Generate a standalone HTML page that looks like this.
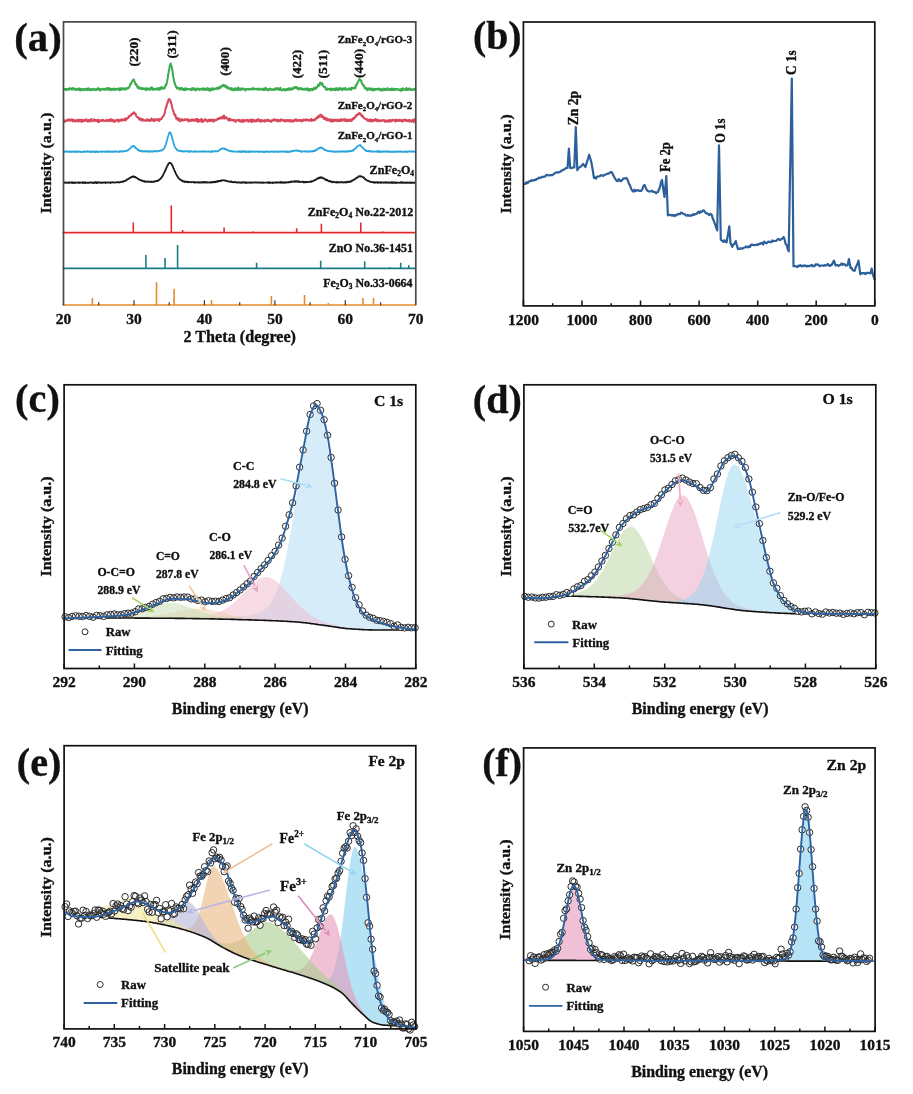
<!DOCTYPE html>
<html><head><meta charset="utf-8"><style>
html,body{margin:0;padding:0;background:#fff;}
svg{display:block;font-family:"Liberation Serif", serif;font-weight:bold;filter:blur(0.3px);}
text{stroke:#111;stroke-width:0.35px;stroke-linejoin:round;}
</style></head><body>
<svg width="913" height="1094" viewBox="0 0 913 1094">
<rect width="913" height="1094" fill="#fff"/>
<path d="M63.5,89.4l.4,.2 .3-.4 .4-.3 .3,.2 .4-.3 .3,.6 .4,.8 .3-1.1 .4-.1 .3,.7 .4-.1 .3-.2 .4-.6 .3,.6 .4,.4 .3-1.2 .4,.5 .3-.9 .4,.4 .4-.3 .3,.9 .4-.6 .3,.9 .4,0 .3-.2 .4-1.4 .3,1.2 .4,.3 .3,.1 .4-1 .3,.6 .4-.3 .3,.1 .4,1.1 .3-1.1 .4,.5 .3,.5 .4-.9 .4,.3 .3,.1 .4,0 .3-.8 .4,.8 .3,.8 .4-1.7 .3,1.4 .4-.4 .3-.5 .4,1.6 .3-.8 .4-1.1 .3,.7 .4,.3 .3-.4 .4,.5 .3-.5 .4,.5 .4,.4 .3-1.2 .4,.5 .3-.4 .4,.4 .3-.8 .4,.3 .3,.3 .4,.6 .3,.2 .4-1.5 .3,.3 .4,.9 .3-1.6 .4,.9 .3,.2 .4,.8 .3-.3 .4-.6 .4-.1 .3,.1 .4,1.1 .3-1.2 .4,.1 .3,.4 .4-.3 .3-.1 .4-.5 .3,.7 .4-.3 .3,1 .4-.3 .3-.5 .4,.5 .3-.6 .4,.8 .3-.6 .4,.3 .4-1.1 .3,1 .4-1.3 .3-.2 .4,1.1 .3-.4 .4,.7 .3,1.2 .4-1.8 .3,.1 .4,.5 .3,.1 .4-.4 .3,0 .4,.6 .3-.1 .4-1 .3,.6 .4,.1 .4-.7 .3,.8 .4-.7 .3,1.1 .4-.4 .3-.1 .4-.4 .3,.3 .4-1.2 .3,.6 .4,.9 .3-1.5 .4,1.7 .3-1.5 .4,1.5 .3-1 .4,1 .4-.4 .3-1 .4,1.7 .3,.1 .4-.9 .3-.2 .4,.1 .3-.5 .4,1.3 .3-1 .4,.3 .3-.5 .4,.1 .3-.4 .4,1.5 .3-.8 .4,.7 .3-.6 .4-.4 .4,.2 .3-.2 .4,.4 .3-.3 .4,.1 .3-.7 .4,.3 .3,1.5 .4-1.4 .3-.2 .4,.8 .3,.6 .4-1.7 .3,.7 .4-.2 .3-.7 .4,1.5 .3-.5 .4,0 .4-.5 .3,.7 .4-.6 .3,.2 .4-.6 .3-.1 .4,1.5 .3-1.2 .4,.4 .3-.3 .4-.3 .3-.2 .4,.5 .3-.8 .4-.2 .3-.3 .4,.3 .3-.8 .4-.8 .4-1.2 .3-1.2 .4,.6 .3-.8 .4-1.4 .3-.4 .4-.5 .3-.5 .4-.2 .3-.9 .4,1.3 .3-1.2 .4,1.8 .3,.5 .4,1 .3,1.4 .4,.5 .3-.8 .4,.4 .4,2.1 .3-.5 .4,1 .3,.9 .4-1.1 .3,0 .4,1.6 .3,0 .4,0 .3,.3 .4-.5 .3-.3 .4,.8 .3-.4 .4-.4 .3,1.4 .4-.4 .3,.3 .4-.8 .4,.2 .3-.2 .4,.1 .3,.7 .4-.6 .3,.7 .4,0 .3,1 .4-2 .3,1.3 .4-.5 .3,0 .4-.8 .3,.5 .4,.8 .3-.5 .4,.1 .3-.2 .4,.8 .4-.7 .3-1.3 .4,.9 .3-.8 .4-.7 .3,1.6 .4,1.1 .3-.8 .4-.7 .3,.1 .4,1.3 .3-.6 .4-.1 .3-.1 .4,.1 .3,.4 .4-.2 .3-.2 .4-.7 .4,.9 .3-.8 .4,1.1 .3-1.4 .4,.6 .3,.1 .4-.9 .3,1.8 .4-.1 .3-1.2 .4,.7 .3-.3 .4-1.9 .3,1.7 .4-.2 .3,0 .4-.8 .3,.4 .4-.1 .4,.7 .3-.8 .4-.4 .3,.6 .4-1.7 .3-.4 .4-1.6 .3,1.2 .4-1.5 .3-1.3 .4-1.6 .3-2.1 .4-1.9 .3-2.5 .4-2.2 .3-2.1 .4-1.3 .3-2.4 .4-1.8 .4-1.2 .3-.2 .4,1.9 .3,.6 .4,1.5 .3,1.8 .4,1.8 .3,2.9 .4,2.7 .3,1.3 .4,2 .3,1.6 .4,1.6 .3,.1 .4,1.8 .3,.3 .4,1.7 .3-.5 .4,1.1 .4,.9 .3-.9 .4,0 .3,.6 .4,0 .3-.5 .4,1 .3,1 .4-1.3 .3,0 .4-.4 .3,.8 .4-.9 .3,.2 .4,1.4 .3-1.3 .4,1.3 .3,.2 .4-.7 .4,.2 .3,.9 .4-1.3 .3-.2 .4-.5 .3,.9 .4,.9 .3-.3 .4-1.2 .3,.1 .4,.2 .3,.5 .4-.3 .3,.3 .4,0 .3-.3 .4,.1 .3,.2 .4-.2 .4,.4 .3,.8 .4-.7 .3-.4 .4-1 .3,1.3 .4-1.4 .3,.3 .4,1.3 .3,0 .4-.6 .3-.9 .4,.8 .3-.2 .4,.8 .3,1 .4-1.2 .4-.6 .3-.2 .4,.6 .3,0 .4-.6 .3,.7 .4-.7 .3,1.3 .4,0 .3,0 .4-.9 .3,.6 .4-.4 .3-.2 .4,.1 .3-.6 .4-.1 .3,1.4 .4-.6 .4,.2 .3,.5 .4-1.7 .3,.6 .4,.6 .3,.1 .4-.4 .3,.8 .4-.5 .3-.9 .4,.2 .3,1.1 .4-.3 .3-1.4 .4,2 .3-.5 .4,.5 .3-1.1 .4,.1 .4-.5 .3,2.2 .4-1.7 .3,1.1 .4-1.4 .3,.5 .4-1.1 .3,.8 .4,.8 .3-1.4 .4,1.4 .3-.4 .4-.9 .3,.3 .4,0 .3,.2 .4-.3 .3-.2 .4,.3 .4-.5 .3-.3 .4,.7 .3,.4 .4-1.5 .3,.8 .4-.6 .3-.4 .4,.9 .3-1 .4,1 .3-1.7 .4,.5 .3-.6 .4-.6 .3,.6 .4-.7 .3,.3 .4-.5 .4-.7 .3,.6 .4,.2 .3,.6 .4-.9 .3,.7 .4-.8 .3,1.7 .4-.8 .3-.2 .4,1.3 .3,.9 .4-1.3 .3,.4 .4,.4 .3,0 .4,1 .3-.6 .4,.2 .4,.9 .3-.8 .4,.8 .3-.8 .4-.1 .3-.3 .4,2.2 .3-1.2 .4,.3 .3-.1 .4,.1 .3-.1 .4,1.2 .3-1.8 .4-.3 .3,.3 .4-.1 .3,1.2 .4,.1 .4-1.1 .3-.3 .4,.7 .3,1 .4-2.5 .3,2 .4-.9 .3,1.2 .4-1.2 .3,.4 .4-.7 .3,.3 .4,1.4 .3-.3 .4-.7 .3-.3 .4-.6 .3,.9 .4,.2 .4,0 .3,0 .4-.6 .3,.6 .4,0 .3,.8 .4,.4 .3-1.2 .4-.4 .3,.4 .4-.3 .3-.1 .4,.4 .3-.6 .4,1 .3-.4 .4,.2 .3-.3 .4-.3 .4-.1 .3,.4 .4-.2 .3,.5 .4-.1 .3-.9 .4,.9 .3-.9 .4,.5 .3,.2 .4-1.1 .3,1.3 .4,0 .3-.1 .4-.2 .3,0 .4-.3 .3,.4 .4-.2 .4,.4 .3-.8 .4,.9 .3-.1 .4-.1 .3-.2 .4,.6 .3-1.3 .4,1.2 .3-.1 .4,0 .3,.1 .4-.6 .3,.2 .4,.5 .3-.1 .4-.1 .3-1 .4,1.2 .4,.4 .3-.1 .4-.5 .3-1.1 .4,1.5 .3-.6 .4-1.5 .3,1.8 .4-1.1 .3,.1 .4,.4 .3,1.1 .4-1 .3,.4 .4,.9 .3-.1 .4-1 .3-.1 .4-.6 .4,.3 .3,.7 .4,0 .3-.2 .4,.6 .3-1.1 .4,.4 .3,.5 .4-.1 .3,.3 .4-.4 .3-.4 .4,.4 .3-.8 .4-.4 .3,1.3 .4-.4 .3,.2 .4-1.2 .4,.8 .3-.1 .4-.2 .3-.8 .4,1.1 .3,.8 .4-.3 .3-.6 .4,.3 .3,.5 .4-2.1 .3,1.6 .4,.4 .3,0 .4,.7 .3-.4 .4-.5 .3,0 .4,.3 .4-.8 .3,.3 .4,.6 .3,.6 .4-1.3 .3,.1 .4,.1 .3,.7 .4-.8 .3,.9 .4-1.5 .3,.5 .4,0 .3,.5 .4,.2 .3-1.6 .4,.4 .4,.7 .3-.6 .4-.6 .3,1.5 .4-.4 .3,0 .4-.7 .3,.8 .4-.9 .3,.7 .4-1.3 .3-.2 .4,.5 .3-.7 .4,.7 .3-.4 .4-.9 .3,.5 .4-.3 .4,.8 .3-.9 .4,.3 .3,1.1 .4,.7 .3,.1 .4-1 .3,.2 .4,1 .3-.9 .4-.4 .3,.8 .4,.3 .3-.7 .4-.5 .3,.2 .4,1.3 .3-.8 .4,.4 .4,.2 .3,.3 .4-.6 .3,.5 .4-.8 .3,.3 .4-.4 .3,1.3 .4-.7 .3-.4 .4,.2 .3,.1 .4,.6 .3-1.4 .4,.3 .3,.4 .4,1.7 .3-.9 .4-.7 .4,.5 .3,.8 .4-1.4 .3,0 .4,.9 .3-.5 .4,.1 .3-.7 .4,1.4 .3-.1 .4-.7 .3,0 .4-1.7 .3,1.6 .4-.6 .3,.2 .4,.1 .3-.8 .4-1 .4,1 .3-1 .4-.1 .3-.5 .4-.3 .3-1.7 .4,1.7 .3-1.1 .4,0 .3,.1 .4-1.6 .3-1.3 .4,.4 .3-.1 .4,.6 .3,.6 .4-.8 .3,1.9 .4-.7 .4,1.6 .3,.3 .4,.3 .3,.6 .4,0 .3,.3 .4-.4 .3,1.3 .4,1.3 .3,.2 .4-.3 .3-.2 .4-.8 .3,1.3 .4-.8 .3,0 .4-.1 .3,.3 .4-.3 .4,.2 .3-.6 .4,.4 .3,1.6 .4-1.4 .3-.1 .4,.5 .3,.1 .4-1.1 .3,.6 .4,.7 .3-.4 .4-.1 .3,.9 .4-1.4 .3,.5 .4-.4 .3,1.2 .4-2 .4,.7 .3,.1 .4,.8 .3-.1 .4,.5 .3-1.8 .4,1.4 .3-.6 .4-.2 .3,.7 .4-.9 .3-.7 .4,1 .3-.7 .4,.6 .3,.6 .4-.1 .3,.8 .4-1.1 .4-.8 .3,.5 .4-.1 .3-.2 .4,1 .3-.7 .4-.8 .3,1.6 .4-.5 .3,.3 .4-.2 .3,.3 .4-.3 .3,.7 .4-.5 .3-.1 .4,0 .3-1.1 .4,.7 .4,0 .3,.2 .4-.9 .3,1.7 .4-.9 .3-.9 .4-.4 .3,.8 .4,0 .3-.5 .4,.4 .3-.6 .4,.5 .3-1.1 .4,.1 .3,.2 .4,.6 .3-2.7 .4-.2 .4-.8 .3,.3 .4-1.8 .3-.3 .4-.4 .3-1.2 .4-.5 .3-.2 .4-1.3 .3,.3 .4,.7 .3,.6 .4,.2 .3-.5 .4,1.4 .3,1.5 .4,.5 .3,.3 .4,.2 .4,1.5 .3-.2 .4,.2 .3,.7 .4,1.7 .3-.4 .4,.8 .3-.7 .4,1 .3-.7 .4,.4 .3,1.7 .4-1 .3-.7 .4,.3 .3,.3 .4,.6 .3-1 .4-.7 .4,.9 .3,.2 .4,.1 .3,.7 .4-.6 .3,.3 .4-1.1 .3,1.2 .4,.7 .3-.7 .4-.3 .3-.1 .4,1 .3-1.6 .4,.5 .3,.3 .4,.2 .4-.7 .3,.4 .4-.3 .3,.2 .4-.1 .3-.6 .4,.7 .3,.5 .4-1.1 .3,.4 .4,.6 .3-1 .4,.7 .3-.7 .4,1.3 .3,.7 .4-.2 .3-1.3 .4,.6 .4-.4 .3,0 .4,.9 .3-1.8 .4,1.5 .3-.7 .4,.9 .3-.8 .4-.5 .3,.6 .4,.3 .3-.4 .4,.2 .3-.6 .4-.9 .3,1.8 .4-.1 .3-.4 .4,0 .4,.6 .3-.9 .4-.2 .3,.3 .4,.9 .3-1.6 .4,1.6 .3-1.1 .4-.3 .3,1.4 .4-.8 .3-.7 .4,.5 .3,.8 .4,.2 .3-1 .4,.5 .3,.2 .4-.8 .4,.6 .3-.3 .4-.3 .3,.1 .4,.3 .3,0 .4-.4 .3,.1 .4,.9 .3-.5 .4,.4 .3,.2 .4-.4 .3,1 .4-1.8 .3,1 .4-.7 .3,1.3 .4-.1 .4-2.2 .3,.6 .4,1 .3,0 .4,0 .3-.5 .4,.3 .3,.2 .4-.5 .3,.7 .4-2 .3,1.8 .4-1 .3,1.2 .4-.8 .3-.4 .4,.8 .3-.8 .4,0 .4-.4 .3,1 .4,.3 .3,.3 .4-.7 .3,.7 .4-.6 .3-.1 .4,.4 .3,.3 .4-.8 .3,0 .4,.1 .3,.1 .4-.6 .3,1.2 .4-.9 .3,.6 .4-.8" fill="none" stroke="#3aab4f" stroke-width="2.0" stroke-linejoin="round"/>
<path d="M63.5,120.8l.4,0 .3-.5 .4,1.5 .3-1 .4,.8 .3-.4 .4-1 .3,.1 .4,.5 .3-.2 .4,0 .3-.2 .4-.9 .3,.9 .4-1.2 .3,1.6 .4-.7 .3,0 .4,.3 .4,.3 .3-1 .4-.2 .3,.4 .4-.6 .3,.7 .4,1.5 .3-1.6 .4,1.1 .3-1.3 .4,1.1 .3-.4 .4,.1 .3,.4 .4,.7 .3-.9 .4-.1 .3-.6 .4,.9 .4-.5 .3,.7 .4-.6 .3,1.1 .4-2.2 .3,1 .4,.7 .3-.7 .4-.3 .3,.3 .4-.7 .3,.9 .4,1.4 .3-.7 .4-1.4 .3,.1 .4,.3 .3,.9 .4-1.1 .4,0 .3,1 .4,0 .3-.8 .4-.4 .3-.3 .4,.5 .3-.9 .4,1.8 .3-.8 .4,.6 .3,.9 .4-.4 .3-1.4 .4,1.2 .3,.2 .4-1.2 .3-.1 .4,.5 .4-.9 .3,1.8 .4-2.3 .3,.8 .4,.5 .3,0 .4,.2 .3,.1 .4-.3 .3,.8 .4-1.9 .3,1.2 .4-.4 .3,.5 .4,.1 .3-.7 .4,.2 .3,.8 .4-.3 .4-.6 .3,1.7 .4,.1 .3-2.2 .4,1 .3,1.3 .4-1 .3-.3 .4-.3 .3-.2 .4,.2 .3-.2 .4,.8 .3-.7 .4,0 .3-.5 .4,.7 .3-.5 .4,.4 .4,.7 .3-.4 .4,.1 .3-.1 .4-.2 .3-.1 .4-.1 .3,.7 .4-1.1 .3,1.4 .4-.8 .3-.5 .4,.2 .3-.1 .4,.5 .3-.5 .4,1.1 .4-1.2 .3-.9 .4,.9 .3-.7 .4,1.1 .3,.7 .4-.3 .3-1.1 .4,.3 .3,1.5 .4-.9 .3-.2 .4,.7 .3,.8 .4-.7 .3-.7 .4,.1 .3,.2 .4-.8 .4-.2 .3,.6 .4-.6 .3,.5 .4,.1 .3,1.4 .4-2 .3,.5 .4-.1 .3,.4 .4,.3 .3-.9 .4-.2 .3-.5 .4,.4 .3,.8 .4-.3 .3-.7 .4,.4 .4,.2 .3,.2 .4-.7 .3,.2 .4-1.1 .3,.3 .4,1.6 .3-2.4 .4,.9 .3,.2 .4-.6 .3-.5 .4,.2 .3-.3 .4-.3 .3-1.5 .4,.7 .3-.9 .4-.2 .4,0 .3-.2 .4-.3 .3-1.3 .4,.4 .3-.2 .4-.3 .3-.1 .4-1 .3-.1 .4,.7 .3-1.2 .4,1.2 .3-.1 .4,.5 .3-.4 .4,.9 .3,1 .4,1 .4,.5 .3-.2 .4,.4 .3,0 .4,1 .3,0 .4,.8 .3,.9 .4-.9 .3-.6 .4,.5 .3-.2 .4,.3 .3,1.6 .4-.6 .3-1 .4,1.4 .3,.4 .4-.9 .4-.2 .3,.2 .4,.4 .3,.3 .4,.3 .3,0 .4,0 .3,.1 .4-.4 .3-1.3 .4,.9 .3,.2 .4-.4 .3,.8 .4-.8 .3-.3 .4,1.4 .3-.5 .4-.2 .4,.4 .3,.1 .4-.5 .3-1.7 .4,1.1 .3,.1 .4-.3 .3,.7 .4,.6 .3-1.1 .4-.4 .3,1.9 .4-1.5 .3-.5 .4,.9 .3,.1 .4-.7 .3,.8 .4-.8 .4-.3 .3,.7 .4,.3 .3-.9 .4,.5 .3-.3 .4,1.6 .3-2.2 .4,1.2 .3-1 .4-.2 .3,.3 .4-.1 .3-.1 .4-.9 .3-.9 .4-.5 .3,.1 .4-.6 .4-.2 .3-1.4 .4-.6 .3-.7 .4-1.9 .3-2.2 .4-1.1 .3-1.5 .4,.4 .3-2.8 .4-.1 .3-1.6 .4-.4 .3-1.3 .4-1.4 .3-.4 .4,.1 .3,.3 .4,.2 .4,1.1 .3,2 .4-.8 .3,2.4 .4,.7 .3,2 .4,1.8 .3,.7 .4,1.8 .3-.3 .4,2.7 .3-.1 .4,1.6 .3,.5 .4-1 .3,1.7 .4,1.1 .3,1.2 .4-.4 .4,.3 .3-.8 .4,2 .3,.4 .4-1 .3,0 .4-.7 .3,1.6 .4,1.1 .3-1.1 .4,.4 .3-.4 .4-.9 .3,1.5 .4-1.5 .3,.6 .4,.3 .3,.4 .4-.2 .4,0 .3-.7 .4-.3 .3,.8 .4-.4 .3-.3 .4,0 .3,.5 .4-.8 .3,.3 .4-.2 .3,1.1 .4,.2 .3,1 .4-2.1 .3,.5 .4,.9 .3-.6 .4-.1 .4,1.2 .3-1.2 .4-.5 .3-.1 .4,1 .3,0 .4-1 .3,.3 .4,.9 .3,0 .4-.7 .3,.7 .4,0 .3-1.4 .4,.9 .3,.4 .4-.6 .4-.9 .3,1.1 .4,.7 .3,.5 .4-2.3 .3,2.9 .4-2.3 .3,1.3 .4,.2 .3-.2 .4-.5 .3-.8 .4,1.1 .3-.8 .4-1.1 .3,3.2 .4-1.2 .3,.6 .4-1.6 .4,1.4 .3,.1 .4,0 .3-1 .4-.7 .3,.6 .4-1.2 .3,.3 .4,1.1 .3-.7 .4,.5 .3,.1 .4,1.2 .3-.4 .4-.8 .3,.7 .4-1.2 .3,.3 .4,.7 .4-1.3 .3,.6 .4-.6 .3,.8 .4,.9 .3-1.4 .4,.6 .3-.7 .4-.2 .3,0 .4,1.5 .3,.6 .4-1.2 .3-.7 .4,.8 .3-.7 .4,.6 .3-.3 .4-.1 .4,.1 .3-.8 .4,0 .3-.9 .4,.6 .3-.7 .4,.6 .3-.7 .4,.5 .3,0 .4-1.3 .3,.2 .4-.3 .3,.8 .4,.4 .3-.7 .4-.8 .3,1 .4-1.9 .4,1.8 .3-1.3 .4-1.3 .3,3.4 .4-.6 .3-1.4 .4,.9 .3-.1 .4,.4 .3-.8 .4,.7 .3,.9 .4,0 .3,.8 .4-.5 .3,1.5 .4-1.7 .3,.8 .4-1.2 .4,.5 .3,1.6 .4-1.2 .3,.9 .4-.3 .3-.5 .4,.5 .3-.1 .4,.1 .3,.7 .4,0 .3-.7 .4-.2 .3,.7 .4-.2 .3,.7 .4,1 .3-1.1 .4-.5 .4-.1 .3-.4 .4,0 .3-.1 .4,.4 .3,0 .4,.7 .3-.7 .4,.2 .3-.7 .4,1.8 .3-.7 .4,.8 .3-.6 .4,.4 .3-1.1 .4,.6 .3,1.2 .4-2.3 .4,1.4 .3,.3 .4-.7 .3,.2 .4,.3 .3-1.2 .4,.7 .3-.8 .4,.1 .3,0 .4,.3 .3,.2 .4,.2 .3-1.1 .4,2 .3-.5 .4-.2 .3-.7 .4,.2 .4,.4 .3-.1 .4-1.3 .3,1.5 .4,1.3 .3-2.9 .4,1.8 .3-.4 .4-.3 .3,.9 .4-1.6 .3,.8 .4,.8 .3-1 .4-.1 .3,.3 .4-.3 .3,1.2 .4-1.5 .4,1.1 .3-1.3 .4,1.2 .3-.5 .4-1.5 .3,1.5 .4-.6 .3,.4 .4,1.2 .3-1.6 .4,0 .3,1.5 .4-.8 .3,.9 .4-.7 .3-.8 .4,.5 .3,.8 .4-.2 .4-.5 .3,0 .4-.1 .3-.3 .4,1.5 .3-1.1 .4-.7 .3,.4 .4,.7 .3,0 .4-.5 .3-.4 .4,.5 .3-1.1 .4,.3 .3,1.2 .4-.7 .3,.5 .4,.5 .4-.3 .3-.4 .4,1.3 .3-.9 .4-.7 .3,.7 .4-.2 .3-.8 .4,.6 .3-.1 .4-1.2 .3,1.1 .4,0 .3-.1 .4-.8 .3,.8 .4,.2 .3,.1 .4-.7 .4,1 .3-1.1 .4,.6 .3,1 .4-1.3 .3,.1 .4,1 .3-.9 .4,.1 .3,.3 .4,.5 .3-2 .4,.8 .3-.1 .4,0 .3,.1 .4,0 .3,.7 .4-.7 .4,.6 .3,.2 .4-.7 .3,.5 .4,1 .3-.9 .4-.5 .3,.3 .4-.5 .3,.7 .4,.4 .3-1.1 .4,.4 .3,.8 .4-1 .3,.5 .4-.8 .4,.1 .3,.2 .4,1.6 .3-1.5 .4-.1 .3,0 .4,.2 .3,.5 .4-.3 .3,1.2 .4-1.1 .3,.7 .4-.7 .3,.2 .4-1.2 .3,.8 .4,0 .3-.1 .4-1.2 .4,1.9 .3-.8 .4,0 .3,.1 .4,0 .3,.4 .4-1.1 .3,.3 .4,.7 .3-.1 .4-.3 .3-.1 .4-.2 .3,.5 .4,.7 .3-1.3 .4,1.5 .3-.4 .4-.8 .4,.7 .3-1.3 .4-.2 .3,.3 .4,.5 .3,.1 .4-.2 .3,.4 .4-1.3 .3,1.5 .4-1.1 .3,.4 .4,.2 .3-.5 .4-.1 .3,.2 .4,.6 .3,.3 .4,0 .4-1 .3,.1 .4-.1 .3,.8 .4-1.5 .3,1.9 .4-1.1 .3-.2 .4,.6 .3,.3 .4-.5 .3,.4 .4-.7 .3,.5 .4-.1 .3-1 .4,.8 .3-1 .4-.2 .4-.9 .3,.2 .4,.4 .3-1.5 .4,.9 .3-.4 .4-.3 .3-1.7 .4,1 .3,.3 .4-1 .3,.5 .4-1.6 .3,1.9 .4-.8 .3,1.1 .4-1.5 .3,1.7 .4-.4 .4,.9 .3-.8 .4,.4 .3,2 .4-1.6 .3,.3 .4,.5 .3-.2 .4,1.5 .3,.5 .4-1.3 .3-.4 .4,1.8 .3,.1 .4-.1 .3,.3 .4-1.1 .3,.5 .4-.7 .4,.1 .3,1.4 .4-.9 .3,1.8 .4-1.3 .3-.4 .4,.9 .3,.6 .4-.8 .3-1 .4,1 .3,.6 .4-1.1 .3-.2 .4,1.1 .3-.5 .4-.8 .3,.4 .4-.2 .4,.7 .3-.1 .4,.6 .3-.3 .4-1.3 .3,1.1 .4,.3 .3-.2 .4,.3 .3-.9 .4-.3 .3,1.1 .4-1.2 .3-.6 .4,1.9 .3-1.1 .4,.3 .3-.7 .4,.1 .4,.1 .3,.4 .4,.5 .3-1.6 .4,1.8 .3-1.2 .4,.1 .3,1 .4-.4 .3-.9 .4,2 .3-1.7 .4,.7 .3-.1 .4,.7 .3-1.1 .4,.8 .3-1.1 .4,1.1 .4-1.2 .3,.2 .4,1.3 .3-1 .4-.3 .3,1.2 .4-1.3 .3-.8 .4,.7 .3-1.3 .4,1.2 .3-.2 .4-1.4 .3-.3 .4,.2 .3-.5 .4-.9 .3,.5 .4-1.9 .4,.6 .3-.4 .4-.2 .3,0 .4-1.2 .3,.8 .4-.7 .3-.4 .4-.4 .3,.1 .4,1 .3-.6 .4,.8 .3,.9 .4,.3 .3,.7 .4-.7 .3-.1 .4,1.6 .4,0 .3,.8 .4-.3 .3,1 .4,.1 .3,.2 .4,.1 .3,.2 .4,.1 .3,.2 .4,.6 .3-.8 .4,1.5 .3-1 .4,.8 .3-.6 .4,0 .3,1.4 .4-1.4 .4-.5 .3,.4 .4,.2 .3,1.5 .4-1.1 .3,.4 .4-1.1 .3,.8 .4,.2 .3,.7 .4-1.5 .3,.8 .4-.1 .3-.8 .4,.6 .3-.2 .4-1.2 .4,1.8 .3-.1 .4-.5 .3-.6 .4,1.7 .3-.7 .4,.5 .3,.2 .4-1.2 .3,.9 .4-.7 .3,.1 .4,0 .3,.1 .4,.7 .3-.6 .4-.2 .3-.1 .4,.4 .4-.7 .3,.2 .4,.3 .3-.3 .4,.2 .3-.3 .4,1.6 .3-.4 .4-.5 .3-.3 .4,1.3 .3-1.1 .4-.2 .3,.2 .4,0 .3,.7 .4-.9 .3,1.3 .4-1.8 .4,1 .3-1.1 .4,1.7 .3-1.3 .4,.2 .3,.6 .4,.2 .3-1.4 .4,.4 .3-.6 .4,.9 .3-.1 .4-.2 .3-.2 .4,.2 .3-.2 .4,.8 .3,.6 .4-2.1 .4,1.1 .3-.2 .4,.6 .3-.9 .4,.5 .3-.6 .4,1.1 .3-.4 .4-.1 .3,.3 .4-.4 .3-.8 .4,1.3 .3-.2 .4-.2 .3,.7 .4,.1 .3-1.4 .4,.2 .4,1.4 .3-.1 .4-1.3 .3-.2 .4,.3 .3,.1 .4-.7 .3,1 .4-.8 .3,0 .4,1.3 .3-.9 .4,.3 .3,.4 .4,.2 .3-.7 .4,.2 .3-.5 .4,1.5 .4-.6 .3-1.1 .4,.7 .3,.4 .4-.1 .3,.8 .4-.3 .3-1.1 .4,.2 .3-.7 .4,.9 .3,0 .4,1.5 .3-1.6 .4-1.3 .3,.9 .4,.4 .3-.8 .4,.3" fill="none" stroke="#d8475b" stroke-width="2.0" stroke-linejoin="round"/>
<path d="M63.5,151.6l.4,.2 .3-.1 .4-.2 .3,.3 .4-.2 .3,0 .4-.2 .3,.1 .4,.3 .3-.4 .4,.3 .3,.1 .4-.2 .3,.1 .4-.2 .3,.4 .4,0 .3-.2 .4-.4 .4,.2 .3,.4 .4,.1 .3-.3 .4,.2 .3-.3 .4,0 .3,.1 .4,.1 .3-.4 .4,.5 .3,0 .4-.4 .3-.1 .4,.4 .3-.3 .4-.3 .3,.6 .4-.1 .4-.1 .3,.5 .4-.4 .3-.2 .4,.2 .3-.2 .4,0 .3,.3 .4-.2 .3,0 .4,.4 .3-.2 .4,0 .3,0 .4,0 .3,.2 .4-.3 .3,.3 .4-.5 .4,.1 .3-.2 .4,.2 .3,.2 .4,.2 .3-.5 .4,.2 .3-.1 .4-.1 .3-.1 .4,.3 .3-.4 .4,.4 .3,0 .4-.2 .3,0 .4-.1 .3,.6 .4-.6 .4,.6 .3-.2 .4-.2 .3-.2 .4,.5 .3,.1 .4-.5 .3,.1 .4,.3 .3-.2 .4,.4 .3-.5 .4,.2 .3-.4 .4,.7 .3-.6 .4-.3 .3,.4 .4,0 .4,.4 .3-.4 .4,.1 .3,.1 .4,.2 .3-.4 .4,.3 .3-.1 .4-.2 .3,.1 .4,0 .3-.2 .4,.4 .3-.5 .4,.5 .3-.1 .4-.2 .3-.1 .4,.1 .4,.1 .3,.1 .4-.1 .3,.1 .4-.3 .3,.2 .4-.4 .3,.5 .4-.1 .3-.1 .4,.3 .3-.1 .4-.7 .3,.5 .4-.3 .3,.5 .4,.3 .4-.6 .3,.1 .4,0 .3,.1 .4,0 .3,.2 .4-.5 .3,.5 .4-.5 .3,.3 .4,.1 .3-.1 .4-.3 .3,.1 .4,0 .3,.1 .4,.2 .3-.5 .4,.4 .4,0 .3,0 .4,0 .3,.2 .4-.3 .3,.1 .4-.1 .3,.3 .4-.8 .3,.7 .4-.3 .3-.1 .4-.1 .3-.2 .4,.3 .3-.1 .4,.2 .3-.4 .4,.6 .4-.3 .3-.1 .4-.1 .3-.1 .4-.1 .3,.1 .4,0 .3-.1 .4-.3 .3,.1 .4-.2 .3,0 .4,.2 .3-.5 .4-.4 .3-.5 .4-.3 .3-.3 .4,.1 .4-.6 .3-.2 .4-.6 .3-.2 .4-.1 .3-.7 .4-.2 .3-.3 .4,.2 .3-.4 .4,.1 .3,.1 .4,.2 .3,.6 .4,.8 .3-.4 .4,.8 .3,.2 .4,.1 .4,.5 .3,.4 .4,.2 .3,.8 .4-.5 .3,.6 .4,.2 .3,0 .4,.3 .3,.2 .4,0 .3,.1 .4,.1 .3-.4 .4,.7 .3,.2 .4-.2 .3,0 .4-.5 .4,.3 .3-.1 .4,0 .3,.4 .4-.4 .3,.2 .4-.4 .3,.4 .4,0 .3-.1 .4,0 .3,.5 .4-.6 .3,0 .4,0 .3,.4 .4,.2 .3-.3 .4-.3 .4,.1 .3,.3 .4-.4 .3,.5 .4-.1 .3-.2 .4,.1 .3,0 .4,.1 .3-.5 .4,.4 .3-.3 .4-.1 .3,.2 .4-.1 .3-.2 .4-.1 .3,.1 .4,.5 .4,.1 .3-.3 .4,0 .3-.3 .4,0 .3,.1 .4-.3 .3-.1 .4,.2 .3-.2 .4-.2 .3,.2 .4-.2 .3,.1 .4-.3 .3-.2 .4-.2 .3-.3 .4-.4 .4-.4 .3-.2 .4-.6 .3-.5 .4-1.4 .3-.6 .4-1 .3-1 .4-1.3 .3-1.3 .4-1.1 .3-1.4 .4-1.7 .3-.7 .4-1.3 .3-1.2 .4-.5 .3-.7 .4,.3 .4,0 .3,.5 .4,1 .3,1 .4,1.4 .3,1.3 .4,1.3 .3,1.3 .4,.7 .3,1.9 .4,.8 .3,1.4 .4,1.1 .3,.7 .4,.5 .3,.7 .4,.5 .3,.3 .4,.4 .4,.2 .3,.7 .4-.1 .3,.4 .4-.1 .3,.2 .4,0 .3,.2 .4,.1 .3,0 .4-.2 .3,.1 .4,.5 .3-.4 .4,.1 .3,.3 .4,0 .3-.1 .4-.2 .4,.6 .3-.4 .4,.1 .3-.1 .4-.3 .3,.1 .4,.3 .3,0 .4-.1 .3-.1 .4-.1 .3,.2 .4-.2 .3,.5 .4,.1 .3,.3 .4-.4 .3-.3 .4,0 .4-.5 .3,.6 .4,0 .3,.3 .4-.1 .3,0 .4-.1 .3,.1 .4,.2 .3-.5 .4,.1 .3-.2 .4,.7 .3-.1 .4-.1 .3-.4 .4,.3 .4-.1 .3,.1 .4-.1 .3,.2 .4-.2 .3,.2 .4-.1 .3-.1 .4,0 .3,0 .4,.2 .3-.2 .4,.1 .3-.1 .4-.2 .3,.4 .4-.3 .3,.3 .4,0 .4-.5 .3,.2 .4,.1 .3-.1 .4-.1 .3,.4 .4-.2 .3,.1 .4-.1 .3,.1 .4-.2 .3,.2 .4,.1 .3-.1 .4-.1 .3-.2 .4,.3 .3,0 .4-.1 .4-.1 .3,.2 .4,.4 .3-.5 .4,.1 .3,0 .4-.6 .3,.5 .4-.2 .3,.5 .4-.4 .3-.1 .4,.1 .3,0 .4-.1 .3,0 .4-.3 .3,.2 .4,.2 .4,.1 .3-.3 .4-.2 .3,.1 .4-.1 .3,0 .4-.3 .3-.4 .4-.1 .3-.2 .4-.2 .3-.2 .4-.4 .3-.4 .4,.1 .3-.4 .4,.2 .3-.1 .4-.4 .4,.4 .3,0 .4-.1 .3,.4 .4,.2 .3-.5 .4,.6 .3,.1 .4,.2 .3,.3 .4-.2 .3,.2 .4,.2 .3,.2 .4,.3 .3-.2 .4,.2 .3,.5 .4,0 .4,.1 .3-.3 .4,.2 .3,.2 .4,.1 .3-.1 .4,.4 .3-.2 .4,0 .3,.1 .4,.1 .3-.2 .4,.3 .3-.1 .4,0 .3,0 .4,.1 .3,.1 .4,0 .4-.2 .3,.1 .4-.1 .3,.2 .4-.2 .3-.4 .4,.7 .3-.3 .4-.2 .3,.2 .4-.2 .3,.6 .4-.3 .3-.4 .4,.4 .3-.2 .4,.5 .3-.6 .4-.2 .4,.4 .3,0 .4-.1 .3-.3 .4,.5 .3,.3 .4-.7 .3,.6 .4-.4 .3,.6 .4-.4 .3-.1 .4,.3 .3-.2 .4-.2 .3,.3 .4-.3 .3-.2 .4,.8 .4-.5 .3-.1 .4,.2 .3-.4 .4,.1 .3,.2 .4-.1 .3,.2 .4,.2 .3-.3 .4,.2 .3,0 .4-.4 .3,.3 .4-.2 .3,.4 .4-.2 .3,0 .4-.3 .4,.3 .3-.2 .4,.3 .3-.2 .4-.1 .3,.3 .4,0 .3-.3 .4,.4 .3-.3 .4,0 .3,.1 .4-.2 .3,.1 .4,0 .3,.4 .4,0 .3-.4 .4,.4 .4-.3 .3,0 .4,.1 .3-.1 .4,.4 .3-.4 .4-.3 .3,.5 .4-.3 .3,0 .4-.5 .3,.8 .4-.1 .3,0 .4,.1 .3,.1 .4-.4 .3,.2 .4-.3 .4,.1 .3,.3 .4-.2 .3-.3 .4,.3 .3-.1 .4-.1 .3,.2 .4-.1 .3-.3 .4,.1 .3,.6 .4-.6 .3,.3 .4,.1 .3,0 .4-.4 .3,.2 .4,.1 .4,.1 .3-.3 .4-.1 .3,.4 .4,.1 .3-.2 .4-.2 .3,.2 .4,0 .3,.1 .4-.4 .3,.3 .4-.1 .3-.2 .4,.3 .3-.1 .4,0 .3,.1 .4-.4 .4,.3 .3,.1 .4,0 .3,.1 .4-.4 .3-.1 .4,.4 .3,0 .4,.3 .3-.3 .4-.3 .3,.3 .4-.3 .3-.1 .4,.8 .3-.5 .4,0 .4,0 .3,.2 .4-.3 .3,.1 .4-.5 .3-.1 .4,.5 .3-.1 .4-.2 .3-.2 .4,0 .3-.3 .4,.4 .3-.3 .4-.1 .3-.1 .4,.1 .3-.1 .4,0 .4-.4 .3,.4 .4,.3 .3-.4 .4,.1 .3,.3 .4,.1 .3,0 .4-.4 .3,.5 .4-.3 .3,.2 .4,.3 .3-.1 .4,.3 .3,.5 .4-.5 .3,.1 .4-.3 .4,0 .3,0 .4,.1 .3-.1 .4,.1 .3,.1 .4-.2 .3-.1 .4,0 .3,.4 .4-.1 .3,.2 .4,0 .3-.3 .4,.2 .3-.4 .4,.7 .3-.2 .4-.3 .4-.2 .3,.3 .4-.4 .3,.2 .4,.2 .3-.1 .4-.2 .3,.3 .4-.5 .3,.3 .4-.3 .3-.1 .4,.2 .3-.4 .4,.4 .3-.6 .4,.4 .3-.8 .4,.2 .4-.6 .3-.2 .4,0 .3-.1 .4-.6 .3,.2 .4-.6 .3-.1 .4-.1 .3-.1 .4-.7 .3,.6 .4-.2 .3-.2 .4-.1 .3,0 .4,.2 .3,.6 .4,0 .4,.1 .3,.4 .4,.6 .3-.1 .4,.2 .3,.6 .4,0 .3,.1 .4,.1 .3-.1 .4,.3 .3,.2 .4,.2 .3,.2 .4,.1 .3,0 .4,.1 .3-.2 .4-.2 .4,.3 .3,0 .4,.1 .3,.1 .4-.2 .3,0 .4,.2 .3,.1 .4-.2 .3,.3 .4-.1 .3-.2 .4,.2 .3,.4 .4-.5 .3,.4 .4,0 .3,0 .4-.4 .4,.5 .3-.3 .4-.1 .3,0 .4,.2 .3-.2 .4,0 .3,.3 .4-.4 .3-.1 .4,.4 .3,0 .4,0 .3-.4 .4,.4 .3-.1 .4,.3 .3-.6 .4,.3 .4-.1 .3-.3 .4,.2 .3,.3 .4-.3 .3-.1 .4,.3 .3,.1 .4,0 .3-.4 .4,.1 .3,.2 .4-.3 .3-.1 .4,.3 .3,.2 .4-.6 .3-.3 .4,.2 .4,0 .3,.2 .4,.1 .3-.2 .4-.2 .3,.1 .4-.4 .3,.1 .4-.3 .3,.5 .4-.5 .3-.6 .4-.3 .3-.1 .4-.6 .3-.1 .4-.4 .3,0 .4-.7 .4-.4 .3-.5 .4-.4 .3-.1 .4-.4 .3,0 .4-.5 .3,.1 .4-.2 .3,0 .4-.3 .3,.4 .4,.6 .3,.5 .4,.1 .3,.5 .4,.1 .3,.4 .4,.4 .4,.7 .3,.2 .4,.2 .3,.3 .4,.5 .3,.2 .4,0 .3,.7 .4-.1 .3,.1 .4,.4 .3,0 .4-.1 .3,.2 .4-.3 .3,.2 .4-.3 .3,.7 .4-.6 .4,.6 .3-.3 .4,0 .3,.2 .4,.1 .3,.1 .4,.2 .3-.3 .4,.2 .3-.3 .4,.2 .3-.1 .4-.1 .3,.1 .4,0 .3,.1 .4,0 .4-.1 .3-.1 .4,.3 .3-.5 .4,.2 .3,.5 .4-.9 .3,.4 .4,.3 .3-.4 .4,.8 .3-1 .4,.8 .3,0 .4-.1 .3-.2 .4,.1 .3-.3 .4,.4 .4-.4 .3,.2 .4,.2 .3-.4 .4,.2 .3,.1 .4-.3 .3,.5 .4-.2 .3-.4 .4,.3 .3-.1 .4,0 .3,.2 .4-.2 .3,.3 .4-.3 .3,.3 .4-.2 .4,.2 .3-.3 .4,0 .3-.1 .4,.4 .3,0 .4,.3 .3-.2 .4-.2 .3-.1 .4,.1 .3,0 .4,.3 .3-.2 .4-.3 .3,0 .4,.4 .3-.2 .4-.1 .4,.3 .3-.3 .4,0 .3,0 .4-.3 .3,.5 .4-.4 .3,.2 .4-.1 .3,.3 .4-.1 .3,0 .4-.4 .3,.4 .4-.3 .3,.3 .4,0 .3,0 .4,.4 .4-.3 .3,0 .4-.1 .3-.1 .4,.3 .3,0 .4-.5 .3,.5 .4-.1 .3,.1 .4-.1 .3-.4 .4,0 .3,.6 .4-.3 .3-.3 .4,.3 .3-.1 .4-.3 .4-.1 .3,.2 .4,.3 .3,0 .4-.1 .3,.1 .4,.1 .3-.5 .4,.3 .3-.1 .4-.1 .3,.2 .4,.1 .3-.1 .4-.2 .3,.2 .4,.5 .3-.6 .4-.2" fill="none" stroke="#2aa5db" stroke-width="1.8" stroke-linejoin="round"/>
<path d="M63.5,182.7l.4,.1 .3-.1 .4-.3 .3,.5 .4-.4 .3-.1 .4,.1 .3,.1 .4,.2 .3,0 .4-.2 .3,.2 .4-.1 .3,.1 .4-.4 .3-.1 .4,.5 .3-.4 .4,.2 .4,0 .3,0 .4,0 .3,.3 .4-.8 .3,.7 .4,.3 .3-.4 .4-.1 .3,.2 .4,.2 .3-.6 .4,.3 .3-.1 .4,.2 .3-.1 .4,.1 .3-.2 .4,.1 .4-.2 .3,0 .4,.1 .3,0 .4-.2 .3,.6 .4-.4 .3-.2 .4,.5 .3-.4 .4,.2 .3-.1 .4,.1 .3,0 .4-.2 .3,.1 .4,.4 .3-.8 .4,.4 .4,.1 .3-.3 .4,0 .3,.7 .4-.6 .3,.5 .4-.3 .3-.1 .4,.1 .3,0 .4,.2 .3-.2 .4-.1 .3,.1 .4,.2 .3-.1 .4-.4 .3,.1 .4,.2 .4-.2 .3,0 .4-.1 .3,.2 .4,.1 .3,.1 .4-.2 .3,.4 .4-.4 .3,.6 .4-.4 .3-.1 .4-.2 .3-.5 .4,.6 .3,0 .4,.4 .3-.7 .4,.7 .4-.5 .3,.2 .4-.6 .3,.5 .4-.1 .3,.2 .4-.1 .3-.3 .4,.5 .3-.1 .4,0 .3,.1 .4,0 .3-.2 .4-.3 .3,0 .4,.5 .3-.1 .4-.1 .4-.1 .3,0 .4,0 .3,0 .4-.1 .3,.6 .4-.4 .3-.2 .4-.1 .3,.1 .4,.3 .3,0 .4-.2 .3,0 .4-.1 .3-.1 .4,.4 .4-.2 .3,.5 .4-.7 .3,.1 .4,.2 .3-.2 .4-.2 .3,0 .4,.2 .3,.1 .4-.1 .3,.2 .4,0 .3-.2 .4,0 .3-.1 .4,.2 .3,0 .4-.2 .4,.1 .3-.2 .4-.2 .3,.1 .4,.3 .3-.1 .4,.2 .3-.3 .4,.1 .3,0 .4-.1 .3-.3 .4,0 .3,0 .4-.3 .3,.2 .4,.1 .3-.4 .4,.4 .4-.6 .3-.1 .4-.1 .3-.3 .4,.1 .3-.2 .4,.1 .3-.3 .4-.2 .3-.4 .4-.4 .3,0 .4-.4 .3,.2 .4-.5 .3,.1 .4-.4 .3-.2 .4-.4 .4-.2 .3-.1 .4-.2 .3-.5 .4,.1 .3,.3 .4-.7 .3-.1 .4-.1 .3-.2 .4,.6 .3-.2 .4,.1 .3,.5 .4,.2 .3-.5 .4,.6 .3,.1 .4,.2 .4,.2 .3,.1 .4,.6 .3,0 .4,.2 .3,.4 .4,.1 .3,.2 .4,.2 .3,.4 .4,0 .3,0 .4,0 .3,.3 .4,0 .3,.4 .4,.1 .3-.3 .4,.5 .4,.2 .3,0 .4-.2 .3,.6 .4-.4 .3,0 .4,0 .3,.3 .4,.2 .3,.1 .4-.2 .3-.3 .4,.2 .3-.1 .4,.2 .3-.3 .4,.3 .3,.1 .4-.1 .4,.1 .3-.3 .4-.1 .3,.1 .4,.4 .3-.1 .4-.3 .3,.3 .4-.3 .3,.3 .4-.2 .3-.2 .4,.2 .3-.4 .4-.1 .3-.1 .4,.2 .3-.1 .4-.1 .4-.2 .3,.2 .4-.5 .3-.2 .4,.2 .3-.1 .4-.5 .3-.6 .4-.1 .3,0 .4-.5 .3-.1 .4-1 .3,0 .4-.8 .3-.1 .4-.9 .3-.4 .4-.9 .4-.9 .3-.6 .4-.7 .3-.9 .4-.3 .3-.8 .4-1 .3-1.1 .4-.6 .3-.9 .4-.4 .3-.9 .4-.6 .3-.8 .4-.8 .3-.1 .4-.3 .3,.1 .4-.1 .4,0 .3,.3 .4,.7 .3-.1 .4,.6 .3,.7 .4,.6 .3,.8 .4,1 .3,1 .4,.2 .3,1.1 .4,.9 .3,.8 .4,.7 .3,.8 .4,1 .3,.4 .4,.7 .4,.7 .3,.6 .4,.5 .3,.7 .4,.3 .3,.4 .4,.4 .3,.2 .4,.3 .3,.3 .4,.5 .3,0 .4,.2 .3,.4 .4,.3 .3-.4 .4,.9 .3-.2 .4,0 .4,.4 .3-.2 .4,0 .3,.6 .4-.6 .3,.3 .4,.2 .3-.3 .4,.2 .3,.1 .4,.5 .3-.7 .4,.2 .3,.2 .4-.1 .3-.2 .4,.3 .3,0 .4,.1 .4,.1 .3,0 .4-.1 .3,0 .4-.3 .3,.2 .4,.1 .3-.1 .4,.1 .3-.2 .4,.5 .3,.2 .4-.5 .3,.1 .4-.1 .3,.3 .4-.1 .4-.1 .3,0 .4,0 .3-.2 .4,.4 .3-.3 .4,.2 .3,0 .4,.2 .3-.3 .4,.3 .3-.4 .4,.3 .3-.2 .4,.1 .3,0 .4,.2 .3-.6 .4,.4 .4-.3 .3,.5 .4-.6 .3,.2 .4-.1 .3,.6 .4-.6 .3,.3 .4-.1 .3-.3 .4,.3 .3,.2 .4-.2 .3,.3 .4-.3 .3,.1 .4-.1 .3,.1 .4,.3 .4-.3 .3,0 .4-.2 .3-.1 .4,.5 .3-.6 .4,.1 .3,.1 .4-.1 .3,.5 .4-.9 .3,.5 .4,0 .3-.4 .4,0 .3,.2 .4,.2 .3-.6 .4-.2 .4,.5 .3,0 .4-.5 .3-.4 .4,.6 .3-.4 .4,.2 .3-.3 .4-.2 .3-.1 .4,.3 .3,0 .4-.8 .3,.1 .4,.5 .3-.5 .4-.2 .3,.2 .4,0 .4,0 .3-.1 .4,0 .3,0 .4,.2 .3-.2 .4,.2 .3,.1 .4,.4 .3-.1 .4-.1 .3,.3 .4,0 .3,.2 .4,0 .3,.4 .4-.1 .3-.1 .4,0 .4,.3 .3,0 .4-.1 .3-.2 .4,0 .3,.5 .4,.2 .3,0 .4-.3 .3,.5 .4-.3 .3,.2 .4,0 .3-.2 .4,.1 .3-.3 .4,.3 .3-.2 .4,.5 .4-.1 .3,.2 .4-.1 .3-.2 .4,.2 .3-.1 .4,.2 .3,0 .4-.3 .3,.2 .4,0 .3,0 .4,.2 .3,.2 .4-.4 .3,0 .4-.4 .3,.4 .4,0 .4-.4 .3,.5 .4,.1 .3-.3 .4,.1 .3-.1 .4,.3 .3-.4 .4,.2 .3,.5 .4-.4 .3,.1 .4-.2 .3-.2 .4,.3 .3,.1 .4-.3 .3,.3 .4,.1 .4,0 .3-.5 .4,.1 .3-.1 .4,.5 .3-.1 .4,0 .3-.3 .4,0 .3,.2 .4,0 .3-.2 .4,.2 .3,.1 .4-.1 .3-.2 .4-.2 .3,.3 .4,.1 .4-.1 .3,0 .4,0 .3,.2 .4-.1 .3,0 .4-.2 .3,.1 .4,.1 .3-.2 .4,0 .3,.1 .4,.3 .3-.2 .4,.3 .3-.3 .4-.1 .3-.2 .4,.2 .4,.4 .3-.2 .4,0 .3,0 .4-.1 .3,0 .4,0 .3,.1 .4,0 .3,0 .4-.1 .3-.2 .4,.1 .3-.1 .4,.4 .3-.6 .4,.4 .3,.5 .4-.6 .4-.1 .3,.2 .4,.3 .3-.3 .4,.1 .3-.1 .4-.1 .3,.7 .4-.6 .3-.1 .4,0 .3,.2 .4,0 .3,0 .4-.1 .3-.3 .4,.4 .3-.2 .4,0 .4-.2 .3,.2 .4-.1 .3,.2 .4-.3 .3,.3 .4,0 .3-.3 .4,.1 .3,0 .4,.3 .3-.7 .4,.5 .3-.3 .4,.2 .3,.3 .4-.3 .3,.1 .4-.2 .4,.6 .3-.2 .4,0 .3-.5 .4,0 .3,.5 .4-.3 .3-.1 .4,.1 .3-.3 .4,.4 .3-.2 .4,.1 .3-.3 .4,.2 .3-.3 .4,.3 .4,0 .3-.1 .4-.1 .3,0 .4-.7 .3,.6 .4-.3 .3,.1 .4-.2 .3-.2 .4,.1 .3,.2 .4,.1 .3-.5 .4-.1 .3,.5 .4-.5 .3,.6 .4-.4 .4-.2 .3,.3 .4,.2 .3-.6 .4,.6 .3-.3 .4,.4 .3-.4 .4-.2 .3,.5 .4,.1 .3,.3 .4,0 .3-.2 .4-.1 .3,0 .4,0 .3,0 .4,.1 .4-.4 .3,.6 .4-.1 .3,.6 .4-.4 .3-.2 .4,.2 .3-.3 .4,.1 .3-.3 .4,.7 .3-.2 .4-.3 .3,.2 .4,.1 .3-.1 .4-.1 .3-.2 .4,0 .4,0 .3,.1 .4-.4 .3-.1 .4,.4 .3-.6 .4,.3 .3-.2 .4,0 .3,0 .4-.4 .3-.1 .4-.5 .3-.1 .4,.1 .3,0 .4-.2 .3,0 .4-.6 .4-.3 .3,0 .4-.4 .3-.2 .4-.4 .3,.3 .4-.6 .3,.2 .4-.5 .3,.4 .4-.5 .3,.3 .4-.5 .3,.2 .4,.4 .3-.4 .4,.3 .3,0 .4-.2 .4,.6 .3,.2 .4-.1 .3,.5 .4-.1 .3,.2 .4,.4 .3,0 .4,.8 .3-.5 .4,.6 .3,.2 .4-.4 .3,.2 .4,.6 .3,0 .4,.3 .3,.3 .4-.2 .4,0 .3-.3 .4,.7 .3-.1 .4,.3 .3,0 .4-.2 .3,.7 .4-.1 .3,0 .4-.4 .3,.2 .4,0 .3,.1 .4-.1 .3,.3 .4,0 .3,0 .4-.2 .4,.4 .3-.2 .4-.6 .3,.5 .4,.1 .3,.2 .4-.3 .3,.1 .4-.1 .3,.2 .4-.2 .3,0 .4,0 .3,.2 .4-.2 .3-.2 .4,.4 .3-.2 .4,.2 .4,0 .3,.1 .4,0 .3-.4 .4,.1 .3-.2 .4,.5 .3-.2 .4,.1 .3-.3 .4-.4 .3,.7 .4-.3 .3-.1 .4,0 .3,0 .4,0 .3-.5 .4,.4 .4-.4 .3-.1 .4,.4 .3-.3 .4-.4 .3-.5 .4,.3 .3-.1 .4-.3 .3-.4 .4-.1 .3-.4 .4,.1 .3-.1 .4-.2 .3-.6 .4-.1 .3-.2 .4-.5 .4-.2 .3,.2 .4-.6 .3-.1 .4-.5 .3-.1 .4-.6 .3,.2 .4,.2 .3,.1 .4-.2 .3-.1 .4-.1 .3,0 .4,.2 .3,.3 .4-.1 .3,.6 .4-.1 .4,0 .3,.5 .4,.1 .3,.3 .4,.8 .3,0 .4,.4 .3,.4 .4,.3 .3-.1 .4,.5 .3,.1 .4,.1 .3,.3 .4-.2 .3,.3 .4,.2 .3,.3 .4,0 .4,.1 .3,.3 .4,.2 .3,0 .4,.1 .3-.2 .4,.1 .3,.1 .4,0 .3,0 .4,.4 .3-.3 .4-.1 .3,.3 .4,.3 .3-.4 .4,.3 .4-.3 .3,0 .4-.1 .3,.2 .4,.4 .3-.6 .4,.6 .3-.6 .4,.2 .3,.2 .4,0 .3-.1 .4-.4 .3,.5 .4-.3 .3,.7 .4-.5 .3,0 .4-.2 .4,.1 .3-.1 .4,.4 .3-.2 .4,.1 .3-.2 .4,0 .3,.4 .4-.4 .3-.2 .4,.4 .3-.3 .4,.2 .3,.2 .4-.3 .3,.3 .4-.3 .3,.5 .4-.1 .4-.3 .3,0 .4-.1 .3,.2 .4,.2 .3-.5 .4,.5 .3-.5 .4,.1 .3-.2 .4,.8 .3-.4 .4,.1 .3-.2 .4,.3 .3-.6 .4,.4 .3,.5 .4-.6 .4,.1 .3,.2 .4-.3 .3,.1 .4,.2 .3-.1 .4,0 .3-.1 .4,.1 .3-.1 .4,.3 .3-.1 .4-.2 .3-.5 .4,.7 .3,0 .4-.3 .3-.3 .4,.2 .4,.4 .3-.4 .4,.1 .3,.2 .4,.2 .3-.3 .4,0 .3-.1 .4,.5 .3-.1 .4-.3 .3-.2 .4,.1 .3,.3 .4-.3 .3,.3 .4-.1 .3,0 .4,.1 .4-.1 .3-.2 .4,.1 .3,.5 .4-.7 .3,.2 .4,.3 .3-.3 .4-.1 .3-.1 .4,.4 .3,.1 .4,0 .3-.2 .4,.2 .3-.4 .4,.2 .3-.2 .4,.2" fill="none" stroke="#1a1a1a" stroke-width="1.8" stroke-linejoin="round"/>
<line x1="62.5" y1="232.6" x2="415.8" y2="232.6" stroke="#e52a2f" stroke-width="1.7"/>
<path d="M133.3,232.6V222.6M171.3,232.6V205.6M182.6,232.6V230.1M224.1,232.6V227.6M253.0,232.6V231.6M296.7,232.6V228.3M321.4,232.6V223.8M360.8,232.6V222.4M382.7,232.6V231.6" stroke="#e52a2f" stroke-width="1.6"/>
<line x1="62.5" y1="268.3" x2="415.8" y2="268.3" stroke="#1a7c82" stroke-width="1.7"/>
<path d="M145.9,268.3V254.9M165.0,268.3V257.9M177.6,268.3V245.1M256.6,268.3V262.8M320.7,268.3V260.8M364.7,268.3V261.3M389.7,268.3V267.3M400.7,268.3V262.8M408.8,268.3V265.3" stroke="#1a7c82" stroke-width="1.6"/>
<line x1="62.5" y1="305.0" x2="415.8" y2="305.0" stroke="#e8892d" stroke-width="1.7"/>
<path d="M92.4,305.0V298.0M156.5,305.0V282.3M174.1,305.0V288.8M211.5,305.0V300.0M271.4,305.0V296.0M304.5,305.0V295.0M328.4,305.0V303.0M363.0,305.0V298.0M373.5,305.0V298.0" stroke="#e8892d" stroke-width="1.6"/>
<path d="M63.5,305.3V21.8H415.8V305.3" fill="none" stroke="#4a4a4a" stroke-width="1.7"/>
<path d="M134.0,305.3v-5M204.4,305.3v-5M274.9,305.3v-5M345.3,305.3v-5M98.7,305.3v-3M169.2,305.3v-3M239.7,305.3v-3M310.1,305.3v-3M380.6,305.3v-3" stroke="#333" stroke-width="1.2"/>
<text x="63.5" y="324.4" font-size="15.5" text-anchor="middle" fill="#111">20</text>
<text x="134.0" y="324.4" font-size="15.5" text-anchor="middle" fill="#111">30</text>
<text x="204.4" y="324.4" font-size="15.5" text-anchor="middle" fill="#111">40</text>
<text x="274.9" y="324.4" font-size="15.5" text-anchor="middle" fill="#111">50</text>
<text x="345.3" y="324.4" font-size="15.5" text-anchor="middle" fill="#111">60</text>
<text x="415.8" y="324.4" font-size="15.5" text-anchor="middle" fill="#111">70</text>
<text x="183.5" y="341.6" font-size="16" textLength="112.5" lengthAdjust="spacingAndGlyphs" fill="#111">2 Theta (degree)</text>
<text x="50.5" y="213.0" font-size="15.5" textLength="100.8" lengthAdjust="spacingAndGlyphs" fill="#111" transform="rotate(-90 51.0 213.0)">Intensity (a.u.)</text>
<text x="14.3" y="50.5" font-size="39.5" textLength="47.5" lengthAdjust="spacingAndGlyphs" fill="#111">(a)</text>
<text x="137.0" y="65.9" font-size="13.3" textLength="29.1" lengthAdjust="spacingAndGlyphs" fill="#111" transform="rotate(-90 137.6 65.9)">(220)</text>
<text x="175.1" y="58.0" font-size="13.3" textLength="28.4" lengthAdjust="spacingAndGlyphs" fill="#111" transform="rotate(-90 175.7 58.0)">(311)</text>
<text x="228.3" y="75.1" font-size="13.3" textLength="28.5" lengthAdjust="spacingAndGlyphs" fill="#111" transform="rotate(-90 228.9 75.1)">(400)</text>
<text x="300.1" y="77.8" font-size="13.3" textLength="28.6" lengthAdjust="spacingAndGlyphs" fill="#111" transform="rotate(-90 300.7 77.8)">(422)</text>
<text x="326.4" y="77.8" font-size="13.3" textLength="28.6" lengthAdjust="spacingAndGlyphs" fill="#111" transform="rotate(-90 327.0 77.8)">(511)</text>
<text x="362.0" y="77.3" font-size="13.3" textLength="29.2" lengthAdjust="spacingAndGlyphs" fill="#111" transform="rotate(-90 362.6 77.3)">(440)</text>
<text x="337.7" y="43.3" font-size="11" textLength="74.5" lengthAdjust="spacingAndGlyphs" fill="#111">ZnFe<tspan font-size="6.8" dy="2.5">2</tspan><tspan dy="-2.5">O</tspan><tspan font-size="6.8" dy="2.5">4</tspan><tspan dy="-2.5">/rGO-3</tspan></text>
<text x="337.7" y="108.7" font-size="11" textLength="74.6" lengthAdjust="spacingAndGlyphs" fill="#111">ZnFe<tspan font-size="6.8" dy="2.5">2</tspan><tspan dy="-2.5">O</tspan><tspan font-size="6.8" dy="2.5">4</tspan><tspan dy="-2.5">/rGO-2</tspan></text>
<text x="337.7" y="139.3" font-size="11" textLength="74.7" lengthAdjust="spacingAndGlyphs" fill="#111">ZnFe<tspan font-size="6.8" dy="2.5">2</tspan><tspan dy="-2.5">O</tspan><tspan font-size="6.8" dy="2.5">4</tspan><tspan dy="-2.5">/rGO-1</tspan></text>
<text x="369.6" y="173.8" font-size="13" textLength="44.5" lengthAdjust="spacingAndGlyphs" fill="#111">ZnFe<tspan font-size="8.1" dy="2.5">2</tspan><tspan dy="-2.5">O</tspan><tspan font-size="8.1" dy="2.5">4</tspan></text>
<text x="307.8" y="215.5" font-size="12.2" textLength="105.6" lengthAdjust="spacingAndGlyphs" fill="#111">ZnFe<tspan font-size="7.6" dy="2.5">2</tspan><tspan dy="-2.5">O</tspan><tspan font-size="7.6" dy="2.5">4</tspan><tspan dy="-2.5"> No.22-2012</tspan></text>
<text x="328.8" y="251.5" font-size="12" textLength="84.1" lengthAdjust="spacingAndGlyphs" fill="#111">ZnO No.36-1451</text>
<text x="323.3" y="287.0" font-size="12" textLength="89.2" lengthAdjust="spacingAndGlyphs" fill="#111">Fe<tspan font-size="7.4" dy="2">2</tspan><tspan dy="-2">O</tspan><tspan font-size="7.4" dy="2">3</tspan><tspan dy="-2"> No.33-0664</tspan></text>
<path d="M523.4,183.9l1,.1 1.1-.2 1-1.6 1.1,1 1-1.4 1-.7 1.1,.1 1-1.1 1,.5 1.1-.2 1-.7 1,.1 1.1-.9 1-.2 1.1-1.2 1,.5 1-.3 1-.8 1.1-.1 1-.1 1-.1 1-1.5 1-.2 1.1,.4 1,.2 1-.4 1,0 1.1,0 1-.8 1-.7 1-.9 1-.2 1.1-.1 1,.2 1-.5 1.1-.6 1.1-.8 1.1-.7 1.1-.3 1.1-.9 1.1-.8 1.5,0 1.4-19.3 1.3,19.3 1,.1 1-.2 1.1-.6 1,.2 1.5-40.4 1.5,43 1.3-2.2 1.4-.9 1-.7 1-1.1 1-1.3 1.2,1.4 1.3,1.7 1.2-4.1 1.3-4.1 1.2-4.1 1.2,4.1 1.1,4.2 1.3,7.5 1.2,7.5 1-.6 1,1.3 1-2.2 1,0 1,0 1-.5 1.1-1 1,.4 1.1,.6 1.1-.9 1-.5 1.1-.4 1-.6 1.1,.1 1.1-1 1-.5 1.1-.1 1.2,2.3 1.3,2.7 1.2,1.9 1.2,2 1.1,.1 1.1-2 1.1,1.6 1.1,.4 1.1-1 1.1-1.3 1.1-.6 1.1,.3 1.1-.5 1.2,2 1.2,3.6 1.1,1.8 1.2,3.4 1.2,2 1.1,.8 1.1-2 1,1.5 1.1-.6 1.1-.4 1,.5 1.1,.2 1.1,.2 1.2-1.4 1.2-3.6 1.2-1.1 1.1,2.7 1.2,2.6 1.1,.8 1,.5 1,0 1-.2 1-.6 1,1.1 1,0 1,.3 1,1.2 1-1 1-.3 1-2.7 1-2.4 1-4.7 1-2.2 1.2,8.5 1.3,8.5 1.8-21 1.6,39.5 1-.8 1,.4 1-.2 1.1,.7 1-.6 1,1.1 1-1.1 1,.6 1-.7 1-1 1,.3 1-.1 1-1.5 1,.4 1,.6 1,.6 1,.1 1,1.1 1,.2 1-.8 1,.9 1,.3 1.1-.9 1,.4 1.1-1.3 1,.6 1.1-.8 1,0 1.1-1.2 1-1.2 1.1,1.5 1-1.6 1.1,.5 1-1 1.1-.7 1.1,1.3 1,1.6 1.1,.1 1.1,.7 1.2,1.1 1.3-1.4 1.2,1.2 1.1,3.6 1.1,2.5 1.1,3.1 1.1,3.2 1.1,3.1 1.8-85 1.8,94.5 1.2,.7 1.1,1.3 1.2-1.7 1.1,1.6 1.2,.5 1.4-8 1.3-8 1.2,16.7 1.8,3.9 1.1-2.4 1.2-.8 1.1-2.6 1.1,4 1.2,4 1-.5 1,.3 1-.7 1,.4 1-.1 1-1 1,0 1-1.1 1,.8 1,.1 1-1.1 1,.8 1-2.2 1-.1 1,.1 1,.3 1,.1 1-.3 1-.2 1,.2 1-1 1,.1 1-1 1-.2 1.1,1.7 1-2.9 1,1.1 1,.7 1-.8 1.1-1 1,.2 1,.3 1,0 1-1.6 1,.8 1.1-.5 1,.2 1-.1 1-1.2 1-.9 1.1,.8 1,.6 1-1.3 1.2-.5 1.1-1.4 1,3 1,4.2 1,.8 1,4.1 1,2.3 1-57.6 1.1-57.6 1-57.6 1.7,187.7 1-.4 1,.4 1,0 1,.8 1-1.5 1,.2 1-.7 1,1.2 1-.6 1.1,.5 1-.9 1,.4 1,.8 1-.7 1,.4 1-.1 1-.5 1-.8 1,1.5 1-.5 1,.4 1-1.8 1,.2 1-.3 1,.7 1,1.1 1-.3 1-.4 1.1,.1 1,.3 1-.7 1,.4 1-.2 1-1.4 1,1.1 1,1 1-1.1 1,.2 1.1-2.3 1.2-2.2 1.5,4.9 1-.4 1,0 1.1,.9 1-.8 1-.5 1-1.3 1,1.5 1-.9 1,0 1.1,1.6 1-.1 1-.5 1.2-6 1.6,9 1-.4 1.1,2.4 1,.5 1,.4 1.3-3.9 1.3-2.5 1.3-3.9 1.8,13.7 1-1.1 1.1,.1 1-.2 1,.1 1,1 1.1-1.4 1,0 1,0 1.1,.5 1-.2 1.1-4.5 1.3,6.4 1.8,5" fill="none" stroke="#2d5f9a" stroke-width="2.2" stroke-linejoin="round"/>
<rect x="523.4" y="22.0" width="351.4" height="283.9" fill="none" stroke="#111" stroke-width="1.7"/>
<path d="M523.4,305.9v-5.5M582.0,305.9v-5.5M640.5,305.9v-5.5M699.1,305.9v-5.5M757.7,305.9v-5.5M816.2,305.9v-5.5M874.8,305.9v-5.5M552.7,305.9v-2.7M611.2,305.9v-2.7M669.8,305.9v-2.7M728.4,305.9v-2.7M786.9,305.9v-2.7M845.5,305.9v-2.7" stroke="#111" stroke-width="1.5"/>
<text x="523.4" y="324.5" font-size="15.5" text-anchor="middle" fill="#111">1200</text>
<text x="582.0" y="324.5" font-size="15.5" text-anchor="middle" fill="#111">1000</text>
<text x="640.5" y="324.5" font-size="15.5" text-anchor="middle" fill="#111">800</text>
<text x="699.1" y="324.5" font-size="15.5" text-anchor="middle" fill="#111">600</text>
<text x="757.7" y="324.5" font-size="15.5" text-anchor="middle" fill="#111">400</text>
<text x="816.2" y="324.5" font-size="15.5" text-anchor="middle" fill="#111">200</text>
<text x="874.8" y="324.5" font-size="15.5" text-anchor="middle" fill="#111">0</text>
<text x="510.6" y="213.0" font-size="15.5" textLength="99.4" lengthAdjust="spacingAndGlyphs" fill="#111" transform="rotate(-90 511.1 213.0)">Intensity (a.u.)</text>
<text x="473.0" y="49.2" font-size="39.5" textLength="48.6" lengthAdjust="spacingAndGlyphs" fill="#111">(b)</text>
<text x="577.1" y="124.6" font-size="14" textLength="34.4" lengthAdjust="spacingAndGlyphs" fill="#111" transform="rotate(-90 577.8 124.6)">Zn 2p</text>
<text x="670.1" y="171.9" font-size="14" textLength="29.9" lengthAdjust="spacingAndGlyphs" fill="#111" transform="rotate(-90 670.3 171.9)">Fe 2p</text>
<text x="724.4" y="142.5" font-size="14" textLength="24.6" lengthAdjust="spacingAndGlyphs" fill="#111" transform="rotate(-90 725.0 142.5)">O 1s</text>
<text x="795.6" y="74.4" font-size="14" textLength="24.7" lengthAdjust="spacingAndGlyphs" fill="#111" transform="rotate(-90 796.2 74.4)">C 1s</text>
<path d="M65.1,617.5l1,0 1,0 1,0 1,0 1,0 1,0 1,0 1-.1 1,0 1,0 1,0 1,0 1,0 1,0 1,0 1,0 1,0 1,0 1,0 1,0 1,0 1,0 1,0 1,0 1,0 1,0 1,0 1,0 1,0 1,0 1,0 1,0 1,0 1,0 1,0 1,0 1,0 1,0 1,0 1,0 1,0 1,0 1,0 1,0 1,0 1,0 1,0 1,0 1,0 1,0 1,0 1,0 1,0 1,0 1,0 1,0 1,0 1,0 1,0 1,0 1,0 1,0 1,0 1,0 1,0 1,0 1,0 1,0 1,0 1,0 1,0 1,0 1,0 1,0 1,0 1,0 1,0 1,0 1,0 1,0 1,0 1,0 1,0 1,0 1,0 1,0 1,0 1,0 1,0 1,0 1,0 1,0 1,0 1,0 1,0 1,0 1,0 1,0 1,0 1,0 1,0 1,0 1,0 1-.1 1,0 1,0 1,0 1,0 1,0 1,0 1,0 1,0 1,0 1,0 1,0 1,0 1,0 1,0 1,0 1-.1 1,0 1,0 1,0 1,0 1,0 1,0 1,0 1,0 1,0 1,0 1,0 1,0 1,0 1,0 1-.1 1,0 1,0 1,0 1,0 1,0 1,0 1,0 1,0 1,0 1-.1 1,0 1,0 1,0 1,0 1,0 1,0 1-.1 1,0 1,0 1,0 1,0 1,0 1-.1 1,0 1,0 1,0 1-.1 1,0 1,0 1-.1 1,0 1,0 1-.1 1,0 1-.1 1,0 1-.1 1,0 1-.1 1,0 1-.1 1-.1 1,0 1-.1 1-.1 1-.1 1-.1 1-.2 1-.1 1-.1 1-.2 1-.2 1-.2 1-.2 1-.3 1-.3 1-.3 1-.3 1-.4 1-.5 1-.5 1-.6 1-.6 1-.7 1-.8 1-.9 1-1 1-1 1-1.2 1-1.4 1-1.4 1-1.7 1-1.7 1-2 1-2.1 1-2.3 1-2.6 1-2.7 1-3 1-3.2 1-3.4 1-3.7 1-3.9 1-4.2 1-4.4 1-4.7 1-4.9 1-5.2 1-5.4 1-5.7 1-5.8 1-6.1 1-6.2 1-6.4 1-6.5 1-6.7 1-6.7 1-6.7 1-6.8 1-6.6 1-6.7 1-6.5 1-6.3 1-6.1 1-5.8 1-5.5 1-5.2 1-4.7 1-4.3 1-3.7 1-3.2 1-2.6 1-2 1-1.3 1-.7 1,0 1,.6 1,1.3 1,1.8 1,2.5 1,3 1,3.5 1,4 1,4.5 1,4.8 1,5.3 1,5.5 1,5.9 1,6.1 1,6.3 1,6.4 1,6.6 1,6.6 1,6.7 1,6.6 1,6.7 1,6.6 1,6.5 1,6.3 1,6.3 1,6 1,5.9 1,5.7 1,5.5 1,5.3 1,5.1 1,4.8 1,4.6 1,4.3 1,4.1 1,3.8 1,3.7 1,3.3 1,3.2 1,3 1,2.7 1,2.6 1,2.4 1,2.2 1,2 1,1.8 1,1.7 1,1.6 1,1.4 1,1.3 1,1.2 1,1 1,1 1,.9 1,.8 1,.7 1,.7 1,.6 1,.5 1,.5 1,.4 1,.4 1,.3 1,.3 1,.3 1,.2 1,.3 1,.2 1,.2 1,.2 1,.1 1,.2 1,.1 1,.1 1,.2 1,.1 1,.1 1,.1 1,.1 1,.1 1,.1 1,0 1,.1 1,.1 1,.1 1,0 1,.1 1,.1 1,0 1,.1 1,0 1,.1 1,0 1,.1 1,.1 1,0 1,0 1,.1 1,0 1,.1 0,2.2-3,0-3,0-3,0-3,0-3,0-3,0-3,0-3,0-3,0-3,0-3,0-3,0-3,0-3,0-3-.1-3-.1-3-.1-3-.2-3-.2-3-.1-3-.2-3-.2-3-.3-3-.4-3-.4-3-.4-3-.5-3-.4-3-.5-3-.4-3-.4-3-.4-3-.4-3-.5-3-.4-3-.4-3-.3-3-.3-3-.3-3-.2-3-.2-3-.2-3-.2-3-.1-3-.2-3-.1-3-.1-3-.2-3-.1-3-.1-3-.1-3-.1-3-.1-3-.1-3-.1-3-.1-3-.1-3-.1-3,0-3-.1-3-.1-3-.1-3-.1-3,0-3-.1-3-.1-3-.1-3,0-3-.1-3,0-3-.1-3-.1-3,0-3,0-3-.1-3,0-3-.1-3,0-3,0-3,0-3-.1-3,0-3,0-3,0-3-.1-3,0-3,0-3,0-3-.1-3,0-3,0-3,0-3,0-3-.1-3,0-3,0-3,0-3,0-3,0-3-.1-3,0-3,0-3,0-3,0-3,0-3,0-3-.1-3,0-3,0-3,0-3,0-3,0-3,0-3,0-3,0-3,0Z" fill="#add9f1" fill-opacity="0.5"/>
<path d="M65.1,617.6l1,0 1,0 1,0 1,0 1,0 1,0 1,0 1,0 1,0 1,0 1,0 1,0 1,0 1,0 1,0 1,0 1,0 1,0 1,0 1,0 1,0 1,0 1,0 1,0 1,0 1,0 1,0 1,0 1,0 1,0 1,0 1,0 1,0 1,0 1,0 1,0 1,0 1,0 1,0 1,0 1,0 1,0 1,0 1,0 1,0 1,0 1,0 1,0 1,0 1,0 1,0 1,0 1,0 1,0 1,0 1,0 1,0 1,0 1,0 1,0 1,0 1,0 1,0 1,0 1,0 1,0 1,0 1,0 1,0 1,0 1,0 1,0 1,0 1,0 1,0 1,0 1,0 1,0 1,0 1,0 1,0 1,0 1,0 1,0 1,0 1,0 1,0 1,0 1,0 1,0 1,0 1,0 1,0 1,0 1,0 1-.1 1,0 1,0 1,0 1,0 1,0 1,0 1,0 1,0 1,0 1,0 1,0 1,0 1,0 1-.1 1,0 1,0 1,0 1,0 1,0 1-.1 1,0 1,0 1,0 1,0 1-.1 1,0 1,0 1-.1 1,0 1,0 1-.1 1,0 1-.1 1,0 1-.1 1-.1 1,0 1-.1 1-.1 1-.1 1-.1 1-.1 1-.1 1-.2 1-.1 1-.2 1-.2 1-.2 1-.2 1-.2 1-.3 1-.2 1-.3 1-.3 1-.4 1-.3 1-.4 1-.4 1-.5 1-.4 1-.5 1-.5 1-.6 1-.6 1-.6 1-.6 1-.7 1-.7 1-.8 1-.7 1-.8 1-.9 1-.8 1-.9 1-.9 1-1 1-.9 1-1 1-1 1-1 1-1.1 1-1 1-1 1-1.1 1-1 1-1.1 1-1 1-1 1-1 1-1 1-1 1-.9 1-.8 1-.9 1-.8 1-.7 1-.7 1-.6 1-.5 1-.5 1-.4 1-.3 1-.2 1-.1 1,0 1,0 1,.1 1,.3 1,.3 1,.4 1,.4 1,.6 1,.6 1,.7 1,.8 1,.8 1,.9 1,.9 1,.9 1,1 1,1.1 1,1 1,1.1 1,1.1 1,1.2 1,1.1 1,1.1 1,1.2 1,1.1 1,1.1 1,1.1 1,1.1 1,1.1 1,1.1 1,1.1 1,1 1,1 1,1 1,1 1,.9 1,.9 1,.9 1,.9 1,.8 1,.8 1,.8 1,.8 1,.7 1,.7 1,.7 1,.7 1,.6 1,.6 1,.6 1,.5 1,.5 1,.5 1,.5 1,.4 1,.5 1,.4 1,.4 1,.3 1,.4 1,.3 1,.3 1,.3 1,.3 1,.3 1,.3 1,.3 1,.2 1,.3 1,.2 1,.3 1,.2 1,.2 1,.2 1,.3 1,.2 1,.1 1,.2 1,.2 1,.2 1,.1 1,.2 1,.1 1,.1 1,.1 1,.1 1,.1 1,.1 1,.1 1,.1 1,.1 1,0 1,.1 1,.1 1,.1 1,.1 1,0 1,.1 1,.1 1,0 1,.1 1,0 1,.1 1,0 1,.1 1,0 1,.1 1,0 1,0 1,0 1,.1 1,0 1,0 1,0 1,0 1,0 1,0 1,0 1,0 1,0 1,.1 1,0 1,0 1,0 1,0 1,0 1,0 1,0 1,0 1,0 1,0 1,0 1,0 1,.1 1,0 1,0 1,0 1,0 1,0 1,0 1,0 1,0 1,0 1,0 1,0 1,0 1,0 1,0 1,0 1,0 0,.4-3,0-3,0-3,0-3,0-3,0-3,0-3,0-3,0-3,0-3,0-3,0-3,0-3,0-3,0-3-.1-3-.1-3-.1-3-.2-3-.2-3-.1-3-.2-3-.2-3-.3-3-.4-3-.4-3-.4-3-.5-3-.4-3-.5-3-.4-3-.4-3-.4-3-.4-3-.5-3-.4-3-.4-3-.3-3-.3-3-.3-3-.2-3-.2-3-.2-3-.2-3-.1-3-.2-3-.1-3-.1-3-.2-3-.1-3-.1-3-.1-3-.1-3-.1-3-.1-3-.1-3-.1-3-.1-3-.1-3,0-3-.1-3-.1-3-.1-3-.1-3,0-3-.1-3-.1-3-.1-3,0-3-.1-3,0-3-.1-3-.1-3,0-3,0-3-.1-3,0-3-.1-3,0-3,0-3,0-3-.1-3,0-3,0-3,0-3-.1-3,0-3,0-3,0-3-.1-3,0-3,0-3,0-3,0-3-.1-3,0-3,0-3,0-3,0-3,0-3-.1-3,0-3,0-3,0-3,0-3,0-3,0-3-.1-3,0-3,0-3,0-3,0-3,0-3,0-3,0-3,0-3,0Z" fill="#efb7cb" fill-opacity="0.5"/>
<path d="M93.6,617.7l1,0 1,0 1,0 1,0 1,0 1,0 1,0 1,0 1,0 1,0 1,0 1,0 1,0 1,0 1,0 1,0 1,0 1,0 1,0 1,0 1,0 1,0 1,0 1,0 1,0 1,0 1-.1 1,0 1,0 1,0 1,0 1,0 1,0 1,0 1-.1 1,0 1,0 1,0 1-.1 1,0 1,0 1,0 1-.1 1,0 1-.1 1,0 1-.1 1,0 1-.1 1-.1 1,0 1-.1 1-.1 1-.1 1,0 1-.1 1-.1 1-.2 1-.1 1-.1 1-.1 1-.1 1-.2 1-.1 1-.2 1-.1 1-.2 1-.2 1-.1 1-.2 1-.2 1-.2 1-.2 1-.2 1-.2 1-.2 1-.2 1-.2 1-.2 1-.3 1-.2 1-.2 1-.2 1-.2 1-.3 1-.2 1-.2 1-.2 1-.2 1-.2 1-.2 1-.2 1-.1 1-.2 1-.2 1-.1 1-.1 1-.2 1-.1 1,0 1-.1 1-.1 1,0 1,0 1-.1 1,.1 1,0 1,0 1,.1 1,.1 1,.1 1,.1 1,.1 1,.1 1,.2 1,.1 1,.2 1,.2 1,.2 1,.2 1,.2 1,.3 1,.2 1,.2 1,.3 1,.2 1,.3 1,.2 1,.3 1,.2 1,.3 1,.2 1,.3 1,.2 1,.3 1,.2 1,.3 1,.2 1,.2 1,.3 1,.2 1,.2 1,.2 1,.2 1,.2 1,.2 1,.2 1,.2 1,.2 1,.2 1,.2 1,.1 1,.2 1,.1 1,.2 1,.1 1,.1 1,.2 1,.1 1,.1 1,.1 1,.1 1,.1 1,.1 1,.1 1,.1 1,.1 1,.1 1,.1 1,.1 1,0 1,.1 1,.1 1,0 1,.1 1,.1 1,0 1,.1 1,.1 1,0 1,.1 1,.1 1,0 1,.1 1,0 1,.1 1,.1 1,0 1,.1 1,0 1,.1 1,.1 1,0 1,.1 1,.1 1,0 1,.1 1,.1 1,0 1,.1 1,.1 1,0 1,.1 1,.1 1,.1 1,.1 1,0 1,.1 1,.1 1,.2 1,.1 1,.1 0,.1-3-.3-3-.3-3-.2-3-.2-3-.2-3-.2-3-.1-3-.2-3-.1-3-.2-3-.1-3-.1-3-.1-3-.1-3-.1-3-.1-3-.1-3-.1-3-.1-3-.1-3-.1-3-.1-3-.1-3-.1-3-.1-3,0-3-.1-3-.1-3-.1-3,0-3-.1-3-.1-3,0-3-.1-3,0-3-.1-3,0-3-.1-3,0-3,0-3-.1-3,0-3,0-3-.1-3,0-3,0-3,0-3-.1-3,0-3,0-3,0-3,0-3-.1-3,0-3,0-3,0-3-.1-3,0-3,0-3,0-3,0-3,0-3-.1-3,0-3,0-3,0-3,0-3,0-3,0-3,0Z" fill="#edcbad" fill-opacity="0.5"/>
<path d="M65.1,617.6l1,0 1,0 1,0 1,0 1,0 1,0 1,0 1,0 1,0 1,0 1,0 1,0 1,0 1,0 1,0 1-.1 1,0 1,0 1,0 1,0 1,0 1,0 1,0 1,0 1,0 1,0 1,0 1,0 1,0 1-.1 1,0 1,0 1,0 1,0 1,0 1-.1 1,0 1,0 1,0 1-.1 1,0 1-.1 1,0 1,0 1-.1 1-.1 1,0 1-.1 1-.1 1,0 1-.1 1-.1 1-.1 1-.1 1-.1 1-.2 1-.1 1-.1 1-.2 1-.1 1-.2 1-.2 1-.2 1-.2 1-.2 1-.2 1-.3 1-.2 1-.3 1-.3 1-.2 1-.3 1-.3 1-.4 1-.3 1-.3 1-.4 1-.3 1-.4 1-.3 1-.4 1-.4 1-.4 1-.3 1-.4 1-.4 1-.4 1-.4 1-.3 1-.4 1-.3 1-.4 1-.3 1-.3 1-.3 1-.3 1-.3 1-.2 1-.2 1-.2 1-.2 1-.1 1-.1 1-.1 1-.1 1,0 1,0 1,.1 1,.1 1,.1 1,.1 1,.1 1,.2 1,.3 1,.2 1,.3 1,.2 1,.3 1,.4 1,.3 1,.3 1,.4 1,.4 1,.4 1,.4 1,.3 1,.4 1,.5 1,.4 1,.4 1,.4 1,.4 1,.3 1,.4 1,.4 1,.4 1,.4 1,.3 1,.4 1,.3 1,.3 1,.4 1,.3 1,.3 1,.2 1,.3 1,.3 1,.2 1,.3 1,.2 1,.2 1,.2 1,.2 1,.2 1,.2 1,.2 1,.1 1,.2 1,.1 1,.2 1,.1 1,.1 1,.1 1,.1 1,.1 1,.1 1,.1 1,.1 1,.1 1,.1 1,.1 1,0 1,.1 1,.1 1,0 1,.1 1,0 1,.1 1,0 1,.1 1,0 1,.1 1,0 1,.1 1,0 1,.1 1,0 1,.1 1,0 1,.1 1,0 1,0 1,.1 1,0 1,.1 1,0 1,0 1,.1 1,0 1,.1 1,0 1,0 1,.1 1,0 1,.1 1,0 1,.1 1,0 1,.1 1,0 1,0 1,.1 1,0 1,.1 1,0 1,.1 1,.1 1,0 1,.1 1,0 1,.1 1,0 1,.1 1,.1 1,0 1,.1 1,0 1,.1 0,.2-3-.2-3-.2-3-.2-3-.1-3-.2-3-.1-3-.1-3-.1-3-.2-3-.1-3-.1-3-.1-3-.1-3-.1-3,0-3-.1-3-.1-3-.1-3-.1-3-.1-3-.1-3,0-3-.1-3-.1-3-.1-3,0-3-.1-3-.1-3,0-3-.1-3,0-3-.1-3,0-3-.1-3,0-3,0-3-.1-3,0-3,0-3-.1-3,0-3,0-3,0-3-.1-3,0-3,0-3,0-3-.1-3,0-3,0-3,0-3,0-3-.1-3,0-3,0-3,0-3,0-3,0-3-.1-3,0-3,0-3,0-3,0-3,0-3,0-3,0-3-.1-3,0-3,0-3,0-3,0-3,0-3,0-3,0-3,0-3,0Z" fill="#c3dbad" fill-opacity="0.5"/>
<path d="M65.1,617.8l1,0 1,0 1,0 1,0 1,0 1,0 1,0 1,0 1,0 1,0 1,0 1,0 1,0 1,0 1,0 1,0 1,0 1,0 1,0 1,0 1,0 1,0 1,0 1,0 1,0 1,0 1,0 1,0 1,0 1,.1 1,0 1,0 1,0 1,0 1,0 1,0 1,0 1,0 1,0 1,0 1,0 1,0 1,0 1,0 1,0 1,0 1,0 1,0 1,0 1,0 1,0 1,0 1,.1 1,0 1,0 1,0 1,0 1,0 1,0 1,0 1,0 1,0 1,0 1,0 1,0 1,0 1,0 1,0 1,0 1,.1 1,0 1,0 1,0 1,0 1,0 1,0 1,0 1,0 1,0 1,0 1,0 1,0 1,0 1,0 1,.1 1,0 1,0 1,0 1,0 1,0 1,0 1,0 1,0 1,0 1,0 1,0 1,0 1,.1 1,0 1,0 1,0 1,0 1,0 1,0 1,0 1,0 1,0 1,0 1,0 1,.1 1,0 1,0 1,0 1,0 1,0 1,0 1,0 1,0 1,0 1,.1 1,0 1,0 1,0 1,0 1,0 1,0 1,0 1,.1 1,0 1,0 1,0 1,0 1,0 1,0 1,.1 1,0 1,0 1,0 1,0 1,.1 1,0 1,0 1,0 1,0 1,.1 1,0 1,0 1,0 1,0 1,.1 1,0 1,0 1,0 1,.1 1,0 1,0 1,0 1,.1 1,0 1,0 1,0 1,.1 1,0 1,0 1,0 1,.1 1,0 1,0 1,0 1,.1 1,0 1,0 1,.1 1,0 1,0 1,0 1,.1 1,0 1,0 1,.1 1,0 1,0 1,.1 1,0 1,0 1,0 1,.1 1,0 1,0 1,.1 1,0 1,0 1,.1 1,0 1,0 1,.1 1,0 1,0 1,.1 1,0 1,0 1,.1 1,0 1,.1 1,0 1,0 1,.1 1,0 1,.1 1,0 1,0 1,.1 1,0 1,.1 1,0 1,.1 1,0 1,.1 1,0 1,.1 1,0 1,.1 1,.1 1,0 1,.1 1,0 1,.1 1,.1 1,0 1,.1 1,.1 1,0 1,.1 1,.1 1,.1 1,.1 1,.1 1,.1 1,.1 1,.1 1,.1 1,.1 1,.2 1,.1 1,.1 1,.2 1,.1 1,.1 1,.2 1,.1 1,.2 1,.1 1,.2 1,.1 1,.1 1,.2 1,.1 1,.2 1,.1 1,.1 1,.1 1,.2 1,.1 1,.2 1,.1 1,.2 1,.1 1,.2 1,.1 1,.2 1,.1 1,.2 1,.1 1,.2 1,.1 1,.2 1,.1 1,.1 1,.1 1,.2 1,.1 1,.1 1,.1 1,.1 1,0 1,.1 1,.1 1,0 1,.1 1,.1 1,0 1,.1 1,0 1,.1 1,.1 1,0 1,.1 1,0 1,.1 1,0 1,.1 1,0 1,0 1,.1 1,0 1,0 1,0 1,.1 1,0 1,0 1,0 1,0 1,0 1,0 1,0 1,0 1,0 1,0 1,0 1,0 1,0 1,0 1,0 1,0 1,0 1,0 1,0 1,0 1,0 1,0 1,0 1,0 1,0 1,0 1,0 1,0 1,0 1,0 1,0 1,0 1,0 1,0 1,0 1,0 1,0 1,0 1,0 1,0 1,0 1,0" fill="none" stroke="#111" stroke-width="1.6"/>
<path d="M61.9,616.8a3.2,3.2 0 1,0 6.4,0a3.2,3.2 0 1,0 -6.4,0M65.4,617.6a3.2,3.2 0 1,0 6.4,0a3.2,3.2 0 1,0 -6.4,0M68.9,616.4a3.2,3.2 0 1,0 6.4,0a3.2,3.2 0 1,0 -6.4,0M72.4,615.8a3.2,3.2 0 1,0 6.4,0a3.2,3.2 0 1,0 -6.4,0M75.9,616.2a3.2,3.2 0 1,0 6.4,0a3.2,3.2 0 1,0 -6.4,0M79.4,616.5a3.2,3.2 0 1,0 6.4,0a3.2,3.2 0 1,0 -6.4,0M82.9,615.6a3.2,3.2 0 1,0 6.4,0a3.2,3.2 0 1,0 -6.4,0M86.4,616.3a3.2,3.2 0 1,0 6.4,0a3.2,3.2 0 1,0 -6.4,0M89.9,617.2a3.2,3.2 0 1,0 6.4,0a3.2,3.2 0 1,0 -6.4,0M93.4,615.4a3.2,3.2 0 1,0 6.4,0a3.2,3.2 0 1,0 -6.4,0M96.9,615.7a3.2,3.2 0 1,0 6.4,0a3.2,3.2 0 1,0 -6.4,0M100.4,616.4a3.2,3.2 0 1,0 6.4,0a3.2,3.2 0 1,0 -6.4,0M103.9,614.8a3.2,3.2 0 1,0 6.4,0a3.2,3.2 0 1,0 -6.4,0M107.4,614.5a3.2,3.2 0 1,0 6.4,0a3.2,3.2 0 1,0 -6.4,0M110.9,614a3.2,3.2 0 1,0 6.4,0a3.2,3.2 0 1,0 -6.4,0M114.4,614.8a3.2,3.2 0 1,0 6.4,0a3.2,3.2 0 1,0 -6.4,0M117.9,614.6a3.2,3.2 0 1,0 6.4,0a3.2,3.2 0 1,0 -6.4,0M121.4,613.7a3.2,3.2 0 1,0 6.4,0a3.2,3.2 0 1,0 -6.4,0M124.9,613.2a3.2,3.2 0 1,0 6.4,0a3.2,3.2 0 1,0 -6.4,0M128.4,613.1a3.2,3.2 0 1,0 6.4,0a3.2,3.2 0 1,0 -6.4,0M131.9,611.7a3.2,3.2 0 1,0 6.4,0a3.2,3.2 0 1,0 -6.4,0M135.4,609a3.2,3.2 0 1,0 6.4,0a3.2,3.2 0 1,0 -6.4,0M138.9,608.8a3.2,3.2 0 1,0 6.4,0a3.2,3.2 0 1,0 -6.4,0M142.4,607.5a3.2,3.2 0 1,0 6.4,0a3.2,3.2 0 1,0 -6.4,0M145.9,606.4a3.2,3.2 0 1,0 6.4,0a3.2,3.2 0 1,0 -6.4,0M149.4,604.3a3.2,3.2 0 1,0 6.4,0a3.2,3.2 0 1,0 -6.4,0M152.9,602.6a3.2,3.2 0 1,0 6.4,0a3.2,3.2 0 1,0 -6.4,0M156.4,601.3a3.2,3.2 0 1,0 6.4,0a3.2,3.2 0 1,0 -6.4,0M159.9,598.8a3.2,3.2 0 1,0 6.4,0a3.2,3.2 0 1,0 -6.4,0M163.4,598.5a3.2,3.2 0 1,0 6.4,0a3.2,3.2 0 1,0 -6.4,0M166.9,597.3a3.2,3.2 0 1,0 6.4,0a3.2,3.2 0 1,0 -6.4,0M170.4,597.9a3.2,3.2 0 1,0 6.4,0a3.2,3.2 0 1,0 -6.4,0M173.9,596.9a3.2,3.2 0 1,0 6.4,0a3.2,3.2 0 1,0 -6.4,0M177.4,597.3a3.2,3.2 0 1,0 6.4,0a3.2,3.2 0 1,0 -6.4,0M180.9,597a3.2,3.2 0 1,0 6.4,0a3.2,3.2 0 1,0 -6.4,0M184.4,597.1a3.2,3.2 0 1,0 6.4,0a3.2,3.2 0 1,0 -6.4,0M187.9,598.9a3.2,3.2 0 1,0 6.4,0a3.2,3.2 0 1,0 -6.4,0M191.4,599a3.2,3.2 0 1,0 6.4,0a3.2,3.2 0 1,0 -6.4,0M194.9,600.5a3.2,3.2 0 1,0 6.4,0a3.2,3.2 0 1,0 -6.4,0M198.4,600.1a3.2,3.2 0 1,0 6.4,0a3.2,3.2 0 1,0 -6.4,0M201.9,601.7a3.2,3.2 0 1,0 6.4,0a3.2,3.2 0 1,0 -6.4,0M205.4,600.7a3.2,3.2 0 1,0 6.4,0a3.2,3.2 0 1,0 -6.4,0M208.9,601.4a3.2,3.2 0 1,0 6.4,0a3.2,3.2 0 1,0 -6.4,0M212.4,601.2a3.2,3.2 0 1,0 6.4,0a3.2,3.2 0 1,0 -6.4,0M215.9,601.4a3.2,3.2 0 1,0 6.4,0a3.2,3.2 0 1,0 -6.4,0M219.4,600.1a3.2,3.2 0 1,0 6.4,0a3.2,3.2 0 1,0 -6.4,0M222.9,598.6a3.2,3.2 0 1,0 6.4,0a3.2,3.2 0 1,0 -6.4,0M226.4,597.7a3.2,3.2 0 1,0 6.4,0a3.2,3.2 0 1,0 -6.4,0M229.9,595a3.2,3.2 0 1,0 6.4,0a3.2,3.2 0 1,0 -6.4,0M233.4,592.6a3.2,3.2 0 1,0 6.4,0a3.2,3.2 0 1,0 -6.4,0M236.9,590a3.2,3.2 0 1,0 6.4,0a3.2,3.2 0 1,0 -6.4,0M240.4,586.8a3.2,3.2 0 1,0 6.4,0a3.2,3.2 0 1,0 -6.4,0M243.9,583.7a3.2,3.2 0 1,0 6.4,0a3.2,3.2 0 1,0 -6.4,0M247.4,580.9a3.2,3.2 0 1,0 6.4,0a3.2,3.2 0 1,0 -6.4,0M250.9,576.4a3.2,3.2 0 1,0 6.4,0a3.2,3.2 0 1,0 -6.4,0M254.4,572.5a3.2,3.2 0 1,0 6.4,0a3.2,3.2 0 1,0 -6.4,0M257.9,568.7a3.2,3.2 0 1,0 6.4,0a3.2,3.2 0 1,0 -6.4,0M261.4,564.9a3.2,3.2 0 1,0 6.4,0a3.2,3.2 0 1,0 -6.4,0M264.9,560.4a3.2,3.2 0 1,0 6.4,0a3.2,3.2 0 1,0 -6.4,0M268.4,555.7a3.2,3.2 0 1,0 6.4,0a3.2,3.2 0 1,0 -6.4,0M271.9,551.4a3.2,3.2 0 1,0 6.4,0a3.2,3.2 0 1,0 -6.4,0M275.4,545.1a3.2,3.2 0 1,0 6.4,0a3.2,3.2 0 1,0 -6.4,0M278.9,538.1a3.2,3.2 0 1,0 6.4,0a3.2,3.2 0 1,0 -6.4,0M282.4,526.3a3.2,3.2 0 1,0 6.4,0a3.2,3.2 0 1,0 -6.4,0M285.9,514.8a3.2,3.2 0 1,0 6.4,0a3.2,3.2 0 1,0 -6.4,0M289.4,502.8a3.2,3.2 0 1,0 6.4,0a3.2,3.2 0 1,0 -6.4,0M292.9,485.9a3.2,3.2 0 1,0 6.4,0a3.2,3.2 0 1,0 -6.4,0M296.4,467.2a3.2,3.2 0 1,0 6.4,0a3.2,3.2 0 1,0 -6.4,0M299.9,449.9a3.2,3.2 0 1,0 6.4,0a3.2,3.2 0 1,0 -6.4,0M303.4,431.2a3.2,3.2 0 1,0 6.4,0a3.2,3.2 0 1,0 -6.4,0M306.9,414.5a3.2,3.2 0 1,0 6.4,0a3.2,3.2 0 1,0 -6.4,0M310.4,405.9a3.2,3.2 0 1,0 6.4,0a3.2,3.2 0 1,0 -6.4,0M313.9,403.6a3.2,3.2 0 1,0 6.4,0a3.2,3.2 0 1,0 -6.4,0M317.4,410.3a3.2,3.2 0 1,0 6.4,0a3.2,3.2 0 1,0 -6.4,0M320.9,419.7a3.2,3.2 0 1,0 6.4,0a3.2,3.2 0 1,0 -6.4,0M324.4,435.2a3.2,3.2 0 1,0 6.4,0a3.2,3.2 0 1,0 -6.4,0M327.9,457.4a3.2,3.2 0 1,0 6.4,0a3.2,3.2 0 1,0 -6.4,0M331.4,483.2a3.2,3.2 0 1,0 6.4,0a3.2,3.2 0 1,0 -6.4,0M334.9,510a3.2,3.2 0 1,0 6.4,0a3.2,3.2 0 1,0 -6.4,0M338.4,536.9a3.2,3.2 0 1,0 6.4,0a3.2,3.2 0 1,0 -6.4,0M341.9,559.4a3.2,3.2 0 1,0 6.4,0a3.2,3.2 0 1,0 -6.4,0M345.4,575.7a3.2,3.2 0 1,0 6.4,0a3.2,3.2 0 1,0 -6.4,0M348.9,587.4a3.2,3.2 0 1,0 6.4,0a3.2,3.2 0 1,0 -6.4,0M352.4,597.8a3.2,3.2 0 1,0 6.4,0a3.2,3.2 0 1,0 -6.4,0M355.9,604.8a3.2,3.2 0 1,0 6.4,0a3.2,3.2 0 1,0 -6.4,0M359.4,611a3.2,3.2 0 1,0 6.4,0a3.2,3.2 0 1,0 -6.4,0M362.9,615.1a3.2,3.2 0 1,0 6.4,0a3.2,3.2 0 1,0 -6.4,0M366.4,617.3a3.2,3.2 0 1,0 6.4,0a3.2,3.2 0 1,0 -6.4,0M369.9,618.3a3.2,3.2 0 1,0 6.4,0a3.2,3.2 0 1,0 -6.4,0M373.4,620.2a3.2,3.2 0 1,0 6.4,0a3.2,3.2 0 1,0 -6.4,0M376.9,620.7a3.2,3.2 0 1,0 6.4,0a3.2,3.2 0 1,0 -6.4,0M380.4,621.4a3.2,3.2 0 1,0 6.4,0a3.2,3.2 0 1,0 -6.4,0M383.9,622.4a3.2,3.2 0 1,0 6.4,0a3.2,3.2 0 1,0 -6.4,0M387.4,623.7a3.2,3.2 0 1,0 6.4,0a3.2,3.2 0 1,0 -6.4,0M390.9,626.2a3.2,3.2 0 1,0 6.4,0a3.2,3.2 0 1,0 -6.4,0M394.4,625a3.2,3.2 0 1,0 6.4,0a3.2,3.2 0 1,0 -6.4,0M397.9,627.4a3.2,3.2 0 1,0 6.4,0a3.2,3.2 0 1,0 -6.4,0M401.4,627.9a3.2,3.2 0 1,0 6.4,0a3.2,3.2 0 1,0 -6.4,0M404.9,627.3a3.2,3.2 0 1,0 6.4,0a3.2,3.2 0 1,0 -6.4,0M408.4,627.8a3.2,3.2 0 1,0 6.4,0a3.2,3.2 0 1,0 -6.4,0M411.9,627.7a3.2,3.2 0 1,0 6.4,0a3.2,3.2 0 1,0 -6.4,0" fill="#fff" stroke="#2b2b2b" stroke-width="1.0"/>
<path d="M65.1,618.3l1,0 1-.1 1,0 1,0 1-.1 1,0 1,0 1-.1 1,0 1-.1 1,0 1,0 1-.1 1,0 1-.1 1,0 1,0 1-.1 1,0 1-.1 1,0 1-.1 1,0 1-.1 1,0 1-.1 1,0 1,0 1-.1 1,0 1-.1 1,0 1-.1 1,0 1-.1 1,0 1-.1 1,0 1-.1 1,0 1-.1 1,0 1-.1 1,0 1-.1 1-.1 1,0 1-.1 1-.1 1-.1 1,0 1-.1 1-.1 1-.1 1-.1 1-.1 1-.1 1-.1 1-.1 1-.1 1-.2 1-.2 1-.2 1-.3 1-.2 1-.3 1-.3 1-.3 1-.3 1-.4 1-.3 1-.3 1-.4 1-.3 1-.3 1-.4 1-.3 1-.4 1-.4 1-.4 1-.4 1-.4 1-.4 1-.4 1-.5 1-.4 1-.4 1-.4 1-.5 1-.4 1-.4 1-.3 1-.4 1-.4 1-.5 1-.4 1-.5 1-.5 1-.4 1-.5 1-.4 1-.3 1-.3 1-.2 1-.2 1-.1 1,0 1,0 1,0 1,0 1,0 1,0 1,0 1,0 1,0 1,0 1,.1 1,0 1,0 1,0 1,0 1,.1 1,.1 1,.1 1,.2 1,.2 1,.3 1,.2 1,.3 1,.2 1,.3 1,.3 1,.2 1,.3 1,.2 1,.2 1,.1 1,.2 1,.2 1,.2 1,.2 1,.1 1,0 1,0 1,0 1-.1 1,0 1-.1 1,0 1-.1 1-.1 1-.1 1-.2 1-.2 1-.2 1-.3 1-.3 1-.4 1-.3 1-.4 1-.4 1-.4 1-.4 1-.5 1-.5 1-.6 1-.7 1-.7 1-.7 1-.8 1-.8 1-.8 1-.7 1-.8 1-.8 1-.7 1-.8 1-.8 1-.7 1-.9 1-.8 1-.8 1-.9 1-.9 1-1 1-1 1-1.1 1-1.2 1-1.2 1-1.3 1-1.2 1-1.3 1-1.3 1-1.2 1-1.2 1-1.2 1-1.1 1-1.1 1-1 1-1 1-1 1-1 1-1.1 1-1.1 1-1.1 1-1.2 1-1.4 1-1.4 1-1.5 1-1.5 1-1.7 1-1.7 1-1.9 1-2 1-2.1 1-2.2 1-2.6 1-2.8 1-3 1-3.2 1-3.3 1-3.3 1-3.3 1-3.4 1-3.4 1-3.6 1-3.8 1-3.9 1-4.3 1-4.7 1-5.1 1-5.4 1-5.4 1-5.4 1-5.3 1-5.3 1-5.4 1-5.3 1-5.2 1-5.1 1-5.4 1-5.5 1-5.3 1-4.6 1-3.6 1-2.6 1-2.5 1-2.2 1-1.7 1-1.1 1-.2 1,.6 1,1.2 1,1.6 1,1.9 1,2 1,2.2 1,3 1,3.5 1,3.9 1,4.3 1,4.6 1,5.4 1,6.2 1,6.7 1,7 1,7 1,7.1 1,7.5 1,7.7 1,7.8 1,7.7 1,7.5 1,7.7 1,7.7 1,7.6 1,7.1 1,6.6 1,6 1,5.6 1,5.4 1,5 1,4.6 1,4.1 1,3.9 1,3.7 1,3.5 1,3.2 1,3 1,2.5 1,2.3 1,2.3 1,2.1 1,2 1,1.8 1,1.7 1,1.5 1,1.2 1,1 1,.8 1,.8 1,.7 1,.6 1,.6 1,.6 1,.5 1,.5 1,.4 1,.4 1,.4 1,.4 1,.4 1,.3 1,.4 1,.3 1,.3 1,.4 1,.3 1,.3 1,.3 1,.3 1,.3 1,.2 1,.3 1,.3 1,.2 1,.2 1,.3 1,.2 1,.2 1,.2 1,.2 1,.2 1,.2 1,.2 1,.1 1,.2 1,.1 1,.2 1,.1 1,.1 1,.2 1,.1 1,.1 1,.1 1,.1 1,.1 1,.1 1,.1 1,0" fill="none" stroke="#2e62a0" stroke-width="1.9" stroke-linejoin="round"/>
<rect x="64.1" y="384.8" width="351.7" height="283.7" fill="none" stroke="#111" stroke-width="1.7"/>
<path d="M64.1,668.5v-5M134.4,668.5v-5M204.8,668.5v-5M275.1,668.5v-5M345.5,668.5v-5M415.8,668.5v-5M99.3,668.5v-3M169.6,668.5v-3M240.0,668.5v-3M310.3,668.5v-3M380.6,668.5v-3" stroke="#111" stroke-width="1.5"/>
<text x="64.1" y="687.0" font-size="15.5" text-anchor="middle" fill="#111">292</text>
<text x="134.4" y="687.0" font-size="15.5" text-anchor="middle" fill="#111">290</text>
<text x="204.8" y="687.0" font-size="15.5" text-anchor="middle" fill="#111">288</text>
<text x="275.1" y="687.0" font-size="15.5" text-anchor="middle" fill="#111">286</text>
<text x="345.5" y="687.0" font-size="15.5" text-anchor="middle" fill="#111">284</text>
<text x="415.8" y="687.0" font-size="15.5" text-anchor="middle" fill="#111">282</text>
<text x="171.8" y="714.0" font-size="16" textLength="136.8" lengthAdjust="spacingAndGlyphs" fill="#111">Binding energy (eV)</text>
<text x="50.5" y="576.1" font-size="15.5" textLength="100.2" lengthAdjust="spacingAndGlyphs" fill="#111" transform="rotate(-90 51.0 576.1)">Intensity (a.u.)</text>
<text x="15.1" y="412.0" font-size="39.5" textLength="44.7" lengthAdjust="spacingAndGlyphs" fill="#111">(c)</text>
<text x="373.9" y="405.9" font-size="15.5" textLength="29.3" lengthAdjust="spacingAndGlyphs" fill="#111">C 1s</text>
<text x="97.4" y="575.5" font-size="12" textLength="37.6" lengthAdjust="spacingAndGlyphs" fill="#111">O-C=O</text>
<text x="97.5" y="593.6" font-size="12" textLength="42.9" lengthAdjust="spacingAndGlyphs" fill="#111">288.9 eV</text>
<text x="155.9" y="560.1" font-size="12" textLength="24.0" lengthAdjust="spacingAndGlyphs" fill="#111">C=O</text>
<text x="156.0" y="577.9" font-size="12" textLength="42.6" lengthAdjust="spacingAndGlyphs" fill="#111">287.8 eV</text>
<text x="208.9" y="541.0" font-size="12" fill="#111">C-O</text>
<text x="209.5" y="559.3" font-size="12" textLength="42.6" lengthAdjust="spacingAndGlyphs" fill="#111">286.1 eV</text>
<text x="233.1" y="469.9" font-size="12" textLength="21.4" lengthAdjust="spacingAndGlyphs" fill="#111">C-C</text>
<text x="233.2" y="488.4" font-size="12" textLength="43.3" lengthAdjust="spacingAndGlyphs" fill="#111">284.8 eV</text>
<line x1="132.0" y1="597.6" x2="148.8" y2="608.7" stroke="#9fd35a" stroke-width="1.6"/>
<path d="M154.6,612.6L147.0,611.4L150.5,609.9L150.5,606.1Z" fill="#9fd35a"/>
<line x1="189.1" y1="585.7" x2="202.1" y2="605.5" stroke="#f3c59a" stroke-width="1.6"/>
<path d="M205.9,611.4L199.4,607.3L203.2,607.3L204.7,603.8Z" fill="#f3c59a"/>
<line x1="243.8" y1="565.2" x2="254.8" y2="586.2" stroke="#e6a0c6" stroke-width="1.6"/>
<path d="M258.0,592.4L251.9,587.7L255.7,588.1L257.6,584.7Z" fill="#e6a0c6"/>
<line x1="280.4" y1="478.7" x2="305.7" y2="485.2" stroke="#a6dcf3" stroke-width="1.6"/>
<path d="M312.5,487.0L304.9,488.3L307.8,485.8L306.5,482.1Z" fill="#a6dcf3"/>
<path d="M82,631.8a3.0,3.0 0 1,0 6,0a3.0,3.0 0 1,0 -6,0" fill="#fff" stroke="#2b2b2b" stroke-width="1.0"/>
<text x="105.7" y="636.1" font-size="12.8" fill="#111">Raw</text>
<line x1="68.6" y1="650" x2="101.5" y2="650" stroke="#2e62a0" stroke-width="1.9"/>
<text x="105.7" y="654.8" font-size="12.8" fill="#111">Fitting</text>
<path d="M524.9,596.5l1-.1 1,0 1-.1 1,0 1-.1 1,0 1-.1 1,0 1,0 1-.1 1,0 1-.1 1,0 1-.1 1,0 1,0 1-.1 1,0 1,0 1-.1 1,0 1,0 1-.1 1,0 1-.1 1,0 1,0 1-.1 1,0 1,0 1-.1 1,0 1-.1 1,0 1-.1 1,0 1-.1 1,0 1-.1 1-.1 1,0 1-.1 1-.1 1-.1 1-.1 1-.2 1-.1 1-.1 1-.2 1-.2 1-.2 1-.2 1-.3 1-.3 1-.3 1-.4 1-.4 1-.4 1-.5 1-.5 1-.5 1-.7 1-.6 1-.8 1-.8 1-.8 1-.9 1-1 1-1.1 1-1.1 1-1.2 1-1.3 1-1.4 1-1.4 1-1.5 1-1.6 1-1.6 1-1.8 1-1.7 1-1.9 1-1.9 1-1.9 1-2 1-2 1-2.1 1-2.1 1-2 1-2.1 1-2.1 1-2 1-2 1-2 1-1.9 1-1.9 1-1.7 1-1.7 1-1.5 1-1.4 1-1.3 1-1.1 1-.9 1-.8 1-.6 1-.4 1-.2 1,0 1,.1 1,.4 1,.6 1,.7 1,.9 1,1.1 1,1.3 1,1.4 1,1.6 1,1.6 1,1.8 1,1.9 1,2 1,2 1,2.2 1,2.1 1,2.2 1,2.2 1,2.3 1,2.2 1,2.2 1,2.2 1,2.2 1,2.1 1,2.1 1,2.1 1,2 1,1.9 1,1.8 1,1.8 1,1.7 1,1.7 1,1.5 1,1.5 1,1.4 1,1.3 1,1.3 1,1.2 1,1.1 1,1 1,1 1,.9 1,.8 1,.8 1,.7 1,.7 1,.6 1,.6 1,.5 1,.5 1,.5 1,.4 1,.3 1,.4 1,.3 1,.3 1,.3 1,.3 1,.2 1,.2 1,.2 1,.2 1,.2 1,.2 1,.2 1,.1 1,.2 1,.2 1,.1 1,.2 1,.1 1,.2 1,.1 1,.2 1,.1 1,.2 1,.1 1,.2 1,.2 1,.1 1,.2 1,.2 1,.1 1,.2 1,.2 1,.1 1,.2 1,.2 1,.2 1,.1 1,.2 1,.2 1,.1 1,.2 1,.2 1,.2 1,.1 1,.2 1,.2 1,.1 1,.2 1,.1 1,.2 1,.2 1,.1 1,.1 1,.2 1,.1 1,.2 1,.1 1,.1 1,.1 1,.2 1,.1 1,.1 1,.1 1,.1 1,0 1,.1 1,.1 1,.1 1,.1 1,0 1,.1 1,.1 1,.1 1,.1 1,0 1,.1 1,.1 1,.1 1,0 1,.1 1,.1 1,0 1,.1 1,.1 1,0 1,.1 1,.1 1,0 1,.1 1,.1 1,0 1,.1 1,0 1,.1 1,0 1,.1 1,0 1,.1 1,0 1,.1 1,0 1,.1 1,0 1,0 1,.1 1,0 1,0 1,.1 1,0 1,0 1,0 1,.1 1,0 1,0 1,0 1,0 1,0 1,0 1,0 1,0 1,.1 1,0 1,0 1,0 1,0 1,0 1,0 1,0 1,0 1,0 1,0 1,0 1,.1 1,0 1,0 1,0 1,0 1,0 1,0 1,0 1,0 1,0 1,0 1,0 1,0 0,.2-3,0-3,0-3-.1-3,0-3,0-3,0-3,0-3-.1-3,0-3,0-3,0-3-.1-3-.1-3-.1-3-.1-3-.1-3-.1-3-.2-3-.2-3-.2-3-.1-3-.2-3-.2-3-.3-3-.2-3-.2-3-.2-3-.3-3-.3-3-.4-3-.4-3-.4-3-.5-3-.4-3-.5-3-.5-3-.5-3-.4-3-.5-3-.4-3-.4-3-.3-3-.3-3-.3-3-.2-3-.3-3-.2-3-.2-3-.2-3-.2-3-.2-3-.2-3-.2-3-.2-3-.2-3-.2-3-.3-3-.3-3-.3-3-.3-3-.3-3-.4-3-.3-3-.3-3-.3-3-.3-3-.3-3-.2-3-.2-3-.2-3-.1-3-.2-3-.1-3-.1-3-.2-3-.1-3-.1-3-.1-3-.1-3-.1-3-.1-3-.1-3,0-3-.1-3,0-3-.1-3,0-3,0-3,0-3,0-3,0-3,.1-3,0-3,0-3,.1-3,.1-3,0-3,.1-3,.1-3,.1-3,.1Z" fill="#b7d39f" fill-opacity="0.5"/>
<path d="M524.9,596.6l1,0 1-.1 1,0 1-.1 1,0 1,0 1-.1 1,0 1,0 1-.1 1,0 1,0 1-.1 1,0 1,0 1-.1 1,0 1,0 1-.1 1,0 1,0 1,0 1,0 1-.1 1,0 1,0 1,0 1-.1 1,0 1,0 1,0 1,0 1,0 1,0 1-.1 1,0 1,0 1,0 1,0 1,0 1,0 1,0 1,0 1,0 1,0 1,0 1,0 1,0 1,0 1,0 1,0 1,0 1,0 1,0 1,0 1,0 1,0 1,0 1,0 1,0 1,0 1,0 1,0 1,.1 1,0 1,0 1,0 1,0 1,0 1,0 1,0 1,0 1,.1 1,0 1,0 1,0 1,0 1,0 1,0 1,0 1,0 1,0 1,0 1,0 1,0 1,0 1-.1 1,0 1,0 1-.1 1,0 1-.1 1-.1 1,0 1-.1 1-.1 1-.2 1-.1 1-.1 1-.2 1-.2 1-.2 1-.3 1-.3 1-.3 1-.4 1-.4 1-.4 1-.5 1-.6 1-.6 1-.7 1-.8 1-.9 1-.9 1-1 1-1.1 1-1.3 1-1.3 1-1.4 1-1.5 1-1.6 1-1.8 1-1.8 1-2 1-2.1 1-2.2 1-2.3 1-2.4 1-2.5 1-2.7 1-2.7 1-2.8 1-2.9 1-2.9 1-3 1-3.1 1-3.1 1-3.1 1-3.1 1-3.1 1-3.1 1-3 1-3 1-2.8 1-2.8 1-2.7 1-2.5 1-2.3 1-2.1 1-2 1-1.7 1-1.5 1-1.3 1-.9 1-.7 1-.5 1-.1 1,.1 1,.5 1,.7 1,1 1,1.3 1,1.5 1,1.8 1,2 1,2.2 1,2.4 1,2.6 1,2.7 1,2.9 1,3 1,3.1 1,3.1 1,3.3 1,3.2 1,3.3 1,3.3 1,3.3 1,3.3 1,3.2 1,3.2 1,3.1 1,3.1 1,3 1,2.8 1,2.9 1,2.7 1,2.6 1,2.5 1,2.4 1,2.2 1,2.2 1,2 1,2 1,1.8 1,1.8 1,1.6 1,1.5 1,1.4 1,1.3 1,1.3 1,1.1 1,1.1 1,1 1,.9 1,.9 1,.8 1,.7 1,.6 1,.7 1,.5 1,.6 1,.4 1,.5 1,.4 1,.4 1,.3 1,.3 1,.3 1,.3 1,.2 1,.2 1,.2 1,.2 1,.2 1,.1 1,.2 1,.2 1,.1 1,.1 1,.2 1,.1 1,.1 1,.1 1,.1 1,.1 1,.1 1,.1 1,.1 1,.1 1,.1 1,.1 1,.1 1,.1 1,.1 1,.1 1,0 1,.1 1,.1 1,.1 1,0 1,.1 1,.1 1,.1 1,0 1,.1 1,0 1,.1 1,0 1,.1 1,.1 1,0 1,0 1,.1 1,0 1,.1 1,0 1,0 1,.1 1,0 1,0 1,0 1,.1 1,0 1,0 1,0 1,0 1,0 1,.1 1,0 1,0 1,0 1,0 1,0 1,.1 1,0 1,0 1,0 1,0 1,0 1,0 1,.1 1,0 1,0 1,0 1,0 1,0 1,0 1,0 1,0 1,.1 1,0 1,0 1,0 1,0 1,0 1,0 1,0 1,0 1,0 1,.1 1,0 1,0 1,0 1,0 1,0 1,0 1,0 1,0 1,0 1,0 1,0 1,0 1,0 1,.1 1,0 1,0 1,0 1,0 1,0 1,0 1,0 1,0 1,0 1,0 1,0 1,0 1,0 1,0 1,0 1,0 1,0 1,0 1,0 1,0 1,.1 1,0 1,0 1,0 0,.2-3,0-3,0-3,0-3,0-3,0-3,0-3,0-3,0-3,0-3,0-3-.1-3,0-3,0-3,0-3,0-3,0-3,0-3-.1-3,0-3,0-3,0-3,0-3,0-3-.1-3,0-3,0-3-.1-3,0-3-.1-3-.1-3-.2-3-.1-3-.1-3-.2-3-.2-3-.2-3-.2-3-.2-3-.2-3-.2-3-.2-3-.2-3-.3-3-.3-3-.4-3-.3-3-.5-3-.4-3-.5-3-.4-3-.5-3-.5-3-.5-3-.4-3-.4-3-.4-3-.4-3-.3-3-.3-3-.2-3-.3-3-.2-3-.2-3-.2-3-.2-3-.2-3-.2-3-.2-3-.2-3-.2-3-.2-3-.3-3-.3-3-.3-3-.3-3-.3-3-.3-3-.4-3-.3-3-.3-3-.3-3-.3-3-.3-3-.2-3-.2-3-.1-3-.1-3-.2-3-.1-3-.1-3-.1-3-.1-3-.2-3-.1-3-.1-3,0-3-.1-3-.1-3-.1-3,0-3-.1-3,0-3,0-3,0-3,0-3,0-3,0-3,.1-3,0-3,.1-3,0-3,.1-3,.1-3,.1-3,.1-3,.1Z" fill="#e7a3c1" fill-opacity="0.5"/>
<path d="M533.9,596.5l1,0 1-.1 1,0 1,0 1,0 1-.1 1,0 1,0 1,0 1-.1 1,0 1,0 1,0 1,0 1-.1 1,0 1,0 1,0 1,0 1,0 1,0 1-.1 1,0 1,0 1,0 1,0 1,0 1,0 1,0 1,0 1,0 1,0 1,0 1,0 1,0 1,0 1,0 1,0 1,0 1,0 1,.1 1,0 1,0 1,0 1,0 1,0 1,0 1,.1 1,0 1,0 1,0 1,.1 1,0 1,0 1,0 1,.1 1,0 1,0 1,0 1,.1 1,0 1,0 1,.1 1,0 1,0 1,.1 1,0 1,0 1,.1 1,0 1,0 1,.1 1,0 1,0 1,.1 1,0 1,.1 1,0 1,0 1,.1 1,0 1,0 1,.1 1,0 1,.1 1,0 1,0 1,.1 1,.1 1,0 1,.1 1,0 1,.1 1,.1 1,.1 1,0 1,.1 1,.1 1,.1 1,.1 1,.1 1,.1 1,.1 1,.1 1,.1 1,.1 1,.1 1,.1 1,.1 1,.1 1,.1 1,0 1,.1 1,.1 1,.1 1,.1 1,.1 1,.1 1,.1 1,.1 1,0 1,.1 1,.1 1,0 1,.1 1,.1 1,0 1,.1 1,0 1,0 1,.1 1,0 1,0 1,.1 1,0 1,0 1,0 1,0 1-.1 1,0 1,0 1-.1 1-.1 1-.1 1-.1 1-.1 1-.2 1-.2 1-.3 1-.3 1-.3 1-.4 1-.5 1-.5 1-.6 1-.7 1-.8 1-.8 1-1 1-1.2 1-1.2 1-1.4 1-1.5 1-1.7 1-1.8 1-2.1 1-2.2 1-2.4 1-2.6 1-2.7 1-3 1-3.2 1-3.4 1-3.6 1-3.7 1-4 1-4.1 1-4.3 1-4.4 1-4.5 1-4.7 1-4.7 1-4.8 1-4.8 1-4.7 1-4.8 1-4.7 1-4.5 1-4.4 1-4.2 1-4 1-3.8 1-3.4 1-3.1 1-2.7 1-2.3 1-1.8 1-1.5 1-.9 1-.4 1,0 1,.4 1,.6 1,1 1,1.2 1,1.6 1,1.8 1,2 1,2.3 1,2.5 1,2.7 1,2.9 1,3.1 1,3.2 1,3.4 1,3.5 1,3.6 1,3.7 1,3.8 1,3.8 1,3.9 1,3.9 1,3.9 1,3.9 1,3.8 1,3.9 1,3.8 1,3.7 1,3.7 1,3.6 1,3.5 1,3.4 1,3.3 1,3.2 1,3.1 1,2.9 1,2.9 1,2.7 1,2.6 1,2.5 1,2.4 1,2.2 1,2.1 1,2 1,1.9 1,1.7 1,1.7 1,1.5 1,1.5 1,1.3 1,1.3 1,1.1 1,1.1 1,1 1,.9 1,.8 1,.8 1,.7 1,.7 1,.6 1,.5 1,.5 1,.4 1,.4 1,.4 1,.3 1,.3 1,.3 1,.2 1,.2 1,.2 1,.2 1,.2 1,.1 1,.2 1,.1 1,.1 1,.1 1,.1 1,.1 1,.1 1,0 1,.1 1,.1 1,0 1,.1 1,0 1,.1 1,0 1,0 1,.1 1,0 1,0 1,.1 1,0 1,0 1,.1 1,0 1,0 1,0 1,.1 1,0 1,0 1,0 1,0 1,.1 1,0 1,0 1,0 1,0 1,.1 1,0 1,0 1,0 1,0 1,0 1,.1 1,0 1,0 1,0 1,0 1,0 1,0 1,0 1,.1 1,0 1,0 1,0 1,0 1,0 1,0 1,0 1,0 1,0 1,.1 1,0 1,0 1,0 1,0 1,0 1,0 0,.5-3,0-3,0-3,0-3,0-3,0-3,0-3,0-3,0-3,0-3,0-3-.1-3,0-3,0-3,0-3,0-3,0-3,0-3-.1-3,0-3,0-3,0-3,0-3,0-3-.1-3,0-3,0-3-.1-3,0-3-.1-3-.1-3-.2-3-.1-3-.1-3-.2-3-.2-3-.2-3-.2-3-.2-3-.2-3-.2-3-.2-3-.2-3-.3-3-.3-3-.4-3-.3-3-.5-3-.4-3-.5-3-.4-3-.5-3-.5-3-.5-3-.4-3-.4-3-.4-3-.4-3-.3-3-.3-3-.2-3-.3-3-.2-3-.2-3-.2-3-.2-3-.2-3-.2-3-.2-3-.2-3-.2-3-.2-3-.3-3-.3-3-.3-3-.3-3-.3-3-.3-3-.4-3-.3-3-.3-3-.3-3-.3-3-.3-3-.2-3-.2-3-.1-3-.1-3-.2-3-.1-3-.1-3-.1-3-.1-3-.2-3-.1-3-.1-3,0-3-.1-3-.1-3-.1-3,0-3-.1-3,0-3,0-3,0-3,0-3,0-3,0-3,.1-3,0-3,.1-3,0-3,.1-3,.1Z" fill="#97d5ef" fill-opacity="0.5"/>
<path d="M524.9,597l1-.1 1,0 1-.1 1,0 1,0 1-.1 1,0 1,0 1-.1 1,0 1,0 1,0 1-.1 1,0 1,0 1,0 1-.1 1,0 1,0 1,0 1,0 1-.1 1,0 1,0 1,0 1,0 1,0 1,0 1-.1 1,0 1,0 1,0 1,0 1,0 1,0 1,0 1,0 1,0 1,0 1,0 1,0 1,0 1,0 1,0 1,0 1,0 1,0 1,.1 1,0 1,0 1,0 1,0 1,0 1,.1 1,0 1,0 1,0 1,0 1,.1 1,0 1,0 1,.1 1,0 1,0 1,0 1,.1 1,0 1,0 1,.1 1,0 1,0 1,.1 1,0 1,.1 1,0 1,0 1,.1 1,0 1,0 1,.1 1,0 1,.1 1,0 1,.1 1,0 1,0 1,.1 1,0 1,.1 1,0 1,.1 1,0 1,.1 1,0 1,0 1,.1 1,.1 1,0 1,.1 1,.1 1,0 1,.1 1,.1 1,.1 1,.1 1,.1 1,.1 1,.1 1,.1 1,.1 1,.1 1,.1 1,.1 1,.1 1,.1 1,.1 1,.1 1,.1 1,.2 1,.1 1,.1 1,.1 1,.1 1,.1 1,.1 1,.1 1,.1 1,.1 1,.1 1,.1 1,.1 1,.1 1,.1 1,.1 1,.1 1,.1 1,.1 1,0 1,.1 1,.1 1,.1 1,0 1,.1 1,.1 1,0 1,.1 1,.1 1,0 1,.1 1,.1 1,0 1,.1 1,.1 1,0 1,.1 1,.1 1,0 1,.1 1,.1 1,0 1,.1 1,.1 1,0 1,.1 1,.1 1,0 1,.1 1,.1 1,.1 1,.1 1,0 1,.1 1,.1 1,.1 1,.1 1,.1 1,.1 1,.1 1,.1 1,.1 1,.1 1,.2 1,.1 1,.1 1,.2 1,.1 1,.1 1,.2 1,.1 1,.2 1,.1 1,.2 1,.1 1,.2 1,.2 1,.1 1,.2 1,.1 1,.2 1,.2 1,.1 1,.2 1,.1 1,.2 1,.1 1,.2 1,.1 1,.2 1,.1 1,.2 1,.1 1,.2 1,.1 1,.1 1,.1 1,.2 1,.1 1,.1 1,.1 1,.1 1,.1 1,.1 1,.1 1,.1 1,0 1,.1 1,.1 1,.1 1,0 1,.1 1,.1 1,0 1,.1 1,.1 1,.1 1,0 1,.1 1,.1 1,0 1,.1 1,.1 1,0 1,.1 1,0 1,.1 1,.1 1,0 1,.1 1,0 1,.1 1,.1 1,0 1,.1 1,0 1,.1 1,0 1,0 1,.1 1,0 1,.1 1,0 1,0 1,.1 1,0 1,0 1,.1 1,0 1,0 1,0 1,.1 1,0 1,0 1,0 1,0 1,0 1,0 1,0 1,0 1,0 1,0 1,.1 1,0 1,0 1,0 1,0 1,0 1,0 1,0 1,0 1,0 1,0 1,0 1,0 1,0 1,0 1,0 1,.1 1,0 1,0 1,0 1,0 1,0 1,0 1,0 1,0 1,0 1,0 1,0 1,0 1,0 1,0 1,0 1,0 1,0 1,0 1,0 1,0 1,0 1,0 1,.1 1,0 1,0 1,0 1,0 1,0 1,0 1,0 1,0 1,0 1,0 1,0 1,0 1,0 1,0 1,0 1,0 1,0 1,0 1,0 1,0 1,0 1,0 1,0 1,0 1,0 1,0 1,0 1,0 1,0 1,0" fill="none" stroke="#111" stroke-width="1.6"/>
<path d="M521.7,596.5a3.2,3.2 0 1,0 6.4,0a3.2,3.2 0 1,0 -6.4,0M525.2,597.3a3.2,3.2 0 1,0 6.4,0a3.2,3.2 0 1,0 -6.4,0M528.7,597a3.2,3.2 0 1,0 6.4,0a3.2,3.2 0 1,0 -6.4,0M532.2,597.9a3.2,3.2 0 1,0 6.4,0a3.2,3.2 0 1,0 -6.4,0M535.7,598.1a3.2,3.2 0 1,0 6.4,0a3.2,3.2 0 1,0 -6.4,0M539.2,597.4a3.2,3.2 0 1,0 6.4,0a3.2,3.2 0 1,0 -6.4,0M542.7,597.2a3.2,3.2 0 1,0 6.4,0a3.2,3.2 0 1,0 -6.4,0M546.2,596.5a3.2,3.2 0 1,0 6.4,0a3.2,3.2 0 1,0 -6.4,0M549.7,596.4a3.2,3.2 0 1,0 6.4,0a3.2,3.2 0 1,0 -6.4,0M553.2,594.7a3.2,3.2 0 1,0 6.4,0a3.2,3.2 0 1,0 -6.4,0M556.7,595.3a3.2,3.2 0 1,0 6.4,0a3.2,3.2 0 1,0 -6.4,0M560.2,594.4a3.2,3.2 0 1,0 6.4,0a3.2,3.2 0 1,0 -6.4,0M563.7,592.5a3.2,3.2 0 1,0 6.4,0a3.2,3.2 0 1,0 -6.4,0M567.2,593.3a3.2,3.2 0 1,0 6.4,0a3.2,3.2 0 1,0 -6.4,0M570.7,588.9a3.2,3.2 0 1,0 6.4,0a3.2,3.2 0 1,0 -6.4,0M574.2,586.8a3.2,3.2 0 1,0 6.4,0a3.2,3.2 0 1,0 -6.4,0M577.7,585.5a3.2,3.2 0 1,0 6.4,0a3.2,3.2 0 1,0 -6.4,0M581.2,581.4a3.2,3.2 0 1,0 6.4,0a3.2,3.2 0 1,0 -6.4,0M584.7,579.6a3.2,3.2 0 1,0 6.4,0a3.2,3.2 0 1,0 -6.4,0M588.2,575.8a3.2,3.2 0 1,0 6.4,0a3.2,3.2 0 1,0 -6.4,0M591.7,572.1a3.2,3.2 0 1,0 6.4,0a3.2,3.2 0 1,0 -6.4,0M595.2,567a3.2,3.2 0 1,0 6.4,0a3.2,3.2 0 1,0 -6.4,0M598.7,561a3.2,3.2 0 1,0 6.4,0a3.2,3.2 0 1,0 -6.4,0M602.2,555.4a3.2,3.2 0 1,0 6.4,0a3.2,3.2 0 1,0 -6.4,0M605.7,548.5a3.2,3.2 0 1,0 6.4,0a3.2,3.2 0 1,0 -6.4,0M609.2,542.2a3.2,3.2 0 1,0 6.4,0a3.2,3.2 0 1,0 -6.4,0M612.7,534.9a3.2,3.2 0 1,0 6.4,0a3.2,3.2 0 1,0 -6.4,0M616.2,527.3a3.2,3.2 0 1,0 6.4,0a3.2,3.2 0 1,0 -6.4,0M619.7,523.6a3.2,3.2 0 1,0 6.4,0a3.2,3.2 0 1,0 -6.4,0M623.2,518.7a3.2,3.2 0 1,0 6.4,0a3.2,3.2 0 1,0 -6.4,0M626.7,515.6a3.2,3.2 0 1,0 6.4,0a3.2,3.2 0 1,0 -6.4,0M630.2,514.8a3.2,3.2 0 1,0 6.4,0a3.2,3.2 0 1,0 -6.4,0M633.7,512a3.2,3.2 0 1,0 6.4,0a3.2,3.2 0 1,0 -6.4,0M637.2,509.6a3.2,3.2 0 1,0 6.4,0a3.2,3.2 0 1,0 -6.4,0M640.7,508.5a3.2,3.2 0 1,0 6.4,0a3.2,3.2 0 1,0 -6.4,0M644.2,507.4a3.2,3.2 0 1,0 6.4,0a3.2,3.2 0 1,0 -6.4,0M647.7,504.7a3.2,3.2 0 1,0 6.4,0a3.2,3.2 0 1,0 -6.4,0M651.2,503.4a3.2,3.2 0 1,0 6.4,0a3.2,3.2 0 1,0 -6.4,0M654.7,498.5a3.2,3.2 0 1,0 6.4,0a3.2,3.2 0 1,0 -6.4,0M658.2,494.8a3.2,3.2 0 1,0 6.4,0a3.2,3.2 0 1,0 -6.4,0M661.7,489.9a3.2,3.2 0 1,0 6.4,0a3.2,3.2 0 1,0 -6.4,0M665.2,488.2a3.2,3.2 0 1,0 6.4,0a3.2,3.2 0 1,0 -6.4,0M668.7,484.5a3.2,3.2 0 1,0 6.4,0a3.2,3.2 0 1,0 -6.4,0M672.2,480.8a3.2,3.2 0 1,0 6.4,0a3.2,3.2 0 1,0 -6.4,0M675.7,479.6a3.2,3.2 0 1,0 6.4,0a3.2,3.2 0 1,0 -6.4,0M679.2,478.1a3.2,3.2 0 1,0 6.4,0a3.2,3.2 0 1,0 -6.4,0M682.7,480a3.2,3.2 0 1,0 6.4,0a3.2,3.2 0 1,0 -6.4,0M686.2,482a3.2,3.2 0 1,0 6.4,0a3.2,3.2 0 1,0 -6.4,0M689.7,483.5a3.2,3.2 0 1,0 6.4,0a3.2,3.2 0 1,0 -6.4,0M693.2,483.7a3.2,3.2 0 1,0 6.4,0a3.2,3.2 0 1,0 -6.4,0M696.7,487.5a3.2,3.2 0 1,0 6.4,0a3.2,3.2 0 1,0 -6.4,0M700.2,490.3a3.2,3.2 0 1,0 6.4,0a3.2,3.2 0 1,0 -6.4,0M703.7,490.7a3.2,3.2 0 1,0 6.4,0a3.2,3.2 0 1,0 -6.4,0M707.2,487.6a3.2,3.2 0 1,0 6.4,0a3.2,3.2 0 1,0 -6.4,0M710.7,479a3.2,3.2 0 1,0 6.4,0a3.2,3.2 0 1,0 -6.4,0M714.2,474a3.2,3.2 0 1,0 6.4,0a3.2,3.2 0 1,0 -6.4,0M717.7,465.9a3.2,3.2 0 1,0 6.4,0a3.2,3.2 0 1,0 -6.4,0M721.2,460.8a3.2,3.2 0 1,0 6.4,0a3.2,3.2 0 1,0 -6.4,0M724.7,457.7a3.2,3.2 0 1,0 6.4,0a3.2,3.2 0 1,0 -6.4,0M728.2,455.6a3.2,3.2 0 1,0 6.4,0a3.2,3.2 0 1,0 -6.4,0M731.7,454.3a3.2,3.2 0 1,0 6.4,0a3.2,3.2 0 1,0 -6.4,0M735.2,457.8a3.2,3.2 0 1,0 6.4,0a3.2,3.2 0 1,0 -6.4,0M738.7,461.4a3.2,3.2 0 1,0 6.4,0a3.2,3.2 0 1,0 -6.4,0M742.2,467.6a3.2,3.2 0 1,0 6.4,0a3.2,3.2 0 1,0 -6.4,0M745.7,479a3.2,3.2 0 1,0 6.4,0a3.2,3.2 0 1,0 -6.4,0M749.2,492.2a3.2,3.2 0 1,0 6.4,0a3.2,3.2 0 1,0 -6.4,0M752.7,507a3.2,3.2 0 1,0 6.4,0a3.2,3.2 0 1,0 -6.4,0M756.2,523.6a3.2,3.2 0 1,0 6.4,0a3.2,3.2 0 1,0 -6.4,0M759.7,540.5a3.2,3.2 0 1,0 6.4,0a3.2,3.2 0 1,0 -6.4,0M763.2,557.5a3.2,3.2 0 1,0 6.4,0a3.2,3.2 0 1,0 -6.4,0M766.7,571.2a3.2,3.2 0 1,0 6.4,0a3.2,3.2 0 1,0 -6.4,0M770.2,582.8a3.2,3.2 0 1,0 6.4,0a3.2,3.2 0 1,0 -6.4,0M773.7,588.3a3.2,3.2 0 1,0 6.4,0a3.2,3.2 0 1,0 -6.4,0M777.2,595.6a3.2,3.2 0 1,0 6.4,0a3.2,3.2 0 1,0 -6.4,0M780.7,600.6a3.2,3.2 0 1,0 6.4,0a3.2,3.2 0 1,0 -6.4,0M784.2,603.8a3.2,3.2 0 1,0 6.4,0a3.2,3.2 0 1,0 -6.4,0M787.7,606.6a3.2,3.2 0 1,0 6.4,0a3.2,3.2 0 1,0 -6.4,0M791.2,608.3a3.2,3.2 0 1,0 6.4,0a3.2,3.2 0 1,0 -6.4,0M794.7,611.3a3.2,3.2 0 1,0 6.4,0a3.2,3.2 0 1,0 -6.4,0M798.2,611.9a3.2,3.2 0 1,0 6.4,0a3.2,3.2 0 1,0 -6.4,0M801.7,611.2a3.2,3.2 0 1,0 6.4,0a3.2,3.2 0 1,0 -6.4,0M805.2,611a3.2,3.2 0 1,0 6.4,0a3.2,3.2 0 1,0 -6.4,0M808.7,613.8a3.2,3.2 0 1,0 6.4,0a3.2,3.2 0 1,0 -6.4,0M812.2,612a3.2,3.2 0 1,0 6.4,0a3.2,3.2 0 1,0 -6.4,0M815.7,613.6a3.2,3.2 0 1,0 6.4,0a3.2,3.2 0 1,0 -6.4,0M819.2,614.2a3.2,3.2 0 1,0 6.4,0a3.2,3.2 0 1,0 -6.4,0M822.7,612a3.2,3.2 0 1,0 6.4,0a3.2,3.2 0 1,0 -6.4,0M826.2,613a3.2,3.2 0 1,0 6.4,0a3.2,3.2 0 1,0 -6.4,0M829.7,612.5a3.2,3.2 0 1,0 6.4,0a3.2,3.2 0 1,0 -6.4,0M833.2,613.2a3.2,3.2 0 1,0 6.4,0a3.2,3.2 0 1,0 -6.4,0M836.7,613.1a3.2,3.2 0 1,0 6.4,0a3.2,3.2 0 1,0 -6.4,0M840.2,614.4a3.2,3.2 0 1,0 6.4,0a3.2,3.2 0 1,0 -6.4,0M843.7,613.4a3.2,3.2 0 1,0 6.4,0a3.2,3.2 0 1,0 -6.4,0M847.2,612.9a3.2,3.2 0 1,0 6.4,0a3.2,3.2 0 1,0 -6.4,0M850.7,613.8a3.2,3.2 0 1,0 6.4,0a3.2,3.2 0 1,0 -6.4,0M854.2,612.7a3.2,3.2 0 1,0 6.4,0a3.2,3.2 0 1,0 -6.4,0M857.7,612.6a3.2,3.2 0 1,0 6.4,0a3.2,3.2 0 1,0 -6.4,0M861.2,614.7a3.2,3.2 0 1,0 6.4,0a3.2,3.2 0 1,0 -6.4,0M864.7,612.3a3.2,3.2 0 1,0 6.4,0a3.2,3.2 0 1,0 -6.4,0M868.2,612.6a3.2,3.2 0 1,0 6.4,0a3.2,3.2 0 1,0 -6.4,0M871.7,613a3.2,3.2 0 1,0 6.4,0a3.2,3.2 0 1,0 -6.4,0" fill="#fff" stroke="#2b2b2b" stroke-width="1.0"/>
<path d="M524.9,597.5l1,.1 1,.1 1,.1 1,.1 1,.1 1,0 1,.1 1,0 1,0 1,0 1,.1 1,0 1,0 1,0 1,0 1,0 1,0 1-.1 1,0 1-.1 1,0 1-.1 1-.1 1-.1 1-.1 1-.1 1-.2 1-.1 1-.2 1-.1 1-.2 1-.2 1-.2 1-.1 1-.2 1-.2 1-.2 1-.2 1-.2 1-.3 1-.3 1-.4 1-.4 1-.4 1-.5 1-.5 1-.5 1-.6 1-.6 1-.6 1-.6 1-.6 1-.7 1-.6 1-.6 1-.6 1-.7 1-.7 1-.6 1-.8 1-.7 1-.8 1-.8 1-.9 1-.9 1-.9 1-1.1 1-1 1-1.3 1-1.3 1-1.5 1-1.7 1-1.7 1-1.7 1-1.8 1-1.9 1-1.8 1-1.8 1-1.7 1-1.8 1-1.9 1-1.8 1-1.9 1-2 1-1.9 1-1.9 1-1.9 1-1.9 1-1.9 1-1.9 1-2 1-2 1-2 1-1.9 1-1.7 1-1.6 1-1.3 1-1.2 1-1.1 1-1.1 1-1 1-.9 1-.9 1-.9 1-.8 1-.7 1-.7 1-.7 1-.7 1-.6 1-.7 1-.6 1-.6 1-.5 1-.6 1-.5 1-.4 1-.5 1-.4 1-.4 1-.3 1-.3 1-.2 1-.3 1-.2 1-.4 1-.4 1-.6 1-.8 1-1 1-1.1 1-1.2 1-1.3 1-1.3 1-1.4 1-1.3 1-1.4 1-1.2 1-1.2 1-1.1 1-1 1-.9 1-.9 1-1 1-.9 1-.8 1-.9 1-.8 1-.8 1-.7 1-.6 1-.6 1-.4 1-.5 1-.4 1-.3 1,0 1,.1 1,.2 1,.3 1,.4 1,.4 1,.5 1,.5 1,.5 1,.5 1,.5 1,.5 1,.4 1,.6 1,.6 1,.7 1,.7 1,.7 1,.8 1,.6 1,.7 1,.5 1,.4 1,.3 1,.2 1-.1 1-.6 1-1.1 1-1.3 1-1.7 1-1.8 1-2 1-2 1-1.9 1-1.9 1-1.7 1-1.8 1-2.1 1-2 1-2.1 1-2 1-1.7 1-1.5 1-1.1 1-.9 1-1 1-.8 1-.9 1-.7 1-.5 1-.5 1-.2 1-.1 1,.2 1,.5 1,.8 1,1 1,1.2 1,1.2 1,1.4 1,1.5 1,1.4 1,1.8 1,2 1,2.4 1,2.7 1,2.9 1,3 1,3.3 1,3.8 1,4.3 1,4.6 1,4.7 1,4.6 1,4.5 1,4.5 1,4.6 1,4.5 1,4.6 1,4.6 1,4.6 1,4.7 1,4.7 1,4.6 1,4.4 1,4.1 1,4.1 1,4 1,4 1,3.8 1,3.5 1,3.1 1,2.6 1,2.3 1,2.1 1,1.9 1,1.9 1,1.7 1,1.7 1,1.5 1,1.4 1,1.2 1,1.2 1,1 1,1 1,.8 1,.9 1,.8 1,.8 1,.7 1,.7 1,.7 1,.6 1,.5 1,.5 1,.4 1,.3 1,.2 1,.2 1,.2 1,.2 1,.2 1,.2 1,.1 1,.2 1,.1 1,.2 1,.1 1,.1 1,.1 1,.1 1,.1 1,.1 1,.1 1,.1 1,0 1,.1 1,0 1,0 1,0 1,0 1,0 1,0 1,.1 1,0 1,0 1,0 1,0 1,0 1,0 1,0 1,0 1,0 1,0 1,.1 1,0 1,0 1,0 1,0 1,0 1,0 1,0 1,0 1,0 1,0 1,0 1,0 1,0 1,0 1,0 1,.1 1,0 1,0 1,0 1,0 1,0 1,0 1,0 1,0 1,0 1,0 1,0 1,0 1,0 1,0 1,0 1,0 1,0 1,0 1,0 1,0 1,0 1,0 1,0" fill="none" stroke="#2e62a0" stroke-width="1.9" stroke-linejoin="round"/>
<rect x="523.9" y="384.8" width="351.9" height="283.7" fill="none" stroke="#111" stroke-width="1.7"/>
<path d="M523.9,668.5v-5M594.3,668.5v-5M664.7,668.5v-5M735.0,668.5v-5M805.4,668.5v-5M875.8,668.5v-5M559.1,668.5v-3M629.5,668.5v-3M699.8,668.5v-3M770.2,668.5v-3M840.6,668.5v-3" stroke="#111" stroke-width="1.5"/>
<text x="523.9" y="687.0" font-size="15.5" text-anchor="middle" fill="#111">536</text>
<text x="594.3" y="687.0" font-size="15.5" text-anchor="middle" fill="#111">534</text>
<text x="664.7" y="687.0" font-size="15.5" text-anchor="middle" fill="#111">532</text>
<text x="735.0" y="687.0" font-size="15.5" text-anchor="middle" fill="#111">530</text>
<text x="805.4" y="687.0" font-size="15.5" text-anchor="middle" fill="#111">528</text>
<text x="875.8" y="687.0" font-size="15.5" text-anchor="middle" fill="#111">526</text>
<text x="631.7" y="714.0" font-size="16" textLength="136.8" lengthAdjust="spacingAndGlyphs" fill="#111">Binding energy (eV)</text>
<text x="510.8" y="576.1" font-size="15.5" textLength="100.2" lengthAdjust="spacingAndGlyphs" fill="#111" transform="rotate(-90 511.3 576.1)">Intensity (a.u.)</text>
<text x="472.8" y="412.6" font-size="39.5" textLength="49.0" lengthAdjust="spacingAndGlyphs" fill="#111">(d)</text>
<text x="822.4" y="404.2" font-size="15.5" textLength="30.4" lengthAdjust="spacingAndGlyphs" fill="#111">O 1s</text>
<text x="649.9" y="443.9" font-size="12" textLength="34.9" lengthAdjust="spacingAndGlyphs" fill="#111">O-C-O</text>
<text x="650.0" y="462.0" font-size="12" textLength="42.1" lengthAdjust="spacingAndGlyphs" fill="#111">531.5 eV</text>
<text x="567.7" y="514.0" font-size="12" fill="#111">C=O</text>
<text x="568.3" y="532.3" font-size="12" textLength="41.0" lengthAdjust="spacingAndGlyphs" fill="#111">532.7eV</text>
<text x="787.7" y="501.2" font-size="12" textLength="56.7" lengthAdjust="spacingAndGlyphs" fill="#111">Zn-O/Fe-O</text>
<text x="787.8" y="519.9" font-size="12" textLength="43.3" lengthAdjust="spacingAndGlyphs" fill="#111">529.2 eV</text>
<line x1="599.8" y1="529.7" x2="616.9" y2="542.3" stroke="#9fd35a" stroke-width="1.6"/>
<path d="M622.5,546.5L615.0,544.9L618.6,543.6L618.8,539.8Z" fill="#9fd35a"/>
<line x1="678.7" y1="473.5" x2="680.3" y2="500.0" stroke="#f2a9b8" stroke-width="1.6"/>
<path d="M680.7,507.0L677.1,500.2L680.4,502.1L683.5,499.8Z" fill="#f2a9b8"/>
<line x1="780.5" y1="512.6" x2="740.4" y2="525.1" stroke="#b3dcf7" stroke-width="1.6"/>
<path d="M733.7,527.2L739.4,522.1L738.4,525.7L741.3,528.2Z" fill="#b3dcf7"/>
<path d="M548.2,624.1a3.0,3.0 0 1,0 6,0a3.0,3.0 0 1,0 -6,0" fill="#fff" stroke="#2b2b2b" stroke-width="1.0"/>
<text x="572.1" y="628.7" font-size="12.8" fill="#111">Raw</text>
<line x1="534.2" y1="642.3" x2="568.4" y2="642.3" stroke="#2e62a0" stroke-width="1.9"/>
<text x="572.6" y="646.7" font-size="12.8" textLength="36.4" lengthAdjust="spacingAndGlyphs" fill="#111">Fitting</text>
<path d="M268.6,965.1l1,.4 1,.3 1,.3 1,.3 1,.3 1,.3 1,.3 1,.3 1,.3 1,.3 1,.3 1,.3 1,.2 1,.3 1,.3 1,.3 1,.3 1,.3 1,.3 1,.3 1,.2 1,.3 1,.3 1,.3 1,.3 1,.3 1,.3 1,.3 1,.3 1,.3 1,.3 1,.3 1,.3 1,.4 1,.3 1,.3 1,.3 1,.3 1,.3 1,.3 1,.3 1,.3 1,.3 1,.3 1,.3 1,.4 1,.3 1,.3 1,.3 1,.3 1,.2 1,.3 1,.2 1,.1 1,.1 1,0 1-.2 1-.3 1-.5 1-.6 1-1 1-1.2 1-1.7 1-2 1-2.5 1-3 1-3.6 1-4.1 1-4.8 1-5.5 1-6.1 1-6.7 1-7.2 1-7.7 1-8.1 1-8.2 1-8.4 1-8.4 1-8.1 1-7.7 1-7.1 1-6.2 1-5.3 1-4.2 1-2.8 1-1.3 1,.2 1,1.5 1,2.1 1,3 1,3.6 1,4.4 1,4.9 1,5.5 1,5.9 1,6.5 1,6.9 1,7.1 1,7.3 1,7.5 1,7.4 1,7.4 1,7.2 1,7 1,6.7 1,6.6 1,6.2 1,6 1,5.7 1,5.3 1,5 1,4.6 1,4.2 1,3.9 1,3.5 1,3.2 1,2.8 1,2.6 1,2.2 1,2.1 1,1.8 1,1.5 1,1.4 1,1.2 1,1.1 1,.9 1,.8 1,.6 1,.6 1,.5 1,.4 1,.4 1,.3 1,.2 1,.2 1,.2 1,.2 1,.1 1,.1 1,.1 1,.1 1,.1 1,0 1,.1 1,0 1,0 0,.7-3,0-3-.1-3,0-3-.1-3-.1-3-.1-3-.1-3-.2-3-.1-3-.2-3-.4-3-.7-3-.9-3-1-3-1.8-3-2.6-3-2.9-3-2.7-3-3-3-3.1-3-3-3-3.3-3-3.3-3-2.9-3-2.3-3-1.9-3-1.6-3-1.5-3-1.4-3-1.3-3-1.2-3-1.3-3-1.1-3-1.1-3-1-3-1-3-.9-3-1-3-1-3-.9-3-.9-3-.9-3-.9-3-.9-3-.8-3-.9-3-.9-3-1Z" fill="#84d0ee" fill-opacity="0.6"/>
<path d="M225.1,948.5l1,.5 1,.5 1,.6 1,.5 1,.5 1,.5 1,.5 1,.5 1,.4 1,.5 1,.4 1,.5 1,.4 1,.4 1,.4 1,.4 1,.4 1,.4 1,.4 1,.3 1,.4 1,.3 1,.4 1,.3 1,.3 1,.4 1,.3 1,.3 1,.3 1,.3 1,.3 1,.4 1,.3 1,.3 1,.3 1,.3 1,.3 1,.2 1,.3 1,.3 1,.3 1,.3 1,.3 1,.3 1,.3 1,.3 1,.3 1,.3 1,.3 1,.3 1,.3 1,.3 1,.2 1,.3 1,.3 1,.2 1,.3 1,.2 1,.3 1,.2 1,.2 1,.3 1,.2 1,.1 1,.2 1,.1 1,.1 1,.1 1,.1 1-.1 1,0 1-.2 1-.2 1-.3 1-.3 1-.5 1-.6 1-.8 1-.8 1-1.1 1-1.2 1-1.3 1-1.5 1-1.7 1-1.9 1-2 1-2.2 1-2.4 1-2.5 1-2.6 1-2.7 1-2.8 1-2.9 1-2.8 1-2.9 1-2.7 1-2.7 1-2.6 1-2.3 1-2.1 1-1.9 1-1.5 1-1.1 1-.8 1-.3 1,0 1,.6 1,1.1 1,1.7 1,2.3 1,2.7 1,3.2 1,3.5 1,3.9 1,4.1 1,4.3 1,4.5 1,4.6 1,4.7 1,4.6 1,4.6 1,4.5 1,4.3 1,4 1,3.9 1,3.6 1,3.3 1,3.1 1,2.8 1,2.7 1,2.4 1,2.3 1,2 1,1.9 1,1.8 1,1.6 1,1.4 1,1.4 1,1.3 1,1.3 1,1.2 1,1.1 1,1.1 1,1 1,.8 1,.8 1,.6 1,.5 1,.4 1,.4 1,.4 1,.3 1,.3 1,.3 1,.3 1,.2 1,.2 1,.2 1,.1 1,.1 1,.1 1,0 1,.1 1,.1 1,0 1,.1 1,.1 1,0 1,.1 1,0 1,.1 1,0 1,.1 1,0 1,.1 1,0 1,0 1,.1 1,0 1,0 1,.1 1,0 1,0 1,0 1,.1 1,0 1,0 1,0 1,0 1,0 0,.2-3,0-3,0-3-.1-3-.1-3-.1-3-.1-3-.1-3-.1-3-.2-3-.2-3-.3-3-.6-3-.9-3-1-3-1.7-3-2.5-3-2.8-3-2.8-3-2.9-3-3.1-3-3-3-3.2-3-3.4-3-3-3-2.3-3-2-3-1.7-3-1.5-3-1.4-3-1.3-3-1.2-3-1.3-3-1.1-3-1.1-3-1-3-1-3-1-3-.9-3-1-3-.9-3-1-3-.8-3-.9-3-.9-3-.9-3-.9-3-.9-3-.9-3-1-3-.9-3-.9-3-.9-3-1-3-.9-3-1-3-1-3-1.1-3-1.2-3-1.2-3-1.3-3-1.5-3-1.5-3-1.5Z" fill="#e696b9" fill-opacity="0.6"/>
<path d="M138.1,920.4l1,.2 1,.1 1,.1 1,.1 1,.1 1,.2 1,.1 1,.1 1,.2 1,.1 1,.2 1,.1 1,.2 1,.1 1,.2 1,.2 1,.1 1,.2 1,.2 1,.2 1,.2 1,.2 1,.2 1,.2 1,.2 1,.2 1,.2 1,.2 1,.2 1,.3 1,.2 1,.2 1,.2 1,.3 1,.2 1,.2 1,.3 1,.2 1,.3 1,.2 1,.3 1,.2 1,.3 1,.3 1,.2 1,.3 1,.3 1,.3 1,.3 1,.3 1,.3 1,.3 1,.3 1,.3 1,.3 1,.4 1,.3 1,.3 1,.4 1,.3 1,.4 1,.3 1,.4 1,.3 1,.4 1,.4 1,.3 1,.4 1,.4 1,.4 1,.5 1,.4 1,.5 1,.5 1,.4 1,.5 1,.5 1,.4 1,.4 1,.4 1,.4 1,.3 1,.2 1,.2 1,.2 1,.2 1,.1 1,0 1,.1 1-.1 1,0 1-.1 1-.1 1-.2 1-.3 1-.3 1-.3 1-.4 1-.4 1-.5 1-.6 1-.6 1-.6 1-.7 1-.7 1-.8 1-.7 1-.8 1-.9 1-.8 1-.9 1-.9 1-.8 1-.9 1-.9 1-.8 1-.8 1-.8 1-.8 1-.7 1-.7 1-.6 1-.5 1-.5 1-.4 1-.3 1-.2 1-.1 1-.1 1,.1 1,.1 1,.3 1,.3 1,.4 1,.4 1,.5 1,.5 1,.6 1,.6 1,.7 1,.7 1,.7 1,.8 1,.8 1,.9 1,.9 1,.9 1,1 1,1 1,1 1,1 1,1.1 1,1.1 1,1.1 1,1.1 1,1.2 1,1.1 1,1.2 1,1.1 1,1.2 1,1.2 1,1.2 1,1.2 1,1.2 1,1.1 1,1.2 1,1.2 1,1.1 1,1.2 1,1.1 1,1.1 1,1.1 1,1.1 1,1.1 1,1.1 1,1 1,1.1 1,1 1,1 1,1 1,1 1,1 1,1 1,.9 1,1 1,.9 1,.9 1,.9 1,.9 1,.8 1,.9 1,.8 1,.9 1,.8 1,.9 1,.8 1,.8 1,.9 1,.8 1,.9 1,.9 1,.8 1,.9 1,1 1,1.1 1,1.1 1,1.2 1,1.2 1,1.2 1,1.3 1,1.2 1,1.2 1,1.2 1,1.2 1,1.1 1,1 1,1.1 1,1.1 1,1.1 1,1.1 1,1.1 1,1 1,1 1,1 1,.9 1,1 1,1 1,1 1,.9 1,1 1,.8 1,.8 1,.7 1,.6 1,.4 1,.4 1,.4 1,.3 1,.3 1,.3 1,.3 1,.3 1,.2 1,.2 1,.1 1,.1 1,.1 1,.1 1,.1 1,0 1,.1 1,.1 1,0 1,.1 1,0 1,.1 1,0 1,.1 1,0 1,.1 1,0 1,0 1,.1 1,0 1,0 1,.1 1,0 1,0 1,.1 1,0 1,0 1,0 1,0 1,0 1,0 1,.1 1,0 0,.2-3,0-3,0-3-.1-3-.1-3-.1-3-.1-3-.1-3-.1-3-.2-3-.2-3-.3-3-.6-3-.9-3-1-3-1.7-3-2.5-3-2.8-3-2.8-3-2.9-3-3.1-3-3-3-3.2-3-3.4-3-3-3-2.3-3-2-3-1.7-3-1.5-3-1.4-3-1.3-3-1.2-3-1.3-3-1.1-3-1.1-3-1-3-1-3-1-3-.9-3-1-3-.9-3-1-3-.8-3-.9-3-.9-3-.9-3-.9-3-.9-3-.9-3-1-3-.9-3-.9-3-.9-3-1-3-.9-3-1-3-1-3-1.1-3-1.2-3-1.2-3-1.3-3-1.5-3-1.5-3-1.5-3-1.6-3-1.7-3-1.8-3-1.9-3-1.9-3-1.6-3-1.5-3-1.2-3-1.2-3-1.1-3-1.1-3-1-3-.9-3-.9-3-.9-3-.8-3-.8-3-.7-3-.7-3-.6-3-.7-3-.6-3-.6-3-.5-3-.6-3-.4-3-.5-3-.3-3-.4Z" fill="#a8cd8e" fill-opacity="0.6"/>
<path d="M136.1,920.2l1,.1 1,.1 1,.1 1,.2 1,.1 1,.1 1,.1 1,.1 1,.2 1,.1 1,.1 1,.2 1,.1 1,.2 1,.1 1,.2 1,.1 1,.2 1,.2 1,.2 1,.1 1,.2 1,.2 1,.2 1,.2 1,.2 1,.2 1,.2 1,.2 1,.2 1,.2 1,.2 1,.2 1,.2 1,.2 1,.2 1,.2 1,.3 1,.2 1,.2 1,.2 1,.2 1,.2 1,.2 1,.2 1,.2 1,.1 1,.1 1,.1 1,0 1,0 1-.2 1-.2 1-.4 1-.6 1-.7 1-1 1-1.3 1-1.5 1-1.9 1-2.2 1-2.6 1-3 1-3.3 1-3.6 1-3.9 1-4.2 1-4.3 1-4.4 1-4.4 1-4.2 1-3.9 1-3.5 1-2.9 1-2.2 1-1.5 1-.7 1,.3 1,.8 1,1 1,1.2 1,1.4 1,1.6 1,1.8 1,2 1,2.1 1,2.2 1,2.4 1,2.6 1,2.6 1,2.7 1,2.8 1,2.8 1,2.9 1,2.9 1,2.9 1,2.9 1,2.9 1,2.9 1,2.8 1,2.7 1,2.7 1,2.6 1,2.5 1,2.4 1,2.4 1,2.2 1,2.1 1,2.1 1,1.9 1,1.9 1,1.7 1,1.7 1,1.6 1,1.4 1,1.4 1,1.3 1,1.2 1,1.1 1,1.1 1,1 1,.9 1,.9 1,.8 1,.8 1,.7 1,.7 1,.6 1,.6 1,.6 1,.5 1,.5 1,.5 1,.5 1,.5 1,.4 1,.4 1,.4 1,.4 1,.4 1,.4 1,.3 1,.4 1,.3 1,.4 1,.3 1,.3 1,.3 1,.4 1,.3 1,.3 1,.3 1,.3 1,.3 1,.4 1,.3 1,.3 1,.3 1,.3 1,.4 1,.3 1,.3 1,.3 1,.4 1,.3 1,.3 1,.4 1,.3 1,.3 1,.4 1,.3 1,.3 1,.4 1,.3 1,.3 1,.4 1,.4 1,.3 1,.4 1,.3 1,.4 1,.4 1,.4 1,.4 1,.4 1,.5 1,.4 1,.4 1,.4 1,.5 1,.4 1,.4 1,.5 1,.5 1,.5 1,.5 1,.5 1,.5 1,.5 1,.6 1,.6 1,.6 1,.7 1,.6 1,.7 1,.8 1,.9 1,1 1,1 1,1 1,1.1 1,1.1 1,1.2 1,1.1 1,1.1 1,1 1,1 1,1 1,1.1 1,1 1,1 1,1 1,1 1,1 1,1 1,.9 1,.9 1,.9 1,1 1,.9 1,1 1,.9 1,.8 0,.2-3-2.7-3-2.8-3-2.8-3-3-3-3.1-3-3.1-3-3.3-3-3.2-3-2.9-3-2.1-3-1.8-3-1.7-3-1.5-3-1.3-3-1.3-3-1.3-3-1.2-3-1.1-3-1-3-1.1-3-.9-3-1-3-1-3-.9-3-.9-3-1-3-.8-3-.9-3-.9-3-.9-3-.9-3-.9-3-.9-3-1-3-.9-3-.9-3-.9-3-1-3-.9-3-1-3-1.1-3-1.1-3-1.2-3-1.2-3-1.4-3-1.5-3-1.5-3-1.6-3-1.5-3-1.8-3-1.8-3-1.9-3-1.8-3-1.7-3-1.3-3-1.2-3-1.2-3-1.1-3-1-3-1-3-1-3-.8-3-.9-3-.8-3-.7-3-.7-3-.7-3-.7-3-.6-3-.6-3-.6-3-.5-3-.5-3-.5-3-.4-3-.4-3-.3Z" fill="#e9b682" fill-opacity="0.6"/>
<path d="M109.6,917.9l1,.1 1,.1 1,0 1,.1 1,.1 1,.1 1,0 1,.1 1,.1 1,.1 1,0 1,.1 1,.1 1,.1 1,0 1,.1 1,.1 1,.1 1,.1 1,.1 1,0 1,.1 1,.1 1,.1 1,.1 1,.1 1,.1 1,.1 1,.1 1,.1 1,.1 1,.1 1,.1 1,.1 1,.1 1,.1 1,.1 1,.1 1,.1 1,0 1,.1 1,.1 1,.1 1,0 1,0 1,0 1,0 1-.1 1-.1 1-.1 1-.2 1-.2 1-.3 1-.4 1-.4 1-.5 1-.5 1-.7 1-.7 1-.7 1-.9 1-.8 1-1 1-1 1-1.1 1-1 1-1.1 1-1.1 1-1.1 1-1 1-1 1-.9 1-.8 1-.7 1-.5 1-.4 1-.3 1,0 1,.1 1,.4 1,.5 1,.7 1,.9 1,1.1 1,1.2 1,1.4 1,1.5 1,1.5 1,1.7 1,1.7 1,1.7 1,1.7 1,1.8 1,1.7 1,1.7 1,1.7 1,1.6 1,1.6 1,1.6 1,1.5 1,1.5 1,1.4 1,1.4 1,1.3 1,1.2 1,1.2 1,1.1 1,1.1 1,1 1,.9 1,.9 1,.8 1,.7 1,.7 1,.7 1,.7 1,.6 1,.6 1,.6 1,.6 1,.6 1,.5 1,.6 1,.5 1,.5 1,.5 1,.4 1,.5 1,.4 1,.5 1,.4 1,.4 1,.4 1,.4 1,.4 1,.3 1,.4 1,.4 1,.3 1,.4 1,.3 1,.4 1,.3 1,.3 1,.3 1,.4 1,.3 1,.3 1,.3 1,.3 1,.4 1,.3 1,.3 1,.3 1,.3 1,.3 1,.3 1,.3 1,.3 0,.2-3-.9-3-1-3-.9-3-.9-3-1-3-.9-3-1.1-3-1-3-1.2-3-1.2-3-1.3-3-1.4-3-1.5-3-1.6-3-1.5-3-1.7-3-1.8-3-1.9-3-1.9-3-1.7-3-1.4-3-1.3-3-1.2-3-1.1-3-1.1-3-1-3-1-3-.9-3-.9-3-.8-3-.7-3-.8-3-.7-3-.6-3-.7-3-.6-3-.6-3-.6-3-.5-3-.4-3-.5-3-.4-3-.3-3-.4-3-.3-3-.3-3-.3-3-.2-3-.3-3-.2-3-.3-3-.2-3-.2Z" fill="#b2b6d9" fill-opacity="0.6"/>
<path d="M65.1,913.4l1,0 1,0 1,0 1,0 1,0 1-.1 1,0 1,0 1-.1 1-.1 1,0 1-.1 1-.1 1-.1 1-.1 1-.1 1-.2 1-.1 1-.2 1-.1 1-.2 1-.2 1-.2 1-.2 1-.2 1-.3 1-.2 1-.3 1-.3 1-.3 1-.3 1-.3 1-.3 1-.3 1-.4 1-.3 1-.4 1-.3 1-.4 1-.4 1-.4 1-.3 1-.4 1-.4 1-.4 1-.4 1-.4 1-.4 1-.3 1-.4 1-.4 1-.3 1-.3 1-.4 1-.3 1-.2 1-.3 1-.2 1-.3 1-.2 1-.1 1-.2 1-.1 1,0 1-.1 1,0 1,0 1,.1 1,.1 1,.1 1,.2 1,.2 1,.2 1,.3 1,.3 1,.3 1,.4 1,.4 1,.5 1,.5 1,.5 1,.5 1,.6 1,.6 1,.6 1,.6 1,.6 1,.7 1,.6 1,.7 1,.7 1,.7 1,.7 1,.7 1,.7 1,.7 1,.7 1,.7 1,.6 1,.7 1,.7 1,.7 1,.6 1,.7 1,.6 1,.7 1,.6 1,.6 1,.6 1,.6 1,.5 1,.6 1,.6 1,.5 1,.5 1,.6 1,.5 1,.5 1,.5 1,.5 1,.5 1,.5 1,.5 1,.4 1,.5 1,.5 1,.4 1,.5 1,.5 1,.4 1,.5 1,.4 1,.5 1,.4 1,.5 1,.5 1,.4 1,.5 1,.4 1,.5 1,.5 1,.5 1,.5 1,.6 1,.6 1,.6 1,.7 1,.6 1,.7 1,.6 1,.7 1,.6 1,.6 1,.7 1,.6 1,.6 1,.5 1,.6 1,.5 1,.5 1,.6 1,.5 1,.5 1,.6 1,.5 1,.5 1,.5 1,.5 1,.5 1,.4 1,.5 1,.4 1,.5 1,.4 1,.4 1,.4 1,.4 1,.4 1,.4 1,.3 1,.4 1,.4 1,.3 1,.4 1,.3 1,.3 1,.4 1,.3 1,.3 1,.4 1,.3 1,.3 1,.3 1,.3 1,.3 1,.3 1,.3 1,.3 1,.4 0,.1-3-.9-3-.9-3-1-3-.9-3-1-3-1.1-3-1.1-3-1.2-3-1.2-3-1.4-3-1.5-3-1.5-3-1.6-3-1.5-3-1.8-3-1.8-3-1.9-3-1.8-3-1.7-3-1.3-3-1.2-3-1.2-3-1.1-3-1-3-1-3-1-3-.8-3-.9-3-.8-3-.7-3-.7-3-.7-3-.7-3-.6-3-.6-3-.6-3-.5-3-.5-3-.5-3-.4-3-.4-3-.3-3-.3-3-.3-3-.3-3-.3-3-.3-3-.2-3-.3-3-.2-3-.2-3-.3-3-.2-3-.3-3-.2-3-.3-3-.2-3-.2-3-.3-3-.2-3-.3-3-.2-3-.2-3-.2-3-.3-3-.2Z" fill="#f2e69d" fill-opacity="0.6"/>
<path d="M65.1,914.5l1,.1 1,.1 1,.1 1,0 1,.1 1,.1 1,.1 1,0 1,.1 1,.1 1,.1 1,0 1,.1 1,.1 1,.1 1,0 1,.1 1,.1 1,.1 1,.1 1,0 1,.1 1,.1 1,.1 1,.1 1,0 1,.1 1,.1 1,.1 1,.1 1,0 1,.1 1,.1 1,.1 1,.1 1,.1 1,0 1,.1 1,.1 1,.1 1,.1 1,.1 1,0 1,.1 1,.1 1,.1 1,0 1,.1 1,.1 1,.1 1,.1 1,0 1,.1 1,.1 1,.1 1,.1 1,.1 1,0 1,.1 1,.1 1,.1 1,.1 1,.1 1,.1 1,.1 1,.1 1,.1 1,.1 1,.1 1,.1 1,.1 1,.1 1,.1 1,.1 1,.1 1,.1 1,.2 1,.1 1,.1 1,.1 1,.2 1,.1 1,.2 1,.1 1,.2 1,.1 1,.2 1,.2 1,.2 1,.1 1,.2 1,.2 1,.2 1,.2 1,.2 1,.2 1,.2 1,.2 1,.2 1,.2 1,.3 1,.2 1,.2 1,.2 1,.3 1,.2 1,.2 1,.3 1,.2 1,.2 1,.3 1,.2 1,.3 1,.3 1,.2 1,.3 1,.3 1,.3 1,.3 1,.2 1,.3 1,.4 1,.3 1,.3 1,.3 1,.3 1,.4 1,.3 1,.4 1,.3 1,.4 1,.3 1,.4 1,.4 1,.4 1,.4 1,.4 1,.4 1,.4 1,.4 1,.5 1,.4 1,.6 1,.5 1,.6 1,.5 1,.7 1,.6 1,.6 1,.6 1,.7 1,.6 1,.6 1,.6 1,.6 1,.6 1,.6 1,.5 1,.5 1,.5 1,.6 1,.5 1,.5 1,.5 1,.5 1,.5 1,.5 1,.5 1,.5 1,.5 1,.4 1,.5 1,.4 1,.4 1,.4 1,.4 1,.4 1,.4 1,.4 1,.3 1,.4 1,.4 1,.3 1,.4 1,.3 1,.3 1,.4 1,.3 1,.3 1,.3 1,.3 1,.4 1,.3 1,.3 1,.3 1,.3 1,.3 1,.3 1,.3 1,.3 1,.3 1,.3 1,.3 1,.4 1,.3 1,.3 1,.3 1,.3 1,.3 1,.3 1,.3 1,.3 1,.3 1,.3 1,.3 1,.3 1,.3 1,.3 1,.3 1,.3 1,.3 1,.3 1,.3 1,.3 1,.2 1,.3 1,.3 1,.3 1,.4 1,.3 1,.3 1,.3 1,.3 1,.3 1,.3 1,.4 1,.3 1,.3 1,.3 1,.3 1,.4 1,.3 1,.3 1,.3 1,.4 1,.3 1,.4 1,.3 1,.4 1,.3 1,.4 1,.4 1,.3 1,.4 1,.4 1,.4 1,.5 1,.4 1,.4 1,.4 1,.4 1,.5 1,.4 1,.5 1,.4 1,.5 1,.5 1,.5 1,.5 1,.6 1,.6 1,.5 1,.7 1,.6 1,.7 1,.7 1,.7 1,.9 1,1 1,1 1,1 1,1.1 1,1.1 1,1.2 1,1.1 1,1 1,1.1 1,1 1,1 1,1 1,1.1 1,1 1,1 1,1 1,1 1,.9 1,1 1,.9 1,.9 1,.9 1,1 1,.9 1,.9 1,.9 1,.7 1,.7 1,.5 1,.5 1,.3 1,.4 1,.3 1,.3 1,.3 1,.3 1,.2 1,.2 1,.2 1,.1 1,.1 1,.1 1,.1 1,0 1,.1 1,.1 1,0 1,.1 1,0 1,.1 1,0 1,.1 1,0 1,0 1,.1 1,0 1,0 1,.1 1,0 1,0 1,.1 1,0 1,0 1,0 1,0 1,.1 1,0 1,0 1,0 1,0 1,0 1,0" fill="none" stroke="#111" stroke-width="1.6"/>
<path d="M61.9,906.7a3.2,3.2 0 1,0 6.4,0a3.2,3.2 0 1,0 -6.4,0M63.4,904a3.2,3.2 0 1,0 6.4,0a3.2,3.2 0 1,0 -6.4,0M64.9,916.5a3.2,3.2 0 1,0 6.4,0a3.2,3.2 0 1,0 -6.4,0M66.4,910.9a3.2,3.2 0 1,0 6.4,0a3.2,3.2 0 1,0 -6.4,0M67.9,912.5a3.2,3.2 0 1,0 6.4,0a3.2,3.2 0 1,0 -6.4,0M69.4,913.5a3.2,3.2 0 1,0 6.4,0a3.2,3.2 0 1,0 -6.4,0M70.9,911.4a3.2,3.2 0 1,0 6.4,0a3.2,3.2 0 1,0 -6.4,0M72.4,911.2a3.2,3.2 0 1,0 6.4,0a3.2,3.2 0 1,0 -6.4,0M73.9,915.8a3.2,3.2 0 1,0 6.4,0a3.2,3.2 0 1,0 -6.4,0M75.4,924a3.2,3.2 0 1,0 6.4,0a3.2,3.2 0 1,0 -6.4,0M76.9,918.1a3.2,3.2 0 1,0 6.4,0a3.2,3.2 0 1,0 -6.4,0M78.4,918.2a3.2,3.2 0 1,0 6.4,0a3.2,3.2 0 1,0 -6.4,0M79.9,910.2a3.2,3.2 0 1,0 6.4,0a3.2,3.2 0 1,0 -6.4,0M81.4,915.6a3.2,3.2 0 1,0 6.4,0a3.2,3.2 0 1,0 -6.4,0M82.9,911.5a3.2,3.2 0 1,0 6.4,0a3.2,3.2 0 1,0 -6.4,0M84.4,918.5a3.2,3.2 0 1,0 6.4,0a3.2,3.2 0 1,0 -6.4,0M85.9,915a3.2,3.2 0 1,0 6.4,0a3.2,3.2 0 1,0 -6.4,0M87.4,915.9a3.2,3.2 0 1,0 6.4,0a3.2,3.2 0 1,0 -6.4,0M88.9,915.5a3.2,3.2 0 1,0 6.4,0a3.2,3.2 0 1,0 -6.4,0M90.4,913.6a3.2,3.2 0 1,0 6.4,0a3.2,3.2 0 1,0 -6.4,0M91.9,910a3.2,3.2 0 1,0 6.4,0a3.2,3.2 0 1,0 -6.4,0M93.4,917.3a3.2,3.2 0 1,0 6.4,0a3.2,3.2 0 1,0 -6.4,0M94.9,910a3.2,3.2 0 1,0 6.4,0a3.2,3.2 0 1,0 -6.4,0M96.4,910.3a3.2,3.2 0 1,0 6.4,0a3.2,3.2 0 1,0 -6.4,0M97.9,913.1a3.2,3.2 0 1,0 6.4,0a3.2,3.2 0 1,0 -6.4,0M99.4,911.2a3.2,3.2 0 1,0 6.4,0a3.2,3.2 0 1,0 -6.4,0M100.9,914.2a3.2,3.2 0 1,0 6.4,0a3.2,3.2 0 1,0 -6.4,0M102.4,916.4a3.2,3.2 0 1,0 6.4,0a3.2,3.2 0 1,0 -6.4,0M103.9,913.1a3.2,3.2 0 1,0 6.4,0a3.2,3.2 0 1,0 -6.4,0M105.4,912.4a3.2,3.2 0 1,0 6.4,0a3.2,3.2 0 1,0 -6.4,0M106.9,911.3a3.2,3.2 0 1,0 6.4,0a3.2,3.2 0 1,0 -6.4,0M108.4,913.8a3.2,3.2 0 1,0 6.4,0a3.2,3.2 0 1,0 -6.4,0M109.9,903.6a3.2,3.2 0 1,0 6.4,0a3.2,3.2 0 1,0 -6.4,0M111.4,911a3.2,3.2 0 1,0 6.4,0a3.2,3.2 0 1,0 -6.4,0M112.9,905.7a3.2,3.2 0 1,0 6.4,0a3.2,3.2 0 1,0 -6.4,0M114.4,904a3.2,3.2 0 1,0 6.4,0a3.2,3.2 0 1,0 -6.4,0M115.9,907.8a3.2,3.2 0 1,0 6.4,0a3.2,3.2 0 1,0 -6.4,0M117.4,905.7a3.2,3.2 0 1,0 6.4,0a3.2,3.2 0 1,0 -6.4,0M118.9,908.5a3.2,3.2 0 1,0 6.4,0a3.2,3.2 0 1,0 -6.4,0M120.4,909.7a3.2,3.2 0 1,0 6.4,0a3.2,3.2 0 1,0 -6.4,0M121.9,896.7a3.2,3.2 0 1,0 6.4,0a3.2,3.2 0 1,0 -6.4,0M123.4,904.1a3.2,3.2 0 1,0 6.4,0a3.2,3.2 0 1,0 -6.4,0M124.9,910.7a3.2,3.2 0 1,0 6.4,0a3.2,3.2 0 1,0 -6.4,0M126.4,906a3.2,3.2 0 1,0 6.4,0a3.2,3.2 0 1,0 -6.4,0M127.9,907.3a3.2,3.2 0 1,0 6.4,0a3.2,3.2 0 1,0 -6.4,0M129.4,901.7a3.2,3.2 0 1,0 6.4,0a3.2,3.2 0 1,0 -6.4,0M130.9,895.6a3.2,3.2 0 1,0 6.4,0a3.2,3.2 0 1,0 -6.4,0M132.4,896.3a3.2,3.2 0 1,0 6.4,0a3.2,3.2 0 1,0 -6.4,0M133.9,902.8a3.2,3.2 0 1,0 6.4,0a3.2,3.2 0 1,0 -6.4,0M135.4,903.8a3.2,3.2 0 1,0 6.4,0a3.2,3.2 0 1,0 -6.4,0M136.9,898a3.2,3.2 0 1,0 6.4,0a3.2,3.2 0 1,0 -6.4,0M138.4,900.1a3.2,3.2 0 1,0 6.4,0a3.2,3.2 0 1,0 -6.4,0M139.9,902.5a3.2,3.2 0 1,0 6.4,0a3.2,3.2 0 1,0 -6.4,0M141.4,895.9a3.2,3.2 0 1,0 6.4,0a3.2,3.2 0 1,0 -6.4,0M142.9,901.5a3.2,3.2 0 1,0 6.4,0a3.2,3.2 0 1,0 -6.4,0M144.4,909.2a3.2,3.2 0 1,0 6.4,0a3.2,3.2 0 1,0 -6.4,0M145.9,911.9a3.2,3.2 0 1,0 6.4,0a3.2,3.2 0 1,0 -6.4,0M147.4,904.4a3.2,3.2 0 1,0 6.4,0a3.2,3.2 0 1,0 -6.4,0M148.9,912.3a3.2,3.2 0 1,0 6.4,0a3.2,3.2 0 1,0 -6.4,0M150.4,904.7a3.2,3.2 0 1,0 6.4,0a3.2,3.2 0 1,0 -6.4,0M151.9,904.6a3.2,3.2 0 1,0 6.4,0a3.2,3.2 0 1,0 -6.4,0M153.4,900.3a3.2,3.2 0 1,0 6.4,0a3.2,3.2 0 1,0 -6.4,0M154.9,912.6a3.2,3.2 0 1,0 6.4,0a3.2,3.2 0 1,0 -6.4,0M156.4,908.5a3.2,3.2 0 1,0 6.4,0a3.2,3.2 0 1,0 -6.4,0M157.9,918.8a3.2,3.2 0 1,0 6.4,0a3.2,3.2 0 1,0 -6.4,0M159.4,911.9a3.2,3.2 0 1,0 6.4,0a3.2,3.2 0 1,0 -6.4,0M160.9,911.6a3.2,3.2 0 1,0 6.4,0a3.2,3.2 0 1,0 -6.4,0M162.4,904.7a3.2,3.2 0 1,0 6.4,0a3.2,3.2 0 1,0 -6.4,0M163.9,916.8a3.2,3.2 0 1,0 6.4,0a3.2,3.2 0 1,0 -6.4,0M165.4,910.2a3.2,3.2 0 1,0 6.4,0a3.2,3.2 0 1,0 -6.4,0M166.9,911a3.2,3.2 0 1,0 6.4,0a3.2,3.2 0 1,0 -6.4,0M168.4,903.5a3.2,3.2 0 1,0 6.4,0a3.2,3.2 0 1,0 -6.4,0M169.9,914.3a3.2,3.2 0 1,0 6.4,0a3.2,3.2 0 1,0 -6.4,0M171.4,913.7a3.2,3.2 0 1,0 6.4,0a3.2,3.2 0 1,0 -6.4,0M172.9,906.9a3.2,3.2 0 1,0 6.4,0a3.2,3.2 0 1,0 -6.4,0M174.4,908.3a3.2,3.2 0 1,0 6.4,0a3.2,3.2 0 1,0 -6.4,0M175.9,908.1a3.2,3.2 0 1,0 6.4,0a3.2,3.2 0 1,0 -6.4,0M177.4,908.9a3.2,3.2 0 1,0 6.4,0a3.2,3.2 0 1,0 -6.4,0M178.9,904.5a3.2,3.2 0 1,0 6.4,0a3.2,3.2 0 1,0 -6.4,0M180.4,908.7a3.2,3.2 0 1,0 6.4,0a3.2,3.2 0 1,0 -6.4,0M181.9,899.8a3.2,3.2 0 1,0 6.4,0a3.2,3.2 0 1,0 -6.4,0M183.4,896.4a3.2,3.2 0 1,0 6.4,0a3.2,3.2 0 1,0 -6.4,0M184.9,894.8a3.2,3.2 0 1,0 6.4,0a3.2,3.2 0 1,0 -6.4,0M186.4,885.1a3.2,3.2 0 1,0 6.4,0a3.2,3.2 0 1,0 -6.4,0M187.9,889.1a3.2,3.2 0 1,0 6.4,0a3.2,3.2 0 1,0 -6.4,0M189.4,893.3a3.2,3.2 0 1,0 6.4,0a3.2,3.2 0 1,0 -6.4,0M190.9,888.4a3.2,3.2 0 1,0 6.4,0a3.2,3.2 0 1,0 -6.4,0M192.4,882a3.2,3.2 0 1,0 6.4,0a3.2,3.2 0 1,0 -6.4,0M193.9,883.7a3.2,3.2 0 1,0 6.4,0a3.2,3.2 0 1,0 -6.4,0M195.4,872.5a3.2,3.2 0 1,0 6.4,0a3.2,3.2 0 1,0 -6.4,0M196.9,876a3.2,3.2 0 1,0 6.4,0a3.2,3.2 0 1,0 -6.4,0M198.4,876.3a3.2,3.2 0 1,0 6.4,0a3.2,3.2 0 1,0 -6.4,0M199.9,874.4a3.2,3.2 0 1,0 6.4,0a3.2,3.2 0 1,0 -6.4,0M201.4,866.7a3.2,3.2 0 1,0 6.4,0a3.2,3.2 0 1,0 -6.4,0M202.9,870.6a3.2,3.2 0 1,0 6.4,0a3.2,3.2 0 1,0 -6.4,0M204.4,871.7a3.2,3.2 0 1,0 6.4,0a3.2,3.2 0 1,0 -6.4,0M205.9,861a3.2,3.2 0 1,0 6.4,0a3.2,3.2 0 1,0 -6.4,0M207.4,862.9a3.2,3.2 0 1,0 6.4,0a3.2,3.2 0 1,0 -6.4,0M208.9,852.7a3.2,3.2 0 1,0 6.4,0a3.2,3.2 0 1,0 -6.4,0M210.4,849.9a3.2,3.2 0 1,0 6.4,0a3.2,3.2 0 1,0 -6.4,0M211.9,858.7a3.2,3.2 0 1,0 6.4,0a3.2,3.2 0 1,0 -6.4,0M213.4,857.1a3.2,3.2 0 1,0 6.4,0a3.2,3.2 0 1,0 -6.4,0M214.9,858.6a3.2,3.2 0 1,0 6.4,0a3.2,3.2 0 1,0 -6.4,0M216.4,857.3a3.2,3.2 0 1,0 6.4,0a3.2,3.2 0 1,0 -6.4,0M217.9,860.1a3.2,3.2 0 1,0 6.4,0a3.2,3.2 0 1,0 -6.4,0M219.4,866.2a3.2,3.2 0 1,0 6.4,0a3.2,3.2 0 1,0 -6.4,0M220.9,871.7a3.2,3.2 0 1,0 6.4,0a3.2,3.2 0 1,0 -6.4,0M222.4,867.3a3.2,3.2 0 1,0 6.4,0a3.2,3.2 0 1,0 -6.4,0M223.9,865.9a3.2,3.2 0 1,0 6.4,0a3.2,3.2 0 1,0 -6.4,0M225.4,880.9a3.2,3.2 0 1,0 6.4,0a3.2,3.2 0 1,0 -6.4,0M226.9,883.3a3.2,3.2 0 1,0 6.4,0a3.2,3.2 0 1,0 -6.4,0M228.4,888.2a3.2,3.2 0 1,0 6.4,0a3.2,3.2 0 1,0 -6.4,0M229.9,890.5a3.2,3.2 0 1,0 6.4,0a3.2,3.2 0 1,0 -6.4,0M231.4,902.2a3.2,3.2 0 1,0 6.4,0a3.2,3.2 0 1,0 -6.4,0M232.9,898a3.2,3.2 0 1,0 6.4,0a3.2,3.2 0 1,0 -6.4,0M234.4,903.4a3.2,3.2 0 1,0 6.4,0a3.2,3.2 0 1,0 -6.4,0M235.9,898.5a3.2,3.2 0 1,0 6.4,0a3.2,3.2 0 1,0 -6.4,0M237.4,906.5a3.2,3.2 0 1,0 6.4,0a3.2,3.2 0 1,0 -6.4,0M238.9,909.4a3.2,3.2 0 1,0 6.4,0a3.2,3.2 0 1,0 -6.4,0M240.4,915.3a3.2,3.2 0 1,0 6.4,0a3.2,3.2 0 1,0 -6.4,0M241.9,920a3.2,3.2 0 1,0 6.4,0a3.2,3.2 0 1,0 -6.4,0M243.4,918.5a3.2,3.2 0 1,0 6.4,0a3.2,3.2 0 1,0 -6.4,0M244.9,928.2a3.2,3.2 0 1,0 6.4,0a3.2,3.2 0 1,0 -6.4,0M246.4,918.1a3.2,3.2 0 1,0 6.4,0a3.2,3.2 0 1,0 -6.4,0M247.9,920a3.2,3.2 0 1,0 6.4,0a3.2,3.2 0 1,0 -6.4,0M249.4,922a3.2,3.2 0 1,0 6.4,0a3.2,3.2 0 1,0 -6.4,0M250.9,916.1a3.2,3.2 0 1,0 6.4,0a3.2,3.2 0 1,0 -6.4,0M252.4,922.1a3.2,3.2 0 1,0 6.4,0a3.2,3.2 0 1,0 -6.4,0M253.9,921.7a3.2,3.2 0 1,0 6.4,0a3.2,3.2 0 1,0 -6.4,0M255.4,917.8a3.2,3.2 0 1,0 6.4,0a3.2,3.2 0 1,0 -6.4,0M256.9,925.3a3.2,3.2 0 1,0 6.4,0a3.2,3.2 0 1,0 -6.4,0M258.4,918.3a3.2,3.2 0 1,0 6.4,0a3.2,3.2 0 1,0 -6.4,0M259.9,918.5a3.2,3.2 0 1,0 6.4,0a3.2,3.2 0 1,0 -6.4,0M261.4,913.5a3.2,3.2 0 1,0 6.4,0a3.2,3.2 0 1,0 -6.4,0M262.9,910.5a3.2,3.2 0 1,0 6.4,0a3.2,3.2 0 1,0 -6.4,0M264.4,913.8a3.2,3.2 0 1,0 6.4,0a3.2,3.2 0 1,0 -6.4,0M265.9,914.6a3.2,3.2 0 1,0 6.4,0a3.2,3.2 0 1,0 -6.4,0M267.4,913.9a3.2,3.2 0 1,0 6.4,0a3.2,3.2 0 1,0 -6.4,0M268.9,918.2a3.2,3.2 0 1,0 6.4,0a3.2,3.2 0 1,0 -6.4,0M270.4,907a3.2,3.2 0 1,0 6.4,0a3.2,3.2 0 1,0 -6.4,0M271.9,912a3.2,3.2 0 1,0 6.4,0a3.2,3.2 0 1,0 -6.4,0M273.4,910.2a3.2,3.2 0 1,0 6.4,0a3.2,3.2 0 1,0 -6.4,0M274.9,922.6a3.2,3.2 0 1,0 6.4,0a3.2,3.2 0 1,0 -6.4,0M276.4,916.8a3.2,3.2 0 1,0 6.4,0a3.2,3.2 0 1,0 -6.4,0M277.9,918.1a3.2,3.2 0 1,0 6.4,0a3.2,3.2 0 1,0 -6.4,0M279.4,917.2a3.2,3.2 0 1,0 6.4,0a3.2,3.2 0 1,0 -6.4,0M280.9,925.6a3.2,3.2 0 1,0 6.4,0a3.2,3.2 0 1,0 -6.4,0M282.4,922.1a3.2,3.2 0 1,0 6.4,0a3.2,3.2 0 1,0 -6.4,0M283.9,925.8a3.2,3.2 0 1,0 6.4,0a3.2,3.2 0 1,0 -6.4,0M285.4,919.2a3.2,3.2 0 1,0 6.4,0a3.2,3.2 0 1,0 -6.4,0M286.9,932.4a3.2,3.2 0 1,0 6.4,0a3.2,3.2 0 1,0 -6.4,0M288.4,931.3a3.2,3.2 0 1,0 6.4,0a3.2,3.2 0 1,0 -6.4,0M289.9,933.5a3.2,3.2 0 1,0 6.4,0a3.2,3.2 0 1,0 -6.4,0M291.4,937.5a3.2,3.2 0 1,0 6.4,0a3.2,3.2 0 1,0 -6.4,0M292.9,933.7a3.2,3.2 0 1,0 6.4,0a3.2,3.2 0 1,0 -6.4,0M294.4,935a3.2,3.2 0 1,0 6.4,0a3.2,3.2 0 1,0 -6.4,0M295.9,939.6a3.2,3.2 0 1,0 6.4,0a3.2,3.2 0 1,0 -6.4,0M297.4,939.9a3.2,3.2 0 1,0 6.4,0a3.2,3.2 0 1,0 -6.4,0M298.9,938.8a3.2,3.2 0 1,0 6.4,0a3.2,3.2 0 1,0 -6.4,0M300.4,940.8a3.2,3.2 0 1,0 6.4,0a3.2,3.2 0 1,0 -6.4,0M301.9,939.5a3.2,3.2 0 1,0 6.4,0a3.2,3.2 0 1,0 -6.4,0M303.4,944.1a3.2,3.2 0 1,0 6.4,0a3.2,3.2 0 1,0 -6.4,0M304.9,944.4a3.2,3.2 0 1,0 6.4,0a3.2,3.2 0 1,0 -6.4,0M306.4,940.1a3.2,3.2 0 1,0 6.4,0a3.2,3.2 0 1,0 -6.4,0M307.9,945.3a3.2,3.2 0 1,0 6.4,0a3.2,3.2 0 1,0 -6.4,0M309.4,931.3a3.2,3.2 0 1,0 6.4,0a3.2,3.2 0 1,0 -6.4,0M310.9,934.1a3.2,3.2 0 1,0 6.4,0a3.2,3.2 0 1,0 -6.4,0M312.4,938.8a3.2,3.2 0 1,0 6.4,0a3.2,3.2 0 1,0 -6.4,0M313.9,927.8a3.2,3.2 0 1,0 6.4,0a3.2,3.2 0 1,0 -6.4,0M315.4,919.6a3.2,3.2 0 1,0 6.4,0a3.2,3.2 0 1,0 -6.4,0M316.9,926.1a3.2,3.2 0 1,0 6.4,0a3.2,3.2 0 1,0 -6.4,0M318.4,918.5a3.2,3.2 0 1,0 6.4,0a3.2,3.2 0 1,0 -6.4,0M319.9,907.8a3.2,3.2 0 1,0 6.4,0a3.2,3.2 0 1,0 -6.4,0M321.4,910.9a3.2,3.2 0 1,0 6.4,0a3.2,3.2 0 1,0 -6.4,0M322.9,900.8a3.2,3.2 0 1,0 6.4,0a3.2,3.2 0 1,0 -6.4,0M324.4,896.1a3.2,3.2 0 1,0 6.4,0a3.2,3.2 0 1,0 -6.4,0M325.9,897a3.2,3.2 0 1,0 6.4,0a3.2,3.2 0 1,0 -6.4,0M327.4,892.3a3.2,3.2 0 1,0 6.4,0a3.2,3.2 0 1,0 -6.4,0M328.9,886.5a3.2,3.2 0 1,0 6.4,0a3.2,3.2 0 1,0 -6.4,0M330.4,885.3a3.2,3.2 0 1,0 6.4,0a3.2,3.2 0 1,0 -6.4,0M331.9,878.9a3.2,3.2 0 1,0 6.4,0a3.2,3.2 0 1,0 -6.4,0M333.4,878.2a3.2,3.2 0 1,0 6.4,0a3.2,3.2 0 1,0 -6.4,0M334.9,873a3.2,3.2 0 1,0 6.4,0a3.2,3.2 0 1,0 -6.4,0M336.4,870.7a3.2,3.2 0 1,0 6.4,0a3.2,3.2 0 1,0 -6.4,0M337.9,861.3a3.2,3.2 0 1,0 6.4,0a3.2,3.2 0 1,0 -6.4,0M339.4,853.2a3.2,3.2 0 1,0 6.4,0a3.2,3.2 0 1,0 -6.4,0M340.9,848.2a3.2,3.2 0 1,0 6.4,0a3.2,3.2 0 1,0 -6.4,0M342.4,846.7a3.2,3.2 0 1,0 6.4,0a3.2,3.2 0 1,0 -6.4,0M343.9,848a3.2,3.2 0 1,0 6.4,0a3.2,3.2 0 1,0 -6.4,0M345.4,841.2a3.2,3.2 0 1,0 6.4,0a3.2,3.2 0 1,0 -6.4,0M346.9,832.7a3.2,3.2 0 1,0 6.4,0a3.2,3.2 0 1,0 -6.4,0M348.4,835.5a3.2,3.2 0 1,0 6.4,0a3.2,3.2 0 1,0 -6.4,0M349.9,825.7a3.2,3.2 0 1,0 6.4,0a3.2,3.2 0 1,0 -6.4,0M351.4,832.6a3.2,3.2 0 1,0 6.4,0a3.2,3.2 0 1,0 -6.4,0M352.9,828.8a3.2,3.2 0 1,0 6.4,0a3.2,3.2 0 1,0 -6.4,0M354.4,836.2a3.2,3.2 0 1,0 6.4,0a3.2,3.2 0 1,0 -6.4,0M355.9,840.4a3.2,3.2 0 1,0 6.4,0a3.2,3.2 0 1,0 -6.4,0M357.4,842.6a3.2,3.2 0 1,0 6.4,0a3.2,3.2 0 1,0 -6.4,0M358.9,853a3.2,3.2 0 1,0 6.4,0a3.2,3.2 0 1,0 -6.4,0M360.4,860.4a3.2,3.2 0 1,0 6.4,0a3.2,3.2 0 1,0 -6.4,0M361.9,878.6a3.2,3.2 0 1,0 6.4,0a3.2,3.2 0 1,0 -6.4,0M363.4,897.3a3.2,3.2 0 1,0 6.4,0a3.2,3.2 0 1,0 -6.4,0M364.9,922.8a3.2,3.2 0 1,0 6.4,0a3.2,3.2 0 1,0 -6.4,0M366.4,926.2a3.2,3.2 0 1,0 6.4,0a3.2,3.2 0 1,0 -6.4,0M367.9,939.2a3.2,3.2 0 1,0 6.4,0a3.2,3.2 0 1,0 -6.4,0M369.4,949.3a3.2,3.2 0 1,0 6.4,0a3.2,3.2 0 1,0 -6.4,0M370.9,970.9a3.2,3.2 0 1,0 6.4,0a3.2,3.2 0 1,0 -6.4,0M372.4,973.5a3.2,3.2 0 1,0 6.4,0a3.2,3.2 0 1,0 -6.4,0M373.9,985.4a3.2,3.2 0 1,0 6.4,0a3.2,3.2 0 1,0 -6.4,0M375.4,996a3.2,3.2 0 1,0 6.4,0a3.2,3.2 0 1,0 -6.4,0M376.9,997.1a3.2,3.2 0 1,0 6.4,0a3.2,3.2 0 1,0 -6.4,0M378.4,1008a3.2,3.2 0 1,0 6.4,0a3.2,3.2 0 1,0 -6.4,0M379.9,1010.2a3.2,3.2 0 1,0 6.4,0a3.2,3.2 0 1,0 -6.4,0M381.4,1009.2a3.2,3.2 0 1,0 6.4,0a3.2,3.2 0 1,0 -6.4,0M382.9,1011.9a3.2,3.2 0 1,0 6.4,0a3.2,3.2 0 1,0 -6.4,0M384.4,1012.5a3.2,3.2 0 1,0 6.4,0a3.2,3.2 0 1,0 -6.4,0M385.9,1014.4a3.2,3.2 0 1,0 6.4,0a3.2,3.2 0 1,0 -6.4,0M387.4,1020.6a3.2,3.2 0 1,0 6.4,0a3.2,3.2 0 1,0 -6.4,0M388.9,1022.2a3.2,3.2 0 1,0 6.4,0a3.2,3.2 0 1,0 -6.4,0M390.4,1022.2a3.2,3.2 0 1,0 6.4,0a3.2,3.2 0 1,0 -6.4,0M391.9,1022.6a3.2,3.2 0 1,0 6.4,0a3.2,3.2 0 1,0 -6.4,0M393.4,1021.2a3.2,3.2 0 1,0 6.4,0a3.2,3.2 0 1,0 -6.4,0M394.9,1023.9a3.2,3.2 0 1,0 6.4,0a3.2,3.2 0 1,0 -6.4,0M396.4,1020a3.2,3.2 0 1,0 6.4,0a3.2,3.2 0 1,0 -6.4,0M397.9,1024a3.2,3.2 0 1,0 6.4,0a3.2,3.2 0 1,0 -6.4,0M399.4,1027.9a3.2,3.2 0 1,0 6.4,0a3.2,3.2 0 1,0 -6.4,0M400.9,1027.9a3.2,3.2 0 1,0 6.4,0a3.2,3.2 0 1,0 -6.4,0M402.4,1023.9a3.2,3.2 0 1,0 6.4,0a3.2,3.2 0 1,0 -6.4,0M403.9,1024.5a3.2,3.2 0 1,0 6.4,0a3.2,3.2 0 1,0 -6.4,0M405.4,1028.9a3.2,3.2 0 1,0 6.4,0a3.2,3.2 0 1,0 -6.4,0M406.9,1030a3.2,3.2 0 1,0 6.4,0a3.2,3.2 0 1,0 -6.4,0M408.4,1022.3a3.2,3.2 0 1,0 6.4,0a3.2,3.2 0 1,0 -6.4,0M409.9,1025a3.2,3.2 0 1,0 6.4,0a3.2,3.2 0 1,0 -6.4,0M411.4,1026.6a3.2,3.2 0 1,0 6.4,0a3.2,3.2 0 1,0 -6.4,0" fill="#fff" stroke="#2b2b2b" stroke-width="1.0"/>
<path d="M65.1,911.7l1,.8 1,.7 1,.7 1,.7 1,.6 1,.5 1,.2 1,.2 1,.1 1,.1 1,.1 1,0 1,.1 1,.1 1,.1 1,0 1,.1 1,0 1,.1 1,0 1,0 1,.1 1,0 1,0 1,0 1,0 1,0 1-.1 1-.1 1-.1 1-.1 1-.2 1-.2 1-.3 1-.2 1-.3 1-.3 1-.3 1-.3 1-.4 1-.3 1-.4 1-.3 1-.3 1-.4 1-.3 1-.3 1-.4 1-.3 1-.4 1-.4 1-.5 1-.4 1-.4 1-.5 1-.5 1-.4 1-.5 1-.4 1-.5 1-.4 1-.4 1-.5 1-.5 1-.5 1-.6 1-.5 1-.4 1-.4 1-.3 1-.2 1-.1 1,.1 1,.1 1,.2 1,.3 1,.3 1,.4 1,.4 1,.4 1,.4 1,.4 1,.4 1,.4 1,.5 1,.6 1,.6 1,.6 1,.6 1,.6 1,.6 1,.6 1,.5 1,.5 1,.4 1,.3 1,.2 1,.2 1,.2 1,.1 1,.2 1,.1 1,.1 1,.1 1,0 1-.1 1-.2 1-.4 1-.5 1-.6 1-.7 1-.7 1-.8 1-.9 1-.8 1-.8 1-1 1-1 1-1.2 1-1.2 1-1.4 1-1.4 1-1.4 1-1.5 1-1.5 1-1.5 1-1.6 1-1.5 1-1.5 1-1.6 1-1.7 1-1.7 1-1.8 1-1.7 1-1.8 1-1.8 1-1.7 1-1.7 1-1.6 1-1.5 1-1.5 1-1.5 1-1.6 1-1.7 1-1.6 1-1.4 1-1.2 1-1 1-.6 1-.2 1,.2 1,.5 1,.7 1,.9 1,1.1 1,1.3 1,1.3 1,1.5 1,1.5 1,1.6 1,2.2 1,2.6 1,2.9 1,3.1 1,3.2 1,3.1 1,3 1,2.6 1,2.7 1,2.6 1,2.6 1,2.6 1,2.5 1,2.4 1,2.3 1,2.1 1,2.2 1,2.4 1,2.4 1,2.1 1,1.8 1,1.1 1,.4 1-.1 1-.1 1-.2 1-.3 1-.3 1-.4 1-.4 1-.4 1-.4 1-.4 1-.3 1-.3 1-.3 1-.3 1-.3 1-.4 1-.3 1-.3 1-.3 1-.2 1-.3 1-.1 1-.2 1,0 1,.1 1,.2 1,.3 1,.5 1,.6 1,.6 1,.7 1,.8 1,.8 1,.8 1,.8 1,.7 1,.8 1,.9 1,1 1,1 1,1.1 1,1.1 1,1.1 1,1.1 1,1.1 1,1 1,1 1,.8 1,.9 1,.9 1,.9 1,.9 1,.9 1,.8 1,.7 1,.6 1,.4 1,.2 1-.1 1-.3 1-.7 1-.8 1-1 1-1.2 1-1.2 1-1.3 1-1.4 1-1.9 1-2.3 1-2.5 1-2.8 1-3 1-3 1-3 1-2.9 1-2.8 1-2.5 1-2.4 1-2.3 1-2.3 1-2.3 1-2.3 1-2.3 1-2.4 1-2.6 1-2.6 1-2.8 1-3 1-3.2 1-3.3 1-3.3 1-3.4 1-3.4 1-3.3 1-3.2 1-3.5 1-3.6 1-3.5 1-3.3 1-3 1-2.6 1-2 1-1.9 1-1.8 1-1.4 1-.8 1,0 1,1.1 1,2 1,2.7 1,3.3 1,3.6 1,4 1,6.1 1,7.9 1,9.2 1,9.9 1,9.8 1,9.4 1,10 1,10.4 1,10.4 1,10.1 1,9.3 1,9.5 1,9.3 1,8.6 1,7.3 1,5.3 1,4.4 1,3.9 1,3.4 1,3 1,2.5 1,2.1 1,2 1,1.9 1,1.8 1,1.7 1,1.5 1,1.3 1,1.2 1,1 1,.7 1,.5 1,.4 1,.4 1,.3 1,.4 1,.3 1,.4 1,.3 1,.3 1,.2 1,.3 1,.2 1,.2 1,.2 1,.2 1,.2 1,.1 1,.2 1,.1 1,0 1,.1 1,.1 1,0" fill="none" stroke="#2e62a0" stroke-width="1.9" stroke-linejoin="round"/>
<rect x="64.1" y="745.7" width="351.7" height="283.2" fill="none" stroke="#111" stroke-width="1.7"/>
<path d="M64.1,1028.9v-5M114.3,1028.9v-5M164.6,1028.9v-5M214.8,1028.9v-5M265.1,1028.9v-5M315.3,1028.9v-5M365.6,1028.9v-5M415.8,1028.9v-5M89.2,1028.9v-3M139.5,1028.9v-3M189.7,1028.9v-3M240.0,1028.9v-3M290.2,1028.9v-3M340.4,1028.9v-3M390.7,1028.9v-3" stroke="#111" stroke-width="1.5"/>
<text x="64.1" y="1047.4" font-size="15.5" text-anchor="middle" fill="#111">740</text>
<text x="114.3" y="1047.4" font-size="15.5" text-anchor="middle" fill="#111">735</text>
<text x="164.6" y="1047.4" font-size="15.5" text-anchor="middle" fill="#111">730</text>
<text x="214.8" y="1047.4" font-size="15.5" text-anchor="middle" fill="#111">725</text>
<text x="265.1" y="1047.4" font-size="15.5" text-anchor="middle" fill="#111">720</text>
<text x="315.3" y="1047.4" font-size="15.5" text-anchor="middle" fill="#111">715</text>
<text x="365.6" y="1047.4" font-size="15.5" text-anchor="middle" fill="#111">710</text>
<text x="415.8" y="1047.4" font-size="15.5" text-anchor="middle" fill="#111">705</text>
<text x="171.8" y="1074.4" font-size="16" textLength="136.8" lengthAdjust="spacingAndGlyphs" fill="#111">Binding energy (eV)</text>
<text x="50.5" y="936.8" font-size="15.5" textLength="100.2" lengthAdjust="spacingAndGlyphs" fill="#111" transform="rotate(-90 51.0 936.8)">Intensity (a.u.)</text>
<text x="16.8" y="776.0" font-size="39.5" textLength="44.6" lengthAdjust="spacingAndGlyphs" fill="#111">(e)</text>
<text x="368.4" y="765.8" font-size="15" textLength="36.6" lengthAdjust="spacingAndGlyphs" fill="#111">Fe 2p</text>
<text x="192.4" y="841.1" font-size="13" textLength="41.5" lengthAdjust="spacingAndGlyphs" fill="#111">Fe 2p<tspan font-size="9.1" dy="3">1/2</tspan></text>
<text x="336.7" y="819.5" font-size="13" textLength="41.8" lengthAdjust="spacingAndGlyphs" fill="#111">Fe 2p<tspan font-size="9.1" dy="3">3/2</tspan></text>
<text x="279.6" y="843.1" font-size="15" textLength="24.5" lengthAdjust="spacingAndGlyphs" fill="#111">Fe<tspan font-size="10.1" dy="-6">2+</tspan></text>
<text x="280.1" y="891.1" font-size="15" fill="#111">Fe<tspan font-size="10.1" dy="-6">3+</tspan></text>
<text x="154.3" y="972.3" font-size="13" textLength="75.2" lengthAdjust="spacingAndGlyphs" fill="#111">Satellite peak</text>
<line x1="165.6" y1="952.7" x2="142.5" y2="912.5" stroke="#f0e08a" stroke-width="1.6"/>
<line x1="233.1" y1="968.0" x2="265.8" y2="953.1" stroke="#90c878" stroke-width="1.6"/>
<path d="M272.2,950.2L267.2,956.0L267.7,952.2L264.5,950.2Z" fill="#90c878"/>
<line x1="272.2" y1="843.8" x2="228.5" y2="869.7" stroke="#f2bf95" stroke-width="1.6"/>
<path d="M222.5,873.3L226.9,867.0L226.7,870.8L230.2,872.5Z" fill="#f2bf95"/>
<line x1="269.8" y1="889.9" x2="193.5" y2="910.7" stroke="#b8b4e8" stroke-width="1.6"/>
<path d="M186.7,912.5L192.6,907.6L191.4,911.2L194.3,913.8Z" fill="#b8b4e8"/>
<line x1="304.1" y1="843.8" x2="350.1" y2="870.9" stroke="#90d5f2" stroke-width="1.6"/>
<path d="M356.1,874.5L348.4,873.7L351.9,872.0L351.7,868.2Z" fill="#90d5f2"/>
<line x1="298.2" y1="895.8" x2="325.7" y2="930.5" stroke="#e088b8" stroke-width="1.6"/>
<path d="M330.1,936.0L323.2,932.5L327.1,932.2L328.3,928.5Z" fill="#e088b8"/>
<path d="M97.2,984.5a3.0,3.0 0 1,0 6,0a3.0,3.0 0 1,0 -6,0" fill="#fff" stroke="#2b2b2b" stroke-width="1.0"/>
<text x="121.1" y="989.0" font-size="12.8" fill="#111">Raw</text>
<line x1="83.7" y1="1003" x2="117.3" y2="1003" stroke="#2e62a0" stroke-width="1.9"/>
<text x="121.1" y="1007.0" font-size="12.8" fill="#111">Fitting</text>
<path d="M524.6,960.1l1,0 1,0 1,0 1,0 1-.1 1,0 1,0 1,0 1,0 1,0 1,0 1,0 1-.1 1,0 1,0 1,0 1-.1 1,0 1-.1 1-.1 1-.1 1-.1 1-.2 1-.2 1-.4 1-.4 1-.6 1-.8 1-1 1-1.2 1-1.5 1-2 1-2.3 1-2.7 1-3.2 1-3.7 1-4.2 1-4.5 1-5 1-5.2 1-5.4 1-5.4 1-5.3 1-5 1-4.4 1-3.8 1-2.9 1-1.8 1-.8 1,.3 1,1.5 1,2.5 1,3.4 1,4.2 1,4.8 1,5.2 1,5.3 1,5.5 1,5.3 1,5.1 1,4.7 1,4.4 1,3.8 1,3.4 1,3 1,2.5 1,2 1,1.7 1,1.4 1,1.1 1,.8 1,.7 1,.5 1,.4 1,.3 1,.2 1,.1 1,.2 1,.1 1,0 1,.1 1,0 1,.1 1,0 1,0 1,.1 1,0 1,0 1,0 1,0 1,.1 1,0 1,0 1,0 1,0 1,0 1,0 1,.1 1,0 1,0 1,0 1,0 1,0 1,0 1,0 1,0 1,0 1,.1 1,0 1,0 0,.1-3,0-3,0-3,0-3,0-3,0-3,0-3,0-3-.1-3,0-3,0-3,0-3,0-3,0-3,0-3,0-3,0-3,0-3,0-3,0-3-.1-3,0-3,0-3,0-3,0-3,0-3,0-3,0-3,0-3,0-3,0-3,0-3-.1-3,0-3,0-3,0-3,0Z" fill="#ebabc8" fill-opacity="0.75"/>
<path d="M736.1,960.8l1,0 1,0 1,0 1-.1 1,0 1,0 1,0 1,0 1,0 1,0 1,0 1,0 1,0 1,0 1,0 1,0 1,0 1,0 1,0 1,0 1,0 1,0 1-.1 1,0 1,0 1,0 1,0 1,0 1,0 1-.1 1,0 1,0 1,0 1,0 1-.1 1,0 1,0 1-.1 1,0 1-.1 1,0 1-.1 1,0 1-.1 1-.2 1-.1 1-.3 1-.3 1-.5 1-.7 1-1 1-1.4 1-2 1-2.6 1-3.6 1-4.7 1-5.9 1-7.3 1-8.9 1-10.3 1-11.6 1-12.9 1-13.5 1-13.8 1-13.3 1-12.2 1-10.3 1-7.7 1-4.6 1-1.1 1,2.5 1,5.9 1,8.9 1,11.1 1,12.8 1,13.6 1,13.7 1,13.3 1,12.4 1,11.2 1,9.7 1,8.2 1,6.8 1,5.4 1,4.2 1,3.2 1,2.4 1,1.7 1,1.3 1,.8 1,.6 1,.5 1,.3 1,.2 1,.1 1,.1 1,.1 1,.1 1,.1 1,0 1,.1 1,0 1,.1 1,0 1,0 1,.1 1,0 1,0 1,.1 1,0 1,0 1,0 1,0 1,.1 1,0 1,0 1,0 1,0 1,0 1,.1 1,0 1,0 1,0 1,0 1,0 1,0 1,0 1,.1 1,0 1,0 1,0 1,0 1,0 1,0 1,0 1,0 1,0 1,0 0,.2-3,0-3,0-3,0-3,0-3,0-3-.1-3,0-3,0-3,0-3,0-3,0-3,0-3,0-3,0-3,0-3,0-3,0-3-.1-3,0-3,0-3,0-3,0-3,0-3,0-3,0-3,0-3,0-3,0-3-.1-3,0-3,0-3,0-3,0-3,0-3,0-3,0-3,0-3,0-3,0-3,0-3-.1-3,0-3,0-3,0-3,0-3,0Z" fill="#97d7f1" fill-opacity="0.7"/>
<path d="M524.6,960.3l1,0 1,0 1,0 1,0 1,0 1,0 1,0 1,0 1,0 1,0 1,0 1,0 1,0 1,0 1,0 1,0 1,.1 1,0 1,0 1,0 1,0 1,0 1,0 1,0 1,0 1,0 1,0 1,0 1,0 1,0 1,0 1,0 1,0 1,0 1,0 1,0 1,0 1,0 1,0 1,0 1,0 1,0 1,0 1,0 1,0 1,0 1,0 1,0 1,0 1,0 1,0 1,.1 1,0 1,0 1,0 1,0 1,0 1,0 1,0 1,0 1,0 1,0 1,0 1,0 1,0 1,0 1,0 1,0 1,0 1,0 1,0 1,0 1,0 1,0 1,0 1,0 1,0 1,0 1,0 1,0 1,0 1,0 1,0 1,0 1,0 1,0 1,.1 1,0 1,0 1,0 1,0 1,0 1,0 1,0 1,0 1,0 1,0 1,0 1,0 1,0 1,0 1,0 1,0 1,0 1,0 1,0 1,0 1,0 1,0 1,0 1,0 1,0 1,0 1,0 1,0 1,0 1,0 1,0 1,0 1,0 1,0 1,0 1,.1 1,0 1,0 1,0 1,0 1,0 1,0 1,0 1,0 1,0 1,0 1,0 1,0 1,0 1,0 1,0 1,0 1,0 1,0 1,0 1,0 1,0 1,0 1,0 1,0 1,0 1,0 1,0 1,0 1,0 1,0 1,0 1,0 1,0 1,0 1,.1 1,0 1,0 1,0 1,0 1,0 1,0 1,0 1,0 1,0 1,0 1,0 1,0 1,0 1,0 1,0 1,0 1,0 1,0 1,0 1,0 1,0 1,0 1,0 1,0 1,0 1,0 1,0 1,0 1,0 1,0 1,0 1,0 1,0 1,0 1,.1 1,0 1,0 1,0 1,0 1,0 1,0 1,0 1,0 1,0 1,0 1,0 1,0 1,0 1,0 1,0 1,0 1,0 1,0 1,0 1,0 1,0 1,0 1,0 1,0 1,0 1,0 1,0 1,0 1,0 1,0 1,0 1,0 1,0 1,0 1,.1 1,0 1,0 1,0 1,0 1,0 1,0 1,0 1,0 1,0 1,0 1,0 1,0 1,0 1,0 1,0 1,0 1,0 1,0 1,0 1,0 1,0 1,0 1,0 1,0 1,0 1,0 1,0 1,0 1,0 1,0 1,0 1,0 1,0 1,0 1,.1 1,0 1,0 1,0 1,0 1,0 1,0 1,0 1,0 1,0 1,0 1,0 1,0 1,0 1,0 1,0 1,0 1,0 1,0 1,0 1,0 1,0 1,0 1,0 1,0 1,0 1,0 1,0 1,0 1,0 1,0 1,0 1,0 1,0 1,0 1,.1 1,0 1,0 1,0 1,0 1,0 1,0 1,0 1,0 1,0 1,0 1,0 1,0 1,0 1,0 1,0 1,0 1,0 1,0 1,0 1,0 1,0 1,0 1,0 1,0 1,0 1,0 1,0 1,0 1,0 1,0 1,0 1,0 1,0 1,0 1,.1 1,0 1,0 1,0 1,0 1,0 1,0 1,0 1,0 1,0 1,0 1,0 1,0 1,0 1,0 1,0 1,0" fill="none" stroke="#111" stroke-width="1.6"/>
<path d="M525.9,960.7a3.2,3.2 0 1,0 6.4,0a3.2,3.2 0 1,0 -6.4,0M527.4,955.7a3.2,3.2 0 1,0 6.4,0a3.2,3.2 0 1,0 -6.4,0M528.9,959.2a3.2,3.2 0 1,0 6.4,0a3.2,3.2 0 1,0 -6.4,0M530.4,957a3.2,3.2 0 1,0 6.4,0a3.2,3.2 0 1,0 -6.4,0M531.9,963.4a3.2,3.2 0 1,0 6.4,0a3.2,3.2 0 1,0 -6.4,0M533.4,958.7a3.2,3.2 0 1,0 6.4,0a3.2,3.2 0 1,0 -6.4,0M534.9,957.3a3.2,3.2 0 1,0 6.4,0a3.2,3.2 0 1,0 -6.4,0M536.4,956.8a3.2,3.2 0 1,0 6.4,0a3.2,3.2 0 1,0 -6.4,0M537.9,960.1a3.2,3.2 0 1,0 6.4,0a3.2,3.2 0 1,0 -6.4,0M539.4,959.1a3.2,3.2 0 1,0 6.4,0a3.2,3.2 0 1,0 -6.4,0M540.9,954.7a3.2,3.2 0 1,0 6.4,0a3.2,3.2 0 1,0 -6.4,0M542.4,957.7a3.2,3.2 0 1,0 6.4,0a3.2,3.2 0 1,0 -6.4,0M543.9,953.8a3.2,3.2 0 1,0 6.4,0a3.2,3.2 0 1,0 -6.4,0M545.4,954.8a3.2,3.2 0 1,0 6.4,0a3.2,3.2 0 1,0 -6.4,0M546.9,953a3.2,3.2 0 1,0 6.4,0a3.2,3.2 0 1,0 -6.4,0M548.4,952.1a3.2,3.2 0 1,0 6.4,0a3.2,3.2 0 1,0 -6.4,0M549.9,952.4a3.2,3.2 0 1,0 6.4,0a3.2,3.2 0 1,0 -6.4,0M551.4,949.9a3.2,3.2 0 1,0 6.4,0a3.2,3.2 0 1,0 -6.4,0M552.9,951.1a3.2,3.2 0 1,0 6.4,0a3.2,3.2 0 1,0 -6.4,0M554.4,948.4a3.2,3.2 0 1,0 6.4,0a3.2,3.2 0 1,0 -6.4,0M555.9,941.6a3.2,3.2 0 1,0 6.4,0a3.2,3.2 0 1,0 -6.4,0M557.4,934.2a3.2,3.2 0 1,0 6.4,0a3.2,3.2 0 1,0 -6.4,0M558.9,932.4a3.2,3.2 0 1,0 6.4,0a3.2,3.2 0 1,0 -6.4,0M560.4,918.3a3.2,3.2 0 1,0 6.4,0a3.2,3.2 0 1,0 -6.4,0M561.9,910.6a3.2,3.2 0 1,0 6.4,0a3.2,3.2 0 1,0 -6.4,0M563.4,908.9a3.2,3.2 0 1,0 6.4,0a3.2,3.2 0 1,0 -6.4,0M564.9,900.9a3.2,3.2 0 1,0 6.4,0a3.2,3.2 0 1,0 -6.4,0M566.4,894.8a3.2,3.2 0 1,0 6.4,0a3.2,3.2 0 1,0 -6.4,0M567.9,886.6a3.2,3.2 0 1,0 6.4,0a3.2,3.2 0 1,0 -6.4,0M569.4,880.9a3.2,3.2 0 1,0 6.4,0a3.2,3.2 0 1,0 -6.4,0M570.9,881.9a3.2,3.2 0 1,0 6.4,0a3.2,3.2 0 1,0 -6.4,0M572.4,886.3a3.2,3.2 0 1,0 6.4,0a3.2,3.2 0 1,0 -6.4,0M573.9,887.2a3.2,3.2 0 1,0 6.4,0a3.2,3.2 0 1,0 -6.4,0M575.4,893.4a3.2,3.2 0 1,0 6.4,0a3.2,3.2 0 1,0 -6.4,0M576.9,899.1a3.2,3.2 0 1,0 6.4,0a3.2,3.2 0 1,0 -6.4,0M578.4,907.6a3.2,3.2 0 1,0 6.4,0a3.2,3.2 0 1,0 -6.4,0M579.9,920.6a3.2,3.2 0 1,0 6.4,0a3.2,3.2 0 1,0 -6.4,0M581.4,927.3a3.2,3.2 0 1,0 6.4,0a3.2,3.2 0 1,0 -6.4,0M582.9,930.4a3.2,3.2 0 1,0 6.4,0a3.2,3.2 0 1,0 -6.4,0M584.4,936.6a3.2,3.2 0 1,0 6.4,0a3.2,3.2 0 1,0 -6.4,0M585.9,942.8a3.2,3.2 0 1,0 6.4,0a3.2,3.2 0 1,0 -6.4,0M587.4,949.4a3.2,3.2 0 1,0 6.4,0a3.2,3.2 0 1,0 -6.4,0M588.9,948.2a3.2,3.2 0 1,0 6.4,0a3.2,3.2 0 1,0 -6.4,0M590.4,952.8a3.2,3.2 0 1,0 6.4,0a3.2,3.2 0 1,0 -6.4,0M591.9,949.5a3.2,3.2 0 1,0 6.4,0a3.2,3.2 0 1,0 -6.4,0M593.4,952.7a3.2,3.2 0 1,0 6.4,0a3.2,3.2 0 1,0 -6.4,0M594.9,957.5a3.2,3.2 0 1,0 6.4,0a3.2,3.2 0 1,0 -6.4,0M596.4,959.1a3.2,3.2 0 1,0 6.4,0a3.2,3.2 0 1,0 -6.4,0M597.9,954.5a3.2,3.2 0 1,0 6.4,0a3.2,3.2 0 1,0 -6.4,0M599.4,955.6a3.2,3.2 0 1,0 6.4,0a3.2,3.2 0 1,0 -6.4,0M600.9,959.5a3.2,3.2 0 1,0 6.4,0a3.2,3.2 0 1,0 -6.4,0M602.4,956.7a3.2,3.2 0 1,0 6.4,0a3.2,3.2 0 1,0 -6.4,0M603.9,956.4a3.2,3.2 0 1,0 6.4,0a3.2,3.2 0 1,0 -6.4,0M605.4,959a3.2,3.2 0 1,0 6.4,0a3.2,3.2 0 1,0 -6.4,0M606.9,958.3a3.2,3.2 0 1,0 6.4,0a3.2,3.2 0 1,0 -6.4,0M608.4,960.5a3.2,3.2 0 1,0 6.4,0a3.2,3.2 0 1,0 -6.4,0M609.9,959.8a3.2,3.2 0 1,0 6.4,0a3.2,3.2 0 1,0 -6.4,0M611.4,956.5a3.2,3.2 0 1,0 6.4,0a3.2,3.2 0 1,0 -6.4,0M612.9,957.7a3.2,3.2 0 1,0 6.4,0a3.2,3.2 0 1,0 -6.4,0M614.4,957.8a3.2,3.2 0 1,0 6.4,0a3.2,3.2 0 1,0 -6.4,0M615.9,954.7a3.2,3.2 0 1,0 6.4,0a3.2,3.2 0 1,0 -6.4,0M617.4,955.7a3.2,3.2 0 1,0 6.4,0a3.2,3.2 0 1,0 -6.4,0M618.9,960.4a3.2,3.2 0 1,0 6.4,0a3.2,3.2 0 1,0 -6.4,0M620.4,954.2a3.2,3.2 0 1,0 6.4,0a3.2,3.2 0 1,0 -6.4,0M621.9,960.5a3.2,3.2 0 1,0 6.4,0a3.2,3.2 0 1,0 -6.4,0M623.4,958.8a3.2,3.2 0 1,0 6.4,0a3.2,3.2 0 1,0 -6.4,0M624.9,957.8a3.2,3.2 0 1,0 6.4,0a3.2,3.2 0 1,0 -6.4,0M626.4,959.4a3.2,3.2 0 1,0 6.4,0a3.2,3.2 0 1,0 -6.4,0M627.9,959.3a3.2,3.2 0 1,0 6.4,0a3.2,3.2 0 1,0 -6.4,0M629.4,961a3.2,3.2 0 1,0 6.4,0a3.2,3.2 0 1,0 -6.4,0M630.9,957.2a3.2,3.2 0 1,0 6.4,0a3.2,3.2 0 1,0 -6.4,0M632.4,957.6a3.2,3.2 0 1,0 6.4,0a3.2,3.2 0 1,0 -6.4,0M633.9,957.6a3.2,3.2 0 1,0 6.4,0a3.2,3.2 0 1,0 -6.4,0M635.4,962.7a3.2,3.2 0 1,0 6.4,0a3.2,3.2 0 1,0 -6.4,0M636.9,960.5a3.2,3.2 0 1,0 6.4,0a3.2,3.2 0 1,0 -6.4,0M638.4,956a3.2,3.2 0 1,0 6.4,0a3.2,3.2 0 1,0 -6.4,0M639.9,957.4a3.2,3.2 0 1,0 6.4,0a3.2,3.2 0 1,0 -6.4,0M641.4,956.5a3.2,3.2 0 1,0 6.4,0a3.2,3.2 0 1,0 -6.4,0M642.9,958.2a3.2,3.2 0 1,0 6.4,0a3.2,3.2 0 1,0 -6.4,0M644.4,958.7a3.2,3.2 0 1,0 6.4,0a3.2,3.2 0 1,0 -6.4,0M645.9,963.8a3.2,3.2 0 1,0 6.4,0a3.2,3.2 0 1,0 -6.4,0M647.4,953.8a3.2,3.2 0 1,0 6.4,0a3.2,3.2 0 1,0 -6.4,0M648.9,960.7a3.2,3.2 0 1,0 6.4,0a3.2,3.2 0 1,0 -6.4,0M650.4,959.3a3.2,3.2 0 1,0 6.4,0a3.2,3.2 0 1,0 -6.4,0M651.9,956.6a3.2,3.2 0 1,0 6.4,0a3.2,3.2 0 1,0 -6.4,0M653.4,957.9a3.2,3.2 0 1,0 6.4,0a3.2,3.2 0 1,0 -6.4,0M654.9,957.1a3.2,3.2 0 1,0 6.4,0a3.2,3.2 0 1,0 -6.4,0M656.4,958.4a3.2,3.2 0 1,0 6.4,0a3.2,3.2 0 1,0 -6.4,0M657.9,960.7a3.2,3.2 0 1,0 6.4,0a3.2,3.2 0 1,0 -6.4,0M659.4,954.6a3.2,3.2 0 1,0 6.4,0a3.2,3.2 0 1,0 -6.4,0M660.9,961.5a3.2,3.2 0 1,0 6.4,0a3.2,3.2 0 1,0 -6.4,0M662.4,957.4a3.2,3.2 0 1,0 6.4,0a3.2,3.2 0 1,0 -6.4,0M663.9,961.9a3.2,3.2 0 1,0 6.4,0a3.2,3.2 0 1,0 -6.4,0M665.4,959.3a3.2,3.2 0 1,0 6.4,0a3.2,3.2 0 1,0 -6.4,0M666.9,961.3a3.2,3.2 0 1,0 6.4,0a3.2,3.2 0 1,0 -6.4,0M668.4,959.7a3.2,3.2 0 1,0 6.4,0a3.2,3.2 0 1,0 -6.4,0M669.9,961a3.2,3.2 0 1,0 6.4,0a3.2,3.2 0 1,0 -6.4,0M671.4,958.5a3.2,3.2 0 1,0 6.4,0a3.2,3.2 0 1,0 -6.4,0M672.9,956.3a3.2,3.2 0 1,0 6.4,0a3.2,3.2 0 1,0 -6.4,0M674.4,960a3.2,3.2 0 1,0 6.4,0a3.2,3.2 0 1,0 -6.4,0M675.9,960.1a3.2,3.2 0 1,0 6.4,0a3.2,3.2 0 1,0 -6.4,0M677.4,963.4a3.2,3.2 0 1,0 6.4,0a3.2,3.2 0 1,0 -6.4,0M678.9,953.5a3.2,3.2 0 1,0 6.4,0a3.2,3.2 0 1,0 -6.4,0M680.4,957.9a3.2,3.2 0 1,0 6.4,0a3.2,3.2 0 1,0 -6.4,0M681.9,960.9a3.2,3.2 0 1,0 6.4,0a3.2,3.2 0 1,0 -6.4,0M683.4,955.4a3.2,3.2 0 1,0 6.4,0a3.2,3.2 0 1,0 -6.4,0M684.9,957.8a3.2,3.2 0 1,0 6.4,0a3.2,3.2 0 1,0 -6.4,0M686.4,963.5a3.2,3.2 0 1,0 6.4,0a3.2,3.2 0 1,0 -6.4,0M687.9,961.8a3.2,3.2 0 1,0 6.4,0a3.2,3.2 0 1,0 -6.4,0M689.4,956.3a3.2,3.2 0 1,0 6.4,0a3.2,3.2 0 1,0 -6.4,0M690.9,961.8a3.2,3.2 0 1,0 6.4,0a3.2,3.2 0 1,0 -6.4,0M692.4,961.3a3.2,3.2 0 1,0 6.4,0a3.2,3.2 0 1,0 -6.4,0M693.9,960.3a3.2,3.2 0 1,0 6.4,0a3.2,3.2 0 1,0 -6.4,0M695.4,959.3a3.2,3.2 0 1,0 6.4,0a3.2,3.2 0 1,0 -6.4,0M696.9,959a3.2,3.2 0 1,0 6.4,0a3.2,3.2 0 1,0 -6.4,0M698.4,956.3a3.2,3.2 0 1,0 6.4,0a3.2,3.2 0 1,0 -6.4,0M699.9,957.2a3.2,3.2 0 1,0 6.4,0a3.2,3.2 0 1,0 -6.4,0M701.4,960.2a3.2,3.2 0 1,0 6.4,0a3.2,3.2 0 1,0 -6.4,0M702.9,958.8a3.2,3.2 0 1,0 6.4,0a3.2,3.2 0 1,0 -6.4,0M704.4,962.9a3.2,3.2 0 1,0 6.4,0a3.2,3.2 0 1,0 -6.4,0M705.9,957.6a3.2,3.2 0 1,0 6.4,0a3.2,3.2 0 1,0 -6.4,0M707.4,952.7a3.2,3.2 0 1,0 6.4,0a3.2,3.2 0 1,0 -6.4,0M708.9,957.6a3.2,3.2 0 1,0 6.4,0a3.2,3.2 0 1,0 -6.4,0M710.4,959.1a3.2,3.2 0 1,0 6.4,0a3.2,3.2 0 1,0 -6.4,0M711.9,959.4a3.2,3.2 0 1,0 6.4,0a3.2,3.2 0 1,0 -6.4,0M713.4,958.6a3.2,3.2 0 1,0 6.4,0a3.2,3.2 0 1,0 -6.4,0M714.9,956.5a3.2,3.2 0 1,0 6.4,0a3.2,3.2 0 1,0 -6.4,0M716.4,962.1a3.2,3.2 0 1,0 6.4,0a3.2,3.2 0 1,0 -6.4,0M717.9,956.9a3.2,3.2 0 1,0 6.4,0a3.2,3.2 0 1,0 -6.4,0M719.4,960.2a3.2,3.2 0 1,0 6.4,0a3.2,3.2 0 1,0 -6.4,0M720.9,957.8a3.2,3.2 0 1,0 6.4,0a3.2,3.2 0 1,0 -6.4,0M722.4,955.6a3.2,3.2 0 1,0 6.4,0a3.2,3.2 0 1,0 -6.4,0M723.9,961.9a3.2,3.2 0 1,0 6.4,0a3.2,3.2 0 1,0 -6.4,0M725.4,952.4a3.2,3.2 0 1,0 6.4,0a3.2,3.2 0 1,0 -6.4,0M726.9,956.4a3.2,3.2 0 1,0 6.4,0a3.2,3.2 0 1,0 -6.4,0M728.4,959.5a3.2,3.2 0 1,0 6.4,0a3.2,3.2 0 1,0 -6.4,0M729.9,957.6a3.2,3.2 0 1,0 6.4,0a3.2,3.2 0 1,0 -6.4,0M731.4,960.3a3.2,3.2 0 1,0 6.4,0a3.2,3.2 0 1,0 -6.4,0M732.9,958.2a3.2,3.2 0 1,0 6.4,0a3.2,3.2 0 1,0 -6.4,0M734.4,957.4a3.2,3.2 0 1,0 6.4,0a3.2,3.2 0 1,0 -6.4,0M735.9,963.7a3.2,3.2 0 1,0 6.4,0a3.2,3.2 0 1,0 -6.4,0M737.4,957.9a3.2,3.2 0 1,0 6.4,0a3.2,3.2 0 1,0 -6.4,0M738.9,958.1a3.2,3.2 0 1,0 6.4,0a3.2,3.2 0 1,0 -6.4,0M740.4,955.9a3.2,3.2 0 1,0 6.4,0a3.2,3.2 0 1,0 -6.4,0M741.9,956.7a3.2,3.2 0 1,0 6.4,0a3.2,3.2 0 1,0 -6.4,0M743.4,960a3.2,3.2 0 1,0 6.4,0a3.2,3.2 0 1,0 -6.4,0M744.9,959.8a3.2,3.2 0 1,0 6.4,0a3.2,3.2 0 1,0 -6.4,0M746.4,958.4a3.2,3.2 0 1,0 6.4,0a3.2,3.2 0 1,0 -6.4,0M747.9,956.8a3.2,3.2 0 1,0 6.4,0a3.2,3.2 0 1,0 -6.4,0M749.4,960.1a3.2,3.2 0 1,0 6.4,0a3.2,3.2 0 1,0 -6.4,0M750.9,954.3a3.2,3.2 0 1,0 6.4,0a3.2,3.2 0 1,0 -6.4,0M752.4,957.6a3.2,3.2 0 1,0 6.4,0a3.2,3.2 0 1,0 -6.4,0M753.9,957.8a3.2,3.2 0 1,0 6.4,0a3.2,3.2 0 1,0 -6.4,0M755.4,956.4a3.2,3.2 0 1,0 6.4,0a3.2,3.2 0 1,0 -6.4,0M756.9,958.7a3.2,3.2 0 1,0 6.4,0a3.2,3.2 0 1,0 -6.4,0M758.4,956.8a3.2,3.2 0 1,0 6.4,0a3.2,3.2 0 1,0 -6.4,0M759.9,956.4a3.2,3.2 0 1,0 6.4,0a3.2,3.2 0 1,0 -6.4,0M761.4,962.6a3.2,3.2 0 1,0 6.4,0a3.2,3.2 0 1,0 -6.4,0M762.9,960.1a3.2,3.2 0 1,0 6.4,0a3.2,3.2 0 1,0 -6.4,0M764.4,961.1a3.2,3.2 0 1,0 6.4,0a3.2,3.2 0 1,0 -6.4,0M765.9,958.4a3.2,3.2 0 1,0 6.4,0a3.2,3.2 0 1,0 -6.4,0M767.4,960.5a3.2,3.2 0 1,0 6.4,0a3.2,3.2 0 1,0 -6.4,0M768.9,960a3.2,3.2 0 1,0 6.4,0a3.2,3.2 0 1,0 -6.4,0M770.4,961a3.2,3.2 0 1,0 6.4,0a3.2,3.2 0 1,0 -6.4,0M771.9,963.7a3.2,3.2 0 1,0 6.4,0a3.2,3.2 0 1,0 -6.4,0M773.4,957.4a3.2,3.2 0 1,0 6.4,0a3.2,3.2 0 1,0 -6.4,0M774.9,958.5a3.2,3.2 0 1,0 6.4,0a3.2,3.2 0 1,0 -6.4,0M776.4,957.6a3.2,3.2 0 1,0 6.4,0a3.2,3.2 0 1,0 -6.4,0M777.9,949.2a3.2,3.2 0 1,0 6.4,0a3.2,3.2 0 1,0 -6.4,0M779.4,954a3.2,3.2 0 1,0 6.4,0a3.2,3.2 0 1,0 -6.4,0M780.9,956.9a3.2,3.2 0 1,0 6.4,0a3.2,3.2 0 1,0 -6.4,0M782.4,957.6a3.2,3.2 0 1,0 6.4,0a3.2,3.2 0 1,0 -6.4,0M783.9,953.3a3.2,3.2 0 1,0 6.4,0a3.2,3.2 0 1,0 -6.4,0M785.4,955.1a3.2,3.2 0 1,0 6.4,0a3.2,3.2 0 1,0 -6.4,0M786.9,951.7a3.2,3.2 0 1,0 6.4,0a3.2,3.2 0 1,0 -6.4,0M788.4,941.9a3.2,3.2 0 1,0 6.4,0a3.2,3.2 0 1,0 -6.4,0M789.9,937.9a3.2,3.2 0 1,0 6.4,0a3.2,3.2 0 1,0 -6.4,0M791.4,927.1a3.2,3.2 0 1,0 6.4,0a3.2,3.2 0 1,0 -6.4,0M792.9,909.1a3.2,3.2 0 1,0 6.4,0a3.2,3.2 0 1,0 -6.4,0M794.4,887.7a3.2,3.2 0 1,0 6.4,0a3.2,3.2 0 1,0 -6.4,0M795.9,873.5a3.2,3.2 0 1,0 6.4,0a3.2,3.2 0 1,0 -6.4,0M797.4,849.1a3.2,3.2 0 1,0 6.4,0a3.2,3.2 0 1,0 -6.4,0M798.9,829.8a3.2,3.2 0 1,0 6.4,0a3.2,3.2 0 1,0 -6.4,0M800.4,816.4a3.2,3.2 0 1,0 6.4,0a3.2,3.2 0 1,0 -6.4,0M801.9,806.8a3.2,3.2 0 1,0 6.4,0a3.2,3.2 0 1,0 -6.4,0M803.4,810.4a3.2,3.2 0 1,0 6.4,0a3.2,3.2 0 1,0 -6.4,0M804.9,817.3a3.2,3.2 0 1,0 6.4,0a3.2,3.2 0 1,0 -6.4,0M806.4,832.5a3.2,3.2 0 1,0 6.4,0a3.2,3.2 0 1,0 -6.4,0M807.9,849.6a3.2,3.2 0 1,0 6.4,0a3.2,3.2 0 1,0 -6.4,0M809.4,866.7a3.2,3.2 0 1,0 6.4,0a3.2,3.2 0 1,0 -6.4,0M810.9,888.4a3.2,3.2 0 1,0 6.4,0a3.2,3.2 0 1,0 -6.4,0M812.4,909.1a3.2,3.2 0 1,0 6.4,0a3.2,3.2 0 1,0 -6.4,0M813.9,921.1a3.2,3.2 0 1,0 6.4,0a3.2,3.2 0 1,0 -6.4,0M815.4,940.9a3.2,3.2 0 1,0 6.4,0a3.2,3.2 0 1,0 -6.4,0M816.9,941.9a3.2,3.2 0 1,0 6.4,0a3.2,3.2 0 1,0 -6.4,0M818.4,947a3.2,3.2 0 1,0 6.4,0a3.2,3.2 0 1,0 -6.4,0M819.9,955a3.2,3.2 0 1,0 6.4,0a3.2,3.2 0 1,0 -6.4,0M821.4,956.5a3.2,3.2 0 1,0 6.4,0a3.2,3.2 0 1,0 -6.4,0M822.9,956.1a3.2,3.2 0 1,0 6.4,0a3.2,3.2 0 1,0 -6.4,0M824.4,956.4a3.2,3.2 0 1,0 6.4,0a3.2,3.2 0 1,0 -6.4,0M825.9,958.5a3.2,3.2 0 1,0 6.4,0a3.2,3.2 0 1,0 -6.4,0M827.4,959.8a3.2,3.2 0 1,0 6.4,0a3.2,3.2 0 1,0 -6.4,0M828.9,959.8a3.2,3.2 0 1,0 6.4,0a3.2,3.2 0 1,0 -6.4,0M830.4,957.3a3.2,3.2 0 1,0 6.4,0a3.2,3.2 0 1,0 -6.4,0M831.9,959.2a3.2,3.2 0 1,0 6.4,0a3.2,3.2 0 1,0 -6.4,0M833.4,960.3a3.2,3.2 0 1,0 6.4,0a3.2,3.2 0 1,0 -6.4,0M834.9,960.2a3.2,3.2 0 1,0 6.4,0a3.2,3.2 0 1,0 -6.4,0M836.4,951a3.2,3.2 0 1,0 6.4,0a3.2,3.2 0 1,0 -6.4,0M837.9,956.3a3.2,3.2 0 1,0 6.4,0a3.2,3.2 0 1,0 -6.4,0M839.4,956.6a3.2,3.2 0 1,0 6.4,0a3.2,3.2 0 1,0 -6.4,0M840.9,958a3.2,3.2 0 1,0 6.4,0a3.2,3.2 0 1,0 -6.4,0M842.4,959a3.2,3.2 0 1,0 6.4,0a3.2,3.2 0 1,0 -6.4,0M843.9,960.8a3.2,3.2 0 1,0 6.4,0a3.2,3.2 0 1,0 -6.4,0M845.4,960.1a3.2,3.2 0 1,0 6.4,0a3.2,3.2 0 1,0 -6.4,0M846.9,958.4a3.2,3.2 0 1,0 6.4,0a3.2,3.2 0 1,0 -6.4,0M848.4,958.7a3.2,3.2 0 1,0 6.4,0a3.2,3.2 0 1,0 -6.4,0M849.9,962.9a3.2,3.2 0 1,0 6.4,0a3.2,3.2 0 1,0 -6.4,0M851.4,957.3a3.2,3.2 0 1,0 6.4,0a3.2,3.2 0 1,0 -6.4,0M852.9,959.5a3.2,3.2 0 1,0 6.4,0a3.2,3.2 0 1,0 -6.4,0M854.4,962.5a3.2,3.2 0 1,0 6.4,0a3.2,3.2 0 1,0 -6.4,0M855.9,959.6a3.2,3.2 0 1,0 6.4,0a3.2,3.2 0 1,0 -6.4,0M857.4,953.9a3.2,3.2 0 1,0 6.4,0a3.2,3.2 0 1,0 -6.4,0M858.9,959.7a3.2,3.2 0 1,0 6.4,0a3.2,3.2 0 1,0 -6.4,0M860.4,957.9a3.2,3.2 0 1,0 6.4,0a3.2,3.2 0 1,0 -6.4,0M861.9,958.6a3.2,3.2 0 1,0 6.4,0a3.2,3.2 0 1,0 -6.4,0M863.4,961.4a3.2,3.2 0 1,0 6.4,0a3.2,3.2 0 1,0 -6.4,0M864.9,960a3.2,3.2 0 1,0 6.4,0a3.2,3.2 0 1,0 -6.4,0M866.4,958.3a3.2,3.2 0 1,0 6.4,0a3.2,3.2 0 1,0 -6.4,0" fill="#fff" stroke="#2b2b2b" stroke-width="1.0"/>
<path d="M524.6,960.1l1,0 1,0 1-.1 1,0 1,0 1,0 1,0 1,0 1,0 1,0 1,0 1-.1 1,0 1,0 1,0 1-.1 1,0 1,0 1-.1 1-.1 1-.1 1-.1 1-.2 1-.3 1-.3 1-.4 1-.6 1-.8 1-1 1-1.2 1-1.6 1-1.9 1-2.3 1-2.7 1-3.2 1-3.7 1-4.2 1-4.6 1-4.9 1-5.2 1-5.4 1-5.5 1-5.2 1-5 1-4.4 1-3.8 1-2.9 1-1.9 1-.7 1,.3 1,1.5 1,2.5 1,3.4 1,4.2 1,4.8 1,5.1 1,5.4 1,5.5 1,5.3 1,5.1 1,4.7 1,4.3 1,3.9 1,3.4 1,3 1,2.4 1,2.1 1,1.7 1,1.4 1,1.1 1,.8 1,.7 1,.5 1,.4 1,.2 1,.3 1,.1 1,.1 1,.1 1,.1 1,.1 1,0 1,0 1,.1 1,0 1,0 1,.1 1,0 1,0 1,0 1,0 1,.1 1,0 1,0 1,0 1,0 1,0 1,0 1,0 1,.1 1,0 1,0 1,0 1,0 1,0 1,0 1,0 1,0 1,0 1,0 1,0 1,.1 1,0 1,0 1,0 1,0 1,0 1,0 1,0 1,0 1,0 1,0 1,0 1,0 1,0 1,0 1,0 1,0 1,.1 1,0 1,0 1,0 1,0 1,0 1,0 1,0 1,0 1,0 1,0 1,0 1,0 1,0 1,0 1,0 1,0 1,0 1,0 1,0 1,0 1,0 1,0 1,0 1,0 1,0 1,0 1,.1 1,0 1,0 1,0 1,0 1,0 1,0 1,0 1,0 1,0 1,0 1,0 1,0 1,0 1,0 1,0 1,0 1,0 1,0 1,0 1,0 1,0 1,0 1,0 1,0 1,0 1,0 1,0 1,0 1,0 1,0 1,0 1,0 1,0 1,0 1,0 1,0 1,0 1,0 1,0 1,0 1,0 1,0 1,0 1,0 1,0 1,0 1,0 1,0 1,0 1,0 1,0 1,0 1,0 1,0 1,0 1,0 1,0 1,0 1,0 1,0 1,0 1,0 1,0 1,0 1,0 1,0 1,0 1,0 1,0 1,0 1,0 1,0 1,0 1,0 1,0 1,0 1-.1 1,0 1,0 1,0 1,0 1,0 1,0 1,0 1-.1 1,0 1,0 1,0 1,0 1-.1 1,0 1,0 1-.1 1,0 1,0 1-.1 1-.1 1,0 1-.1 1-.1 1-.2 1-.2 1-.2 1-.4 1-.6 1-.9 1-1.1 1-1.7 1-2.3 1-3.1 1-4.1 1-5.3 1-6.6 1-8.1 1-9.5 1-11.1 1-12.2 1-13.3 1-13.7 1-13.6 1-12.9 1-11.3 1-9.1 1-6.3 1-2.8 1,.7 1,4.2 1,7.5 1,10.1 1,12 1,13.3 1,13.8 1,13.5 1,13 1,11.8 1,10.4 1,9 1,7.5 1,6.1 1,4.7 1,3.7 1,2.8 1,2 1,1.5 1,1 1,.8 1,.5 1,.3 1,.3 1,.2 1,.1 1,.1 1,.1 1,0 1,.1 1,.1 1,0 1,0 1,.1 1,0 1,0 1,.1 1,0 1,0 1,.1 1,0 1,0 1,0 1,0 1,.1 1,0 1,0 1,0 1,0 1,0 1,.1 1,0 1,0 1,0 1,0 1,0 1,0 1,0 1,.1 1,0 1,0 1,0 1,0 1,0 1,0 1,0 1,0 1,0" fill="none" stroke="#2e62a0" stroke-width="1.9" stroke-linejoin="round"/>
<rect x="523.6" y="747.9" width="351.5" height="283.5" fill="none" stroke="#111" stroke-width="1.7"/>
<path d="M523.6,1031.4v-5M573.8,1031.4v-5M624.0,1031.4v-5M674.2,1031.4v-5M724.5,1031.4v-5M774.7,1031.4v-5M824.9,1031.4v-5M875.1,1031.4v-5M548.7,1031.4v-3M598.9,1031.4v-3M649.1,1031.4v-3M699.4,1031.4v-3M749.6,1031.4v-3M799.8,1031.4v-3M850.0,1031.4v-3" stroke="#111" stroke-width="1.5"/>
<text x="523.6" y="1049.9" font-size="15.5" text-anchor="middle" fill="#111">1050</text>
<text x="573.8" y="1049.9" font-size="15.5" text-anchor="middle" fill="#111">1045</text>
<text x="624.0" y="1049.9" font-size="15.5" text-anchor="middle" fill="#111">1040</text>
<text x="674.2" y="1049.9" font-size="15.5" text-anchor="middle" fill="#111">1035</text>
<text x="724.5" y="1049.9" font-size="15.5" text-anchor="middle" fill="#111">1030</text>
<text x="774.7" y="1049.9" font-size="15.5" text-anchor="middle" fill="#111">1025</text>
<text x="824.9" y="1049.9" font-size="15.5" text-anchor="middle" fill="#111">1020</text>
<text x="875.1" y="1049.9" font-size="15.5" text-anchor="middle" fill="#111">1015</text>
<text x="631.2" y="1076.9" font-size="16" textLength="136.8" lengthAdjust="spacingAndGlyphs" fill="#111">Binding energy (eV)</text>
<text x="509.8" y="939.2" font-size="15.5" textLength="100.2" lengthAdjust="spacingAndGlyphs" fill="#111" transform="rotate(-90 510.3 939.2)">Intensity (a.u.)</text>
<text x="482.2" y="775.7" font-size="39.5" textLength="39.7" lengthAdjust="spacingAndGlyphs" fill="#111">(f)</text>
<text x="826.6" y="769.6" font-size="15" textLength="39.6" lengthAdjust="spacingAndGlyphs" fill="#111">Zn 2p</text>
<text x="556.4" y="871.8" font-size="13" textLength="44.3" lengthAdjust="spacingAndGlyphs" fill="#111">Zn 2p<tspan font-size="9.1" dy="3">1/2</tspan></text>
<text x="783.1" y="793.5" font-size="13" textLength="44.4" lengthAdjust="spacingAndGlyphs" fill="#111">Zn 2p<tspan font-size="9.1" dy="3">3/2</tspan></text>
<path d="M542.6,987.2a3.0,3.0 0 1,0 6,0a3.0,3.0 0 1,0 -6,0" fill="#fff" stroke="#2b2b2b" stroke-width="1.0"/>
<text x="566.5" y="991.7" font-size="12.8" fill="#111">Raw</text>
<line x1="528.9" y1="1005.9" x2="562.4" y2="1005.9" stroke="#2e62a0" stroke-width="1.9"/>
<text x="566.5" y="1010.2" font-size="12.8" fill="#111">Fitting</text>
</svg></body></html>
